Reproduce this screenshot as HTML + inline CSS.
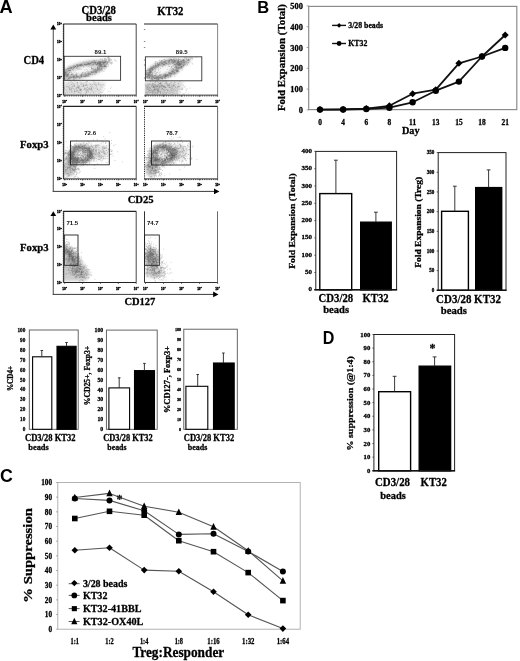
<!DOCTYPE html>
<html lang="en"><head><meta charset="utf-8"><title>Figure</title>
<style>html,body{margin:0;padding:0;background:#fff}svg{display:block}.se{font-family:"Liberation Serif", serif;font-weight:bold;stroke:#000;stroke-width:.28px;stroke-linejoin:round}.sa{font-family:"Liberation Sans", sans-serif;font-weight:bold}</style></head><body>
<svg width="520" height="661" viewBox="0 0 520 661">
<rect width="520" height="661" fill="#fff"/>
<defs><filter id="bl" x="-30%" y="-30%" width="160%" height="160%"><feGaussianBlur stdDeviation="1.6"/></filter><filter id="bs" x="-5%" y="-5%" width="110%" height="110%"><feGaussianBlur stdDeviation="0.35"/></filter></defs>
<text class="sa" x="-0.40" y="12.80" font-size="18.2">A</text>
<text class="se" x="98.70" y="13.50" font-size="12.4" stroke-width="0.40" text-anchor="middle" textLength="34.60" lengthAdjust="spacingAndGlyphs">CD3/28</text>
<text class="se" x="99.00" y="21.30" font-size="10.6" stroke-width="0.34" text-anchor="middle" textLength="25.80" lengthAdjust="spacingAndGlyphs">beads</text>
<text class="se" x="157.20" y="14.60" font-size="11.6" stroke-width="0.37" textLength="26.30" lengthAdjust="spacingAndGlyphs">KT32</text>
<text class="se" x="23.50" y="64.20" font-size="12" stroke-width="0.38" textLength="20.70" lengthAdjust="spacingAndGlyphs">CD4</text>
<text class="se" x="20.00" y="147.80" font-size="11.2" stroke-width="0.36" textLength="28.60" lengthAdjust="spacingAndGlyphs">Foxp3</text>
<text class="se" x="20.00" y="250.80" font-size="11.2" stroke-width="0.36" textLength="28.60" lengthAdjust="spacingAndGlyphs">Foxp3</text>
<text class="se" x="127.70" y="203.20" font-size="11.4" stroke-width="0.36" textLength="26.00" lengthAdjust="spacingAndGlyphs">CD25</text>
<text class="se" x="124.40" y="305.40" font-size="11.2" stroke-width="0.36" textLength="31.00" lengthAdjust="spacingAndGlyphs">CD127</text>
<line x1="53.30" y1="27.60" x2="53.30" y2="191.40" stroke="#666" stroke-width="1.2"/>
<line x1="52.70" y1="191.40" x2="216.40" y2="191.40" stroke="#3a3a3a" stroke-width="1"/>
<polygon points="53.3,24.6 50.4,29.5 56.199999999999996,29.5" fill="#000"/>
<polygon points="219.4,191.4 214.0,188.5 214.0,194.3" fill="#000"/>
<line x1="53.30" y1="214.20" x2="53.30" y2="294.40" stroke="#666" stroke-width="1.2"/>
<line x1="52.70" y1="294.40" x2="215.50" y2="294.40" stroke="#3a3a3a" stroke-width="1"/>
<polygon points="53.3,211.2 50.4,216.1 56.199999999999996,216.1" fill="#000"/>
<polygon points="218.5,294.4 213.1,291.5 213.1,297.29999999999995" fill="#000"/>
<clipPath id="c1"><rect x="64.0" y="24.5" width="71.69999999999999" height="70.8"/></clipPath><g clip-path="url(#c1)">
<ellipse cx="84" cy="69.5" rx="25" ry="8" transform="rotate(-14 84 69.5)" fill="#999" opacity="0.24" filter="url(#bl)"/>
<ellipse cx="81" cy="70.8" rx="11" ry="2.6" transform="rotate(-14 81 70.8)" fill="#fff" opacity="0.75" filter="url(#bl)"/>
<ellipse cx="83" cy="70" rx="20" ry="5.8" transform="rotate(-14 83 70)" fill="none" stroke="#444" stroke-width="2.4" opacity="0.42" filter="url(#bl)"/>
<polygon points="96,60 110,57.5 113,62 102,67" fill="#999" opacity="0.2" filter="url(#bl)"/>
<polygon points="62,82 106,82 100,95 62,96" fill="#999" opacity="0.28" filter="url(#bl)"/>
<path d="M104.4 68.0h.01M85.8 61.9h.01M68.5 75.5h.01M79.8 66.7h.01M101.5 64.6h.01M65.0 74.4h.01M98.8 68.3h.01M82.1 76.7h.01M74.3 72.2h.01M74.7 67.4h.01M86.7 65.0h.01M68.9 77.8h.01M98.6 68.2h.01M80.5 75.1h.01M97.5 63.4h.01M87.1 73.1h.01M64.9 76.3h.01M97.7 64.2h.01M100.9 66.4h.01M68.9 70.5h.01M104.3 62.5h.01M86.7 74.9h.01M100.1 62.2h.01M94.8 70.8h.01M81.6 64.0h.01M71.7 67.3h.01M65.8 75.4h.01M89.2 73.7h.01M67.1 74.7h.01M69.9 78.2h.01M91.3 63.2h.01M84.0 62.9h.01M76.1 77.7h.01M82.2 72.8h.01M67.0 75.5h.01M74.5 75.9h.01M71.4 68.0h.01M72.5 76.3h.01M66.9 75.3h.01M77.2 64.8h.01M89.7 66.9h.01M91.9 72.9h.01M80.4 64.3h.01M66.5 76.9h.01M67.4 76.4h.01M72.8 69.3h.01M67.3 73.2h.01M64.7 78.1h.01M106.6 64.2h.01M100.3 69.0h.01M77.8 66.5h.01M75.6 66.5h.01M103.3 63.1h.01M73.6 66.8h.01M99.5 67.6h.01M77.1 77.3h.01M70.0 70.7h.01M86.7 76.0h.01M106.0 62.6h.01M96.6 65.1h.01M94.0 62.0h.01M67.9 74.6h.01M94.4 61.1h.01M99.8 71.0h.01M77.6 76.7h.01M80.8 65.1h.01M66.3 74.6h.01M95.2 71.0h.01M73.7 77.2h.01M76.0 76.7h.01M78.1 77.1h.01M92.7 72.1h.01M64.6 78.1h.01M84.5 64.3h.01M86.0 65.2h.01M85.0 63.8h.01M93.3 64.6h.01M72.4 67.0h.01M89.2 61.1h.01M93.9 65.9h.01M104.0 66.4h.01M95.0 63.1h.01M81.5 75.3h.01M86.2 65.0h.01M77.3 65.2h.01M99.2 72.0h.01M70.9 67.8h.01M98.0 68.3h.01M75.9 74.8h.01M87.6 64.8h.01M72.4 74.3h.01M79.2 65.3h.01M88.6 64.3h.01M82.9 65.6h.01M98.3 66.4h.01M67.8 76.5h.01M69.2 74.5h.01M108.0 66.5h.01M66.7 72.7h.01M69.5 70.2h.01M91.4 62.3h.01M105.7 61.6h.01M101.3 70.9h.01M86.4 74.5h.01M70.7 67.8h.01M97.5 70.9h.01M88.0 75.3h.01M91.6 72.1h.01M84.9 65.1h.01M94.4 62.3h.01M97.7 67.3h.01M87.3 63.2h.01M98.1 65.5h.01M81.5 75.9h.01M92.6 72.3h.01M95.5 62.8h.01M101.5 61.5h.01M88.4 72.7h.01M72.0 74.1h.01M77.5 65.1h.01M92.4 62.9h.01M94.1 72.6h.01M70.9 67.4h.01M88.4 63.3h.01M92.1 71.9h.01M102.5 66.5h.01M81.0 75.4h.01M87.3 64.6h.01M104.4 66.5h.01M104.7 64.9h.01M76.0 74.5h.01M97.3 68.2h.01M96.3 71.8h.01M106.6 65.2h.01M66.2 73.4h.01M75.6 66.4h.01M71.0 74.9h.01M103.9 71.5h.01M73.9 78.0h.01M102.9 62.6h.01M105.9 64.0h.01M85.7 76.0h.01M101.2 65.8h.01M92.4 61.6h.01M100.0 63.1h.01M84.0 64.7h.01M93.6 63.4h.01M65.0 70.2h.01M98.7 60.7h.01M103.0 65.9h.01M81.9 75.3h.01M81.1 76.2h.01M96.6 70.3h.01M104.6 60.2h.01M105.8 65.7h.01M70.1 66.6h.01M102.2 68.0h.01M72.9 76.6h.01M95.5 74.1h.01M74.9 78.7h.01M80.2 65.2h.01M96.3 72.5h.01M90.0 73.0h.01M74.3 76.0h.01M68.5 78.2h.01M90.1 74.4h.01M105.4 60.4h.01M90.5 63.2h.01M99.1 69.7h.01M73.6 75.7h.01M85.2 73.2h.01M71.4 74.1h.01M81.0 76.9h.01M68.1 73.7h.01M103.2 61.5h.01M65.8 79.5h.01M71.2 68.4h.01M81.8 64.1h.01M105.7 67.1h.01M81.1 64.8h.01M104.3 62.3h.01M69.8 70.4h.01M79.4 77.4h.01M73.6 67.5h.01M77.2 65.8h.01M69.6 67.7h.01M96.3 71.6h.01M101.6 64.4h.01M103.9 62.9h.01M70.8 70.7h.01M104.3 66.3h.01M104.8 64.1h.01M88.8 63.9h.01M68.2 68.8h.01M83.0 65.6h.01M94.2 74.3h.01M77.7 76.6h.01M84.8 75.4h.01M99.5 69.0h.01M99.3 61.9h.01M68.3 74.8h.01M67.3 75.7h.01M94.7 69.7h.01M74.4 66.9h.01M91.0 61.4h.01M68.0 69.2h.01M85.8 76.3h.01M85.3 64.8h.01M93.7 71.2h.01M90.1 63.4h.01M79.4 77.1h.01M66.8 69.2h.01M83.3 75.7h.01M92.9 62.6h.01M95.6 63.6h.01M92.0 62.4h.01M104.9 69.2h.01M69.8 68.4h.01M76.3 78.0h.01M82.2 64.9h.01M72.9 73.4h.01M94.2 64.4h.01M97.7 68.0h.01M74.6 77.8h.01M101.2 66.7h.01M82.3 65.7h.01M97.7 62.6h.01M68.7 70.6h.01M76.8 75.1h.01M98.0 65.8h.01M99.1 70.1h.01M103.0 67.1h.01M79.4 64.9h.01M71.0 77.2h.01M75.6 74.8h.01M96.0 62.5h.01M76.8 75.7h.01M97.1 62.6h.01M68.7 68.4h.01M76.1 76.3h.01M97.8 68.1h.01M85.4 76.6h.01M103.1 63.7h.01M69.7 76.2h.01M87.6 70.9h.01M78.6 76.7h.01M99.7 61.9h.01M96.6 72.9h.01M84.7 64.5h.01M95.1 70.9h.01M99.9 64.5h.01M97.6 67.6h.01M99.6 63.4h.01M73.9 76.0h.01M79.1 64.7h.01M69.6 72.7h.01M101.3 69.0h.01M97.5 69.7h.01M95.0 71.6h.01M95.7 72.4h.01M106.1 66.6h.01M95.5 68.0h.01M104.6 62.3h.01M102.0 68.9h.01M64.7 74.3h.01M102.5 70.3h.01M88.8 74.6h.01M83.2 62.4h.01M98.4 64.2h.01M67.5 74.8h.01M107.2 64.2h.01M110.8 63.0h.01M104.4 66.7h.01M66.5 78.6h.01M65.7 73.0h.01M93.4 64.6h.01M90.0 63.1h.01M73.7 74.5h.01M90.8 63.4h.01M90.5 65.4h.01M95.7 62.4h.01M76.8 64.7h.01M95.5 69.5h.01M78.9 76.3h.01M89.3 64.5h.01M85.1 73.9h.01M76.4 68.6h.01M68.4 78.5h.01M84.5 64.6h.01M92.4 74.5h.01M97.1 69.6h.01M88.3 73.9h.01M103.0 62.3h.01M76.3 77.3h.01M98.1 62.3h.01M70.0 72.6h.01M105.6 66.1h.01M86.2 64.5h.01M93.3 68.5h.01M89.8 63.7h.01M104.1 65.1h.01M68.6 66.1h.01M93.2 72.2h.01M76.0 75.4h.01M108.9 61.1h.01M71.8 68.1h.01M81.0 65.8h.01M95.7 69.9h.01M94.8 60.5h.01M98.1 63.3h.01M93.7 71.7h.01M65.9 72.7h.01M79.5 78.6h.01M80.8 65.3h.01M104.8 65.8h.01M87.0 63.0h.01M80.3 65.8h.01M101.1 69.7h.01M94.2 60.4h.01M85.9 75.2h.01M87.6 64.3h.01M68.6 73.7h.01M94.9 72.3h.01M79.8 65.2h.01M88.5 63.2h.01M75.5 66.2h.01M96.1 65.8h.01M83.8 76.7h.01M86.3 75.4h.01M95.6 71.6h.01M65.4 78.6h.01M71.9 77.5h.01M67.7 75.0h.01M81.0 77.8h.01M100.8 65.7h.01M66.9 74.9h.01M81.8 74.4h.01M65.0 76.4h.01M96.4 64.6h.01M91.6 72.7h.01M68.1 68.8h.01M69.9 68.5h.01M80.1 77.8h.01M100.3 64.7h.01M74.1 76.9h.01M77.7 66.1h.01M93.4 61.7h.01M71.6 77.5h.01M100.7 65.2h.01M65.9 69.3h.01M77.9 66.0h.01M71.4 74.8h.01M76.6 65.3h.01M81.3 76.6h.01M100.0 63.1h.01M65.6 72.9h.01M85.0 74.5h.01M66.4 76.3h.01M98.2 62.4h.01M88.4 63.2h.01M64.4 75.2h.01M73.5 76.7h.01M69.3 77.9h.01M103.0 64.3h.01M96.3 70.0h.01M99.1 61.6h.01M95.8 61.4h.01M88.2 75.6h.01M73.1 77.2h.01M65.5 71.9h.01M86.8 64.7h.01M103.8 62.7h.01M94.1 67.1h.01M80.8 76.0h.01M90.6 73.3h.01M64.4 72.5h.01M73.4 68.4h.01M94.4 69.8h.01M72.0 68.7h.01M99.8 62.9h.01M99.2 62.9h.01M100.0 63.8h.01M97.2 64.0h.01M100.7 64.2h.01M105.7 66.5h.01M95.5 64.5h.01M81.8 76.3h.01M73.6 79.5h.01M99.6 64.4h.01M64.7 70.4h.01M74.0 76.3h.01M70.3 77.4h.01M103.0 60.6h.01M93.0 60.1h.01M92.0 70.7h.01M84.8 76.4h.01M87.8 74.0h.01M89.0 76.2h.01M66.8 71.6h.01M101.9 62.7h.01M93.0 62.7h.01M93.2 69.6h.01M90.0 74.4h.01M67.8 76.8h.01M67.7 68.2h.01M84.4 76.5h.01M74.0 76.8h.01M90.5 74.4h.01M94.9 62.3h.01M73.8 65.5h.01M71.8 75.0h.01M77.4 67.0h.01M71.5 72.4h.01M71.0 77.4h.01M66.2 74.6h.01M99.4 65.4h.01M85.5 64.2h.01M89.4 64.1h.01M96.8 70.5h.01M65.5 74.2h.01M67.7 79.5h.01M101.3 68.8h.01M70.9 76.1h.01M98.9 68.4h.01M87.1 76.3h.01M87.9 62.6h.01M73.6 66.5h.01M74.4 65.7h.01M106.3 67.9h.01M91.5 71.8h.01M99.5 66.6h.01M93.9 69.5h.01M101.1 69.4h.01M100.1 64.4h.01M95.5 63.7h.01M88.8 73.4h.01M84.1 76.5h.01M101.0 64.1h.01M66.8 71.8h.01M67.8 79.3h.01M68.2 74.7h.01M82.0 74.7h.01M78.9 65.5h.01M65.7 73.8h.01M89.0 63.9h.01M98.2 70.0h.01M105.2 64.0h.01M97.0 71.8h.01M64.7 74.7h.01M73.0 69.4h.01M73.5 77.7h.01M107.3 62.2h.01M64.6 75.4h.01M100.5 61.7h.01M100.9 66.1h.01M95.0 62.7h.01M93.8 70.6h.01M70.7 76.9h.01M64.7 75.4h.01M105.1 66.2h.01M73.8 79.8h.01M69.1 79.4h.01M100.2 64.2h.01M96.8 64.0h.01M67.8 71.2h.01M96.8 64.6h.01M94.7 62.5h.01M69.1 78.0h.01M98.9 70.2h.01M66.3 70.3h.01M75.4 77.4h.01M101.9 65.6h.01M99.3 65.3h.01M108.3 62.2h.01M70.5 69.8h.01M74.2 67.9h.01M97.8 64.0h.01M88.1 75.8h.01M85.8 76.5h.01M87.8 76.0h.01M105.2 65.8h.01M69.8 78.1h.01M81.6 64.5h.01M81.8 74.1h.01M94.3 62.8h.01M100.9 65.9h.01M92.4 68.6h.01M86.6 71.8h.01M89.8 65.0h.01M89.2 73.8h.01M84.8 70.0h.01M83.8 74.2h.01M81.2 69.3h.01M68.1 73.1h.01M93.0 65.0h.01M92.1 68.9h.01M100.0 67.1h.01M92.0 64.9h.01M97.4 68.3h.01M78.2 66.6h.01M70.0 71.4h.01M88.2 74.4h.01M82.5 73.1h.01M81.0 64.6h.01M98.8 66.4h.01M99.2 64.4h.01M99.5 66.3h.01M86.8 69.5h.01M75.7 70.4h.01M97.9 69.6h.01M100.1 65.7h.01M76.3 72.9h.01M95.7 68.9h.01M92.1 68.6h.01M65.4 73.2h.01M92.0 65.0h.01M83.3 72.3h.01M76.5 75.0h.01M79.9 69.3h.01M77.8 68.7h.01M81.0 65.6h.01M76.8 76.5h.01M72.3 74.7h.01M91.7 66.3h.01M97.4 63.2h.01M77.0 73.4h.01M91.5 67.8h.01M90.7 71.7h.01M88.1 63.9h.01M88.2 66.6h.01M65.5 72.3h.01M76.6 67.6h.01M97.2 67.1h.01M88.7 65.0h.01M75.7 66.8h.01M77.9 69.2h.01M73.3 70.6h.01M91.5 68.7h.01M90.7 64.0h.01M69.0 72.8h.01M79.0 68.9h.01M89.0 71.7h.01M69.0 70.7h.01M85.2 72.9h.01M83.6 66.6h.01M100.6 62.7h.01M102.2 59.1h.01M103.0 64.4h.01M109.2 61.1h.01M107.4 63.2h.01M111.5 64.0h.01M102.2 61.8h.01M112.1 63.6h.01M108.0 61.2h.01M104.3 61.6h.01M111.2 59.6h.01M109.7 61.9h.01M106.0 62.6h.01M104.6 59.4h.01M107.9 62.7h.01M103.2 63.8h.01M108.9 57.9h.01M103.2 61.2h.01M99.0 63.9h.01M99.4 62.1h.01M105.3 62.5h.01M105.8 66.6h.01M101.2 63.2h.01M97.4 64.7h.01M110.3 63.2h.01M100.5 62.2h.01M110.9 60.1h.01M109.3 58.6h.01M111.6 62.5h.01M106.6 59.6h.01M103.1 62.5h.01M105.4 61.4h.01M102.8 62.7h.01M96.5 60.3h.01M100.2 59.0h.01M107.0 61.5h.01M102.6 60.8h.01M104.9 62.2h.01M105.8 59.9h.01M107.6 57.8h.01M100.7 60.1h.01M108.3 57.6h.01M115.2 60.4h.01M104.2 62.9h.01M116.1 61.2h.01M91.7 67.6h.01M105.3 58.1h.01M108.2 58.3h.01M105.0 62.3h.01M100.4 64.3h.01M98.4 63.8h.01M101.0 62.3h.01M114.6 59.8h.01M98.0 63.1h.01M99.8 63.1h.01M104.9 62.0h.01M104.5 60.7h.01M106.5 63.8h.01M100.6 62.7h.01M104.3 64.7h.01M109.9 59.0h.01M104.4 58.5h.01M98.7 63.3h.01M107.5 63.3h.01M102.3 59.4h.01M106.2 61.1h.01M106.3 61.8h.01M107.9 62.5h.01M108.6 59.9h.01M109.5 59.6h.01M104.5 66.1h.01M106.0 58.9h.01M112.2 62.3h.01M110.3 61.0h.01M105.9 61.0h.01M100.2 66.4h.01M102.0 61.4h.01M101.6 66.8h.01M108.8 60.0h.01M103.7 63.2h.01M108.8 57.2h.01M109.0 60.3h.01M100.2 62.0h.01M108.4 64.9h.01M104.8 63.1h.01" stroke="#555" stroke-width="0.8" stroke-linecap="square" fill="none" opacity="0.34"/>
<path d="M70.6 90.2h.01M93.5 81.3h.01M74.8 91.6h.01M76.4 88.2h.01M94.5 82.2h.01M97.5 89.4h.01M98.8 93.2h.01M86.8 90.2h.01M67.9 86.4h.01M77.5 82.1h.01M98.6 83.9h.01M76.3 82.8h.01M91.7 88.6h.01M72.6 86.4h.01M84.3 88.3h.01M92.6 86.4h.01M77.2 90.7h.01M86.4 92.9h.01M78.5 87.6h.01M65.8 94.7h.01M69.5 89.5h.01M92.4 80.6h.01M101.7 86.0h.01M100.4 94.7h.01M99.8 84.5h.01M71.8 86.5h.01M68.6 82.8h.01M98.9 90.8h.01M88.3 90.6h.01M96.3 94.8h.01M81.9 86.5h.01M67.7 92.9h.01M74.8 81.3h.01M78.2 88.1h.01M93.7 92.5h.01M71.8 84.4h.01M77.4 82.5h.01M80.5 90.1h.01M82.6 80.7h.01M65.3 93.8h.01M67.8 91.3h.01M90.8 86.6h.01M68.0 88.9h.01M69.6 87.2h.01M83.5 84.8h.01M78.8 86.6h.01M64.7 87.1h.01M77.3 86.7h.01M92.9 91.1h.01M91.1 89.5h.01M64.4 88.6h.01M74.7 91.0h.01M74.5 91.2h.01M89.7 89.3h.01M108.1 91.7h.01M95.8 82.3h.01M96.0 84.1h.01M81.1 82.7h.01M78.6 88.1h.01M85.6 94.3h.01M88.7 89.1h.01M73.9 93.3h.01M87.7 87.3h.01M97.9 89.5h.01M88.0 91.6h.01M104.8 88.8h.01M77.8 90.8h.01M89.5 88.4h.01M74.6 86.1h.01M83.3 85.6h.01M100.7 92.0h.01M104.2 94.4h.01M87.3 87.2h.01M73.4 84.1h.01M85.1 89.9h.01M96.5 87.0h.01M95.7 88.2h.01M80.2 90.5h.01M102.1 87.7h.01M92.8 84.6h.01M89.2 88.9h.01M74.2 85.0h.01M86.1 91.8h.01M82.0 83.6h.01M91.7 90.7h.01M111.1 87.0h.01M85.0 85.5h.01M93.9 83.4h.01M72.6 82.7h.01M100.8 85.2h.01M90.1 84.1h.01M83.1 85.2h.01M79.6 86.1h.01M66.9 86.9h.01M98.6 82.3h.01M81.1 94.4h.01M83.7 85.7h.01M69.3 88.8h.01M80.1 90.8h.01M76.3 90.9h.01M71.9 82.2h.01M74.1 83.7h.01M76.8 90.9h.01M97.1 88.9h.01M74.4 86.0h.01M90.3 93.1h.01M77.5 87.4h.01M71.5 88.9h.01M85.6 85.5h.01M80.7 89.7h.01M83.5 86.5h.01M103.3 90.9h.01M93.7 93.2h.01M77.1 89.3h.01M94.9 84.8h.01M86.5 91.4h.01M81.4 90.2h.01M65.9 89.7h.01M79.9 87.7h.01M95.8 91.2h.01M65.9 92.6h.01M81.7 91.7h.01M87.5 89.5h.01M84.0 89.6h.01M85.7 90.0h.01M76.3 87.9h.01M90.6 89.8h.01M71.8 89.0h.01M78.5 92.3h.01M74.2 91.1h.01M68.3 87.0h.01M68.7 87.2h.01M69.4 80.6h.01M88.2 88.9h.01M79.6 89.6h.01M110.5 88.5h.01M76.7 91.9h.01M71.2 84.3h.01M71.6 92.3h.01M87.3 81.7h.01M94.8 84.3h.01M71.8 90.7h.01M71.8 94.7h.01M85.1 84.8h.01M70.3 89.0h.01M69.6 90.8h.01M84.5 88.1h.01M93.7 88.0h.01M80.7 89.8h.01M86.5 89.0h.01M86.9 85.3h.01M102.2 92.6h.01M79.0 90.8h.01M75.8 89.7h.01M73.5 88.6h.01M110.0 91.5h.01M103.0 84.5h.01M72.4 87.8h.01M89.8 87.1h.01M96.2 85.5h.01M101.0 92.4h.01M66.4 90.6h.01M78.9 92.6h.01M74.5 89.4h.01M80.2 92.6h.01M85.2 82.3h.01M86.6 84.6h.01M78.8 85.7h.01M86.9 81.6h.01M69.9 82.8h.01M73.0 86.0h.01M90.6 88.8h.01M86.6 85.3h.01M81.0 93.5h.01M81.7 89.4h.01M85.6 93.8h.01M80.2 88.3h.01M73.1 88.9h.01M91.6 88.1h.01M77.7 87.0h.01M76.3 88.1h.01M80.0 82.0h.01M77.6 83.5h.01M81.0 84.1h.01M100.3 89.4h.01M83.1 83.1h.01M80.4 89.9h.01M72.4 91.9h.01M80.9 89.4h.01M74.5 85.6h.01M84.5 89.5h.01M86.3 83.2h.01M71.1 87.7h.01M85.8 88.0h.01M71.3 91.5h.01M86.8 81.1h.01M91.5 85.4h.01M74.0 86.7h.01M79.4 88.9h.01M91.9 89.8h.01M71.1 81.7h.01M69.9 89.4h.01M78.0 85.9h.01M83.1 86.6h.01M77.5 84.8h.01M86.7 92.5h.01M104.0 85.4h.01M66.4 86.6h.01M69.5 92.4h.01M69.7 88.1h.01M83.8 94.6h.01M71.5 89.4h.01M69.8 85.5h.01M87.2 90.6h.01M85.5 88.4h.01M78.6 87.6h.01M81.1 84.6h.01M91.6 88.9h.01M91.6 87.4h.01M90.6 84.3h.01M74.9 92.0h.01M98.4 84.1h.01M67.2 84.2h.01M78.8 92.3h.01M96.2 85.0h.01M88.6 91.7h.01" stroke="#555" stroke-width="0.8" stroke-linecap="square" fill="none" opacity="0.3"/>
</g>
<line x1="63.70" y1="24.00" x2="63.70" y2="95.30" stroke="#222" stroke-width="1"/>
<line x1="63.20" y1="24.00" x2="136.20" y2="24.00" stroke="#222" stroke-width="1.2"/>
<line x1="136.20" y1="24.00" x2="136.20" y2="95.30" stroke="#333" stroke-width="0.9"/>
<line x1="63.70" y1="95.10" x2="136.20" y2="95.10" stroke="#333" stroke-width="0.9"/>
<line x1="63.70" y1="95.90" x2="136.20" y2="95.90" stroke="#222" stroke-width="1.0" stroke-dasharray="0.9 0.9"/>
<line x1="63.30" y1="24.00" x2="63.30" y2="95.30" stroke="#222" stroke-width="1.0" stroke-dasharray="0.9 0.9"/>
<rect x="64.20" y="56.30" width="56.40" height="24.00" fill="none" stroke="#333" stroke-width="0.9"/>
<text class="sa" x="100.50" y="54.30" font-size="6.2" text-anchor="middle" fill="#111" textLength="11.80" lengthAdjust="spacingAndGlyphs">89.1</text>
<text class="sa" x="57.10" y="96.60" font-size="3" stroke="#000" stroke-width="0.32">10<tspan dy="-1.3" font-size="2.3">0</tspan></text>
<text class="sa" x="57.10" y="78.77" font-size="3" stroke="#000" stroke-width="0.32">10<tspan dy="-1.3" font-size="2.3">1</tspan></text>
<text class="sa" x="57.10" y="60.95" font-size="3" stroke="#000" stroke-width="0.32">10<tspan dy="-1.3" font-size="2.3">2</tspan></text>
<text class="sa" x="57.10" y="43.12" font-size="3" stroke="#000" stroke-width="0.32">10<tspan dy="-1.3" font-size="2.3">3</tspan></text>
<text class="sa" x="57.10" y="25.30" font-size="3" stroke="#000" stroke-width="0.32">10<tspan dy="-1.3" font-size="2.3">4</tspan></text>
<text class="sa" x="62.30" y="102.50" font-size="3" stroke="#000" stroke-width="0.32">10<tspan dy="-1.3" font-size="2.3">0</tspan></text>
<line x1="64.70" y1="95.30" x2="64.70" y2="96.70" stroke="#222" stroke-width="0.7"/>
<text class="sa" x="80.17" y="102.50" font-size="3" stroke="#000" stroke-width="0.32">10<tspan dy="-1.3" font-size="2.3">1</tspan></text>
<line x1="82.58" y1="95.30" x2="82.58" y2="96.70" stroke="#222" stroke-width="0.7"/>
<text class="sa" x="98.05" y="102.50" font-size="3" stroke="#000" stroke-width="0.32">10<tspan dy="-1.3" font-size="2.3">2</tspan></text>
<line x1="100.45" y1="95.30" x2="100.45" y2="96.70" stroke="#222" stroke-width="0.7"/>
<text class="sa" x="115.92" y="102.50" font-size="3" stroke="#000" stroke-width="0.32">10<tspan dy="-1.3" font-size="2.3">3</tspan></text>
<line x1="118.32" y1="95.30" x2="118.32" y2="96.70" stroke="#222" stroke-width="0.7"/>
<text class="sa" x="133.80" y="102.50" font-size="3" stroke="#000" stroke-width="0.32">10<tspan dy="-1.3" font-size="2.3">4</tspan></text>
<line x1="136.20" y1="95.30" x2="136.20" y2="96.70" stroke="#222" stroke-width="0.7"/>
<clipPath id="c2"><rect x="144.8" y="24.5" width="72.29999999999998" height="70.8"/></clipPath><g clip-path="url(#c2)">
<ellipse cx="164.5" cy="69.5" rx="20" ry="9.5" transform="rotate(-20 164.5 69.5)" fill="#999" opacity="0.24" filter="url(#bl)"/>
<ellipse cx="163.5" cy="70" rx="9" ry="3" transform="rotate(-20 163.5 70)" fill="#fff" opacity="0.75" filter="url(#bl)"/>
<ellipse cx="164" cy="69.5" rx="16.5" ry="6.8" transform="rotate(-20 164 69.5)" fill="none" stroke="#444" stroke-width="2.6" opacity="0.45" filter="url(#bl)"/>
<polygon points="178,60 190,57.5 192,62 182,68" fill="#888" opacity="0.3" filter="url(#bl)"/>
<polygon points="143,82 184,82 178,95 143,96" fill="#999" opacity="0.36" filter="url(#bl)"/>
<polygon points="143,84 162,84 160,95 143,96" fill="#888" opacity="0.18" filter="url(#bl)"/>
<path d="M176.7 63.5h.01M182.2 70.1h.01M147.3 78.4h.01M167.1 62.8h.01M174.1 65.0h.01M170.9 73.6h.01M160.3 61.8h.01M169.4 73.9h.01M153.4 77.6h.01M162.0 63.6h.01M163.6 61.4h.01M183.9 65.6h.01M165.4 74.5h.01M178.0 62.8h.01M149.3 71.9h.01M150.8 71.2h.01M165.4 74.6h.01M147.4 78.1h.01M164.3 76.9h.01M177.7 70.9h.01M162.5 79.4h.01M149.5 72.3h.01M146.4 74.7h.01M149.3 73.8h.01M157.3 77.9h.01M149.5 77.8h.01M173.1 61.1h.01M172.9 63.8h.01M178.5 58.5h.01M167.9 75.6h.01M154.5 68.7h.01M163.7 65.5h.01M158.7 77.9h.01M146.8 77.0h.01M173.5 59.1h.01M155.7 63.9h.01M159.7 64.3h.01M180.9 67.3h.01M174.9 67.2h.01M155.7 65.5h.01M146.1 72.2h.01M172.4 72.1h.01M179.3 64.1h.01M167.9 75.6h.01M150.7 69.1h.01M155.2 68.0h.01M177.9 72.1h.01M155.5 68.1h.01M175.8 69.3h.01M173.4 62.3h.01M165.7 76.1h.01M178.3 64.5h.01M167.0 60.8h.01M159.3 77.9h.01M176.5 71.2h.01M170.5 73.8h.01M151.9 78.6h.01M162.0 78.2h.01M148.7 74.8h.01M164.5 75.0h.01M152.5 76.1h.01M180.5 64.9h.01M145.6 76.0h.01M148.5 70.3h.01M175.1 61.2h.01M157.7 63.8h.01M177.6 67.7h.01M154.9 78.6h.01M162.1 60.8h.01M157.4 63.1h.01M183.9 65.3h.01M178.8 65.3h.01M147.7 75.6h.01M152.6 75.5h.01M178.2 70.9h.01M164.8 75.9h.01M158.6 75.9h.01M165.2 62.6h.01M165.5 76.7h.01M165.8 64.9h.01M168.7 63.3h.01M167.2 77.1h.01M171.7 60.7h.01M178.8 67.7h.01M157.1 75.4h.01M182.6 68.4h.01M158.1 79.6h.01M162.9 78.1h.01M163.0 64.1h.01M170.4 60.0h.01M156.8 79.9h.01M158.0 77.5h.01M178.1 62.8h.01M173.3 71.8h.01M147.1 77.0h.01M150.2 70.7h.01M154.1 67.3h.01M171.8 71.0h.01M161.1 75.1h.01M177.4 71.6h.01M161.8 60.7h.01M158.7 62.9h.01M170.1 58.8h.01M152.2 76.6h.01M179.8 64.6h.01M176.2 60.4h.01M177.4 69.0h.01M170.5 76.8h.01M175.8 66.3h.01M154.2 77.0h.01M156.9 65.7h.01M175.3 62.6h.01M145.6 73.6h.01M172.9 68.6h.01M176.5 59.0h.01M180.7 68.4h.01M171.2 74.4h.01M170.7 76.3h.01M151.6 78.1h.01M171.7 59.7h.01M147.2 72.9h.01M147.1 76.8h.01M165.2 62.6h.01M169.3 73.7h.01M164.2 77.6h.01M174.9 62.0h.01M147.5 70.2h.01M152.5 79.5h.01M152.5 68.8h.01M161.4 62.6h.01M157.9 64.5h.01M148.6 74.9h.01M148.2 68.9h.01M167.7 75.6h.01M147.9 76.2h.01M170.3 64.1h.01M177.8 60.2h.01M175.5 66.0h.01M165.8 75.7h.01M165.6 78.6h.01M161.2 76.9h.01M163.4 75.2h.01M147.6 76.8h.01M167.0 75.2h.01M159.4 63.4h.01M175.8 66.2h.01M182.1 60.8h.01M174.6 74.5h.01M171.9 63.4h.01M156.4 66.6h.01M172.8 62.0h.01M148.5 78.5h.01M160.9 74.7h.01M149.8 69.8h.01M171.2 73.5h.01M153.2 76.4h.01M145.9 73.9h.01M172.0 69.8h.01M166.0 63.6h.01M151.6 75.6h.01M145.8 74.4h.01M155.6 66.3h.01M173.5 62.4h.01M177.2 70.8h.01M171.1 73.2h.01M175.3 69.9h.01M178.0 62.8h.01M149.7 78.0h.01M155.6 61.5h.01M171.9 71.7h.01M177.9 61.0h.01M176.5 70.1h.01M155.2 66.4h.01M184.8 63.5h.01M174.0 59.5h.01M152.0 79.3h.01M152.4 68.9h.01M152.1 70.2h.01M171.3 74.3h.01M150.2 76.5h.01M178.1 64.5h.01M165.1 60.9h.01M152.8 75.1h.01M163.7 75.9h.01M151.3 79.4h.01M152.2 77.8h.01M176.0 72.2h.01M156.6 76.8h.01M153.5 65.8h.01M150.5 72.1h.01M183.9 61.8h.01M161.1 62.0h.01M169.9 60.2h.01M178.9 71.8h.01M146.8 74.7h.01M166.6 75.1h.01M168.6 77.5h.01M158.1 78.6h.01M151.1 78.1h.01M150.1 80.0h.01M156.7 76.8h.01M175.8 64.7h.01M154.6 75.5h.01M178.6 60.0h.01M173.8 65.7h.01M155.4 69.3h.01M175.2 64.6h.01M180.7 63.4h.01M168.5 60.4h.01M159.1 65.2h.01M170.0 75.8h.01M173.2 73.4h.01M183.6 65.4h.01M170.7 75.7h.01M150.0 73.5h.01M149.6 77.7h.01M162.1 63.0h.01M161.0 78.3h.01M150.2 69.2h.01M155.5 78.3h.01M170.0 75.7h.01M164.2 62.0h.01M161.8 78.5h.01M147.7 74.5h.01M166.2 75.9h.01M150.5 67.3h.01M175.2 73.3h.01M183.5 66.0h.01M149.5 68.8h.01M148.7 75.3h.01M152.3 67.5h.01M179.7 67.4h.01M164.3 64.5h.01M176.5 66.7h.01M183.1 59.9h.01M177.8 61.7h.01M165.2 65.9h.01M160.1 77.6h.01M152.0 67.8h.01M176.1 64.8h.01M155.9 61.9h.01M151.1 66.5h.01M182.7 64.3h.01M179.5 65.5h.01M150.0 68.7h.01M146.4 77.8h.01M146.7 76.3h.01M170.9 73.0h.01M160.7 78.0h.01M175.1 60.6h.01M154.7 78.8h.01M176.2 64.0h.01M174.6 72.4h.01M147.8 73.9h.01M151.3 68.2h.01M155.2 65.6h.01M166.3 63.6h.01M161.9 61.6h.01M169.1 59.9h.01M175.7 67.3h.01M178.8 67.7h.01M174.4 70.3h.01M170.7 73.5h.01M157.4 63.2h.01M146.3 74.0h.01M154.9 62.9h.01M149.4 70.4h.01M151.7 71.8h.01M172.6 73.3h.01M168.4 64.9h.01M163.9 59.7h.01M162.1 62.4h.01M178.6 60.8h.01M152.6 78.3h.01M153.3 76.3h.01M149.2 76.2h.01M157.8 76.8h.01M149.6 74.3h.01M150.4 68.9h.01M152.7 70.7h.01M176.1 73.8h.01M160.2 65.1h.01M181.8 66.7h.01M169.7 73.6h.01M155.6 75.9h.01M169.6 60.5h.01M166.2 76.3h.01M169.0 61.5h.01M149.3 71.3h.01M157.7 65.7h.01M161.6 78.0h.01M177.6 63.4h.01M152.9 67.6h.01M182.1 67.2h.01M166.4 63.6h.01M150.9 75.6h.01M169.1 62.2h.01M158.1 65.8h.01M174.8 64.4h.01M175.2 61.7h.01M153.9 66.7h.01M163.2 62.7h.01M174.5 67.5h.01M166.4 60.7h.01M159.7 62.8h.01M178.0 61.9h.01M162.5 64.2h.01M153.1 69.4h.01M164.6 59.4h.01M145.4 70.4h.01M147.4 76.4h.01M176.4 64.2h.01M178.4 68.7h.01M184.7 64.7h.01M156.2 77.1h.01M148.4 77.3h.01M149.3 72.5h.01M181.3 66.7h.01M150.5 72.5h.01M181.0 61.1h.01M162.0 63.5h.01M158.5 65.8h.01M146.6 75.1h.01M174.5 60.6h.01M172.3 68.7h.01M164.4 62.3h.01M158.1 64.5h.01M154.1 78.3h.01M173.5 71.2h.01M179.5 64.1h.01M160.1 75.1h.01M159.6 75.5h.01M150.1 73.7h.01M157.3 77.7h.01M174.0 61.4h.01M176.8 71.3h.01M169.6 60.1h.01M145.3 73.9h.01M168.9 74.6h.01M174.3 60.2h.01M150.8 72.3h.01M179.1 68.4h.01M173.5 60.2h.01M164.1 75.9h.01M158.6 70.3h.01M156.3 66.6h.01M159.6 60.2h.01M158.6 64.5h.01M168.9 62.2h.01M163.7 62.3h.01M173.8 74.1h.01M147.7 72.7h.01M149.2 75.1h.01M173.0 70.2h.01M151.6 76.8h.01M164.2 64.0h.01M149.3 77.5h.01M150.2 80.4h.01M145.9 77.4h.01M150.6 71.8h.01M163.3 64.0h.01M169.4 63.4h.01M162.4 77.7h.01M165.1 77.1h.01M159.2 78.9h.01M173.1 60.4h.01M172.5 63.2h.01M160.0 74.7h.01M171.0 59.3h.01M151.1 72.5h.01M183.8 59.7h.01M155.3 70.9h.01M172.9 63.1h.01M151.5 72.1h.01M156.5 78.4h.01M172.1 59.9h.01M158.6 76.9h.01M165.6 61.1h.01M152.5 72.7h.01M159.7 76.9h.01M152.7 74.4h.01M174.3 62.2h.01M162.0 76.2h.01M179.3 67.9h.01M173.4 69.6h.01M168.0 74.9h.01M146.9 76.8h.01M164.6 62.1h.01M183.2 61.2h.01M170.4 72.4h.01M168.6 76.1h.01M177.0 64.6h.01M146.4 72.7h.01M172.5 60.7h.01M155.1 78.4h.01M162.6 76.2h.01M169.8 64.2h.01M169.0 73.1h.01M164.9 77.4h.01M155.7 77.5h.01M157.3 79.1h.01M171.2 71.5h.01M162.2 78.0h.01M175.1 73.1h.01M155.3 71.8h.01M156.1 65.2h.01M176.7 67.5h.01M146.9 71.1h.01M158.1 64.6h.01M174.5 73.3h.01M150.0 75.2h.01M176.5 63.8h.01M168.7 62.0h.01M150.8 76.1h.01M165.3 75.4h.01M172.4 71.5h.01M182.9 65.1h.01M167.4 74.6h.01M152.4 74.1h.01M151.5 74.1h.01M174.2 72.8h.01M156.2 73.5h.01M149.1 77.8h.01M168.0 60.4h.01M179.7 59.5h.01M177.0 63.0h.01M151.3 74.6h.01M171.6 60.7h.01M150.8 69.2h.01M181.4 68.6h.01M179.1 67.2h.01M151.5 70.0h.01M157.7 67.0h.01M153.6 67.6h.01M148.6 75.8h.01M146.4 71.0h.01M153.8 66.9h.01M155.5 63.8h.01M178.2 71.4h.01M151.3 75.0h.01M159.7 75.9h.01M150.8 75.0h.01M153.8 77.5h.01M176.5 67.6h.01M165.8 60.9h.01M146.2 74.8h.01M175.5 58.9h.01M180.4 65.6h.01M176.8 68.6h.01M177.6 70.1h.01M171.3 62.5h.01M148.0 75.0h.01M162.1 64.1h.01M182.2 67.0h.01M162.7 66.6h.01M181.3 67.2h.01M178.0 59.9h.01M148.5 74.6h.01M179.4 62.0h.01M151.5 68.4h.01M146.6 70.4h.01M177.0 73.1h.01M151.8 68.6h.01M161.4 60.8h.01M152.3 69.7h.01M155.4 65.4h.01M174.9 60.3h.01M158.5 66.4h.01M151.7 67.9h.01M150.4 73.4h.01M147.5 77.8h.01M159.2 65.5h.01M167.4 64.1h.01M160.7 65.4h.01M178.0 68.7h.01M165.8 76.5h.01M149.9 69.6h.01M151.2 71.6h.01M178.3 60.2h.01M177.5 63.9h.01M174.4 61.5h.01M147.7 70.1h.01M158.9 64.5h.01M168.4 64.2h.01M176.9 71.4h.01M160.2 77.6h.01M178.5 65.3h.01M148.1 68.9h.01M174.9 62.5h.01M181.6 63.3h.01M176.9 70.1h.01M174.6 76.1h.01M164.4 64.8h.01M154.7 78.4h.01M171.7 74.0h.01M152.9 79.9h.01M165.6 75.5h.01M166.0 75.1h.01M155.3 66.8h.01M166.5 76.2h.01M148.7 72.9h.01M180.9 64.8h.01M174.9 64.6h.01M176.3 68.9h.01M148.9 72.4h.01M179.8 63.6h.01M158.3 79.5h.01M162.5 77.8h.01M160.2 62.9h.01M149.5 76.3h.01M164.9 78.2h.01M150.9 71.5h.01M169.1 61.4h.01M157.3 67.5h.01M166.6 74.3h.01M152.7 66.3h.01M176.9 61.8h.01M168.6 72.1h.01M153.2 67.6h.01M149.2 74.9h.01M156.3 67.5h.01M176.6 70.8h.01M167.8 74.9h.01M157.0 78.0h.01M171.5 59.5h.01M155.2 76.9h.01M156.6 79.7h.01M161.0 63.8h.01M175.1 70.7h.01M158.4 79.8h.01M147.4 73.1h.01M157.7 77.3h.01M150.3 70.4h.01M149.6 70.3h.01M172.2 70.5h.01M177.7 70.6h.01M165.0 62.1h.01M154.9 75.5h.01M173.0 71.0h.01M181.4 67.1h.01M154.8 75.5h.01M169.1 73.1h.01M180.0 63.4h.01M171.6 67.2h.01M150.0 70.6h.01M157.7 65.7h.01M146.9 74.1h.01M165.5 76.4h.01M160.1 77.1h.01M176.5 59.9h.01M153.4 76.3h.01M156.8 78.5h.01M159.3 73.0h.01M177.6 64.5h.01M164.9 78.1h.01M172.3 72.1h.01M174.9 60.9h.01M173.6 69.9h.01M171.2 59.8h.01M151.2 68.9h.01M178.3 62.4h.01M158.9 79.1h.01M174.2 58.3h.01M180.6 67.8h.01M164.5 64.7h.01M158.5 78.4h.01M148.9 76.8h.01M165.7 63.6h.01M170.4 70.1h.01M164.7 73.6h.01M155.3 73.5h.01M164.6 74.9h.01M155.6 75.1h.01M160.1 71.9h.01M163.4 64.4h.01M150.3 72.7h.01M165.0 63.8h.01M152.6 69.5h.01M174.9 65.7h.01M171.6 66.6h.01M171.2 67.2h.01M155.9 75.0h.01M178.9 64.7h.01M148.8 74.5h.01M158.5 68.9h.01M163.3 74.4h.01M174.1 64.1h.01M167.4 69.3h.01M174.0 63.8h.01M163.5 64.6h.01M169.5 70.0h.01M175.6 67.8h.01M177.2 66.9h.01M154.2 72.0h.01M165.6 74.1h.01M169.6 66.3h.01M171.1 68.9h.01M166.7 63.7h.01M158.2 76.4h.01M176.6 65.5h.01M162.0 65.4h.01M152.6 73.1h.01M167.0 75.3h.01M160.9 76.3h.01M169.5 72.7h.01M173.6 68.6h.01M160.4 68.5h.01M148.6 73.5h.01M168.4 73.0h.01M164.0 76.3h.01M172.8 66.1h.01M157.6 72.3h.01M156.7 72.5h.01M173.3 72.2h.01M177.7 65.6h.01M153.2 68.9h.01M165.9 72.1h.01M162.3 66.5h.01M181.9 62.8h.01M183.9 64.3h.01M187.6 64.4h.01M187.8 60.4h.01M184.4 58.2h.01M192.2 58.5h.01M181.9 66.6h.01M178.6 62.0h.01M183.6 60.8h.01M184.4 62.4h.01M187.1 60.9h.01M187.4 60.3h.01M187.0 63.8h.01M175.3 63.7h.01M184.8 57.5h.01M168.7 66.6h.01M180.7 64.6h.01M183.9 62.0h.01M182.2 62.7h.01M179.4 62.0h.01M187.9 60.4h.01M186.5 61.3h.01M182.3 60.3h.01M188.1 59.0h.01M185.8 58.0h.01M185.3 62.5h.01M180.8 59.2h.01M183.2 62.4h.01M181.3 61.2h.01M188.5 60.6h.01M181.9 64.4h.01M183.8 60.5h.01M188.3 60.1h.01M188.5 59.3h.01M185.5 64.3h.01M186.2 62.5h.01M186.2 63.3h.01M184.4 62.9h.01M182.8 66.6h.01M179.6 65.0h.01M179.1 64.5h.01M190.5 57.9h.01M192.7 57.6h.01M179.9 63.8h.01M178.5 65.6h.01M176.9 62.2h.01M186.0 59.1h.01M180.4 64.3h.01M179.0 63.9h.01M177.2 66.0h.01M190.9 57.6h.01M172.2 61.3h.01M188.7 59.5h.01M189.1 57.7h.01M179.2 62.9h.01M189.1 60.1h.01M178.8 64.0h.01M184.3 63.0h.01M183.0 60.8h.01M185.2 64.4h.01M186.6 59.2h.01M176.3 66.9h.01M181.3 62.2h.01M185.0 60.4h.01M184.1 65.3h.01M181.4 66.9h.01M185.8 62.2h.01M188.5 62.8h.01M189.1 61.9h.01M181.0 66.3h.01M183.1 60.3h.01M188.3 62.3h.01M183.7 62.2h.01M186.8 65.5h.01M183.5 59.3h.01M181.1 63.8h.01M182.9 60.8h.01M187.5 62.7h.01M182.9 62.9h.01M180.7 61.4h.01M182.2 59.4h.01M185.5 61.4h.01M181.3 62.9h.01M184.5 60.1h.01M180.9 61.0h.01M183.4 63.9h.01M178.4 61.2h.01M178.9 59.2h.01M189.4 59.8h.01M178.0 61.9h.01M184.3 60.9h.01M178.9 64.1h.01M178.9 62.1h.01M184.1 60.0h.01M183.6 60.3h.01M196.4 57.5h.01M186.6 59.1h.01M177.7 63.0h.01M181.5 61.5h.01M183.0 63.8h.01M192.6 63.9h.01M183.4 65.8h.01M191.5 58.2h.01M180.7 62.2h.01M192.7 59.0h.01M181.8 65.2h.01M182.1 61.7h.01M185.9 61.4h.01M171.0 62.1h.01M186.4 57.7h.01M188.9 60.0h.01M184.1 62.1h.01M174.0 62.5h.01M177.7 63.7h.01M190.4 59.3h.01M181.0 61.7h.01" stroke="#555" stroke-width="0.8" stroke-linecap="square" fill="none" opacity="0.34"/>
<path d="M154.7 89.7h.01M175.1 86.9h.01M164.9 87.2h.01M148.7 91.5h.01M163.1 87.4h.01M179.3 86.3h.01M153.2 87.2h.01M158.8 83.3h.01M164.6 89.0h.01M173.0 93.0h.01M169.2 91.6h.01M181.0 88.8h.01M179.2 86.7h.01M147.2 87.5h.01M154.5 89.7h.01M182.1 89.4h.01M182.1 88.0h.01M157.4 93.5h.01M163.0 94.0h.01M156.0 88.9h.01M155.5 92.6h.01M171.4 86.0h.01M166.3 81.1h.01M160.1 83.8h.01M153.9 92.3h.01M187.2 88.7h.01M157.6 86.3h.01M169.1 87.0h.01M172.1 94.7h.01M167.6 86.1h.01M169.3 84.7h.01M184.4 93.8h.01M150.0 90.6h.01M154.3 94.0h.01M148.8 90.0h.01M162.3 88.9h.01M162.7 86.0h.01M146.8 89.3h.01M171.8 89.2h.01M164.0 86.9h.01M160.1 91.7h.01M152.3 90.8h.01M156.6 89.8h.01M150.3 88.1h.01M150.6 84.6h.01M147.7 94.5h.01M172.9 86.4h.01M169.7 92.3h.01M178.2 83.3h.01M170.4 90.7h.01M166.4 93.5h.01M158.6 89.7h.01M164.0 86.6h.01M180.5 92.1h.01M179.2 89.3h.01M174.3 83.4h.01M151.0 92.2h.01M156.1 85.9h.01M161.2 89.9h.01M154.9 82.6h.01M181.9 89.6h.01M145.7 85.0h.01M164.6 91.0h.01M157.5 92.3h.01M166.5 82.5h.01M148.0 89.0h.01M167.9 92.6h.01M185.4 86.4h.01M172.2 87.9h.01M165.3 94.4h.01M167.2 83.3h.01M158.8 92.3h.01M150.3 88.6h.01M174.5 82.2h.01M154.5 88.6h.01M171.9 87.4h.01M150.1 90.3h.01M151.5 89.7h.01M164.2 86.9h.01M170.7 93.2h.01M157.4 86.5h.01M160.7 93.2h.01M157.7 86.4h.01M159.7 83.6h.01M155.7 90.1h.01M177.9 86.6h.01M185.8 92.4h.01M171.2 90.7h.01M161.3 85.2h.01M159.2 88.3h.01M186.3 90.5h.01M173.3 85.0h.01M163.6 94.5h.01M177.5 93.2h.01M163.4 91.9h.01M162.4 92.4h.01M174.4 85.7h.01M167.8 85.3h.01M169.6 84.9h.01M146.8 92.5h.01M171.1 88.7h.01M160.5 92.4h.01M159.0 90.6h.01M152.9 83.7h.01M164.7 93.0h.01M167.0 86.9h.01M170.4 83.3h.01M165.0 90.6h.01M159.7 87.2h.01M162.4 85.7h.01M158.0 91.6h.01M166.8 89.3h.01M147.7 86.4h.01M153.1 91.3h.01M169.0 93.4h.01M148.2 86.6h.01M164.9 81.5h.01M158.0 88.5h.01M152.8 87.3h.01M190.0 88.1h.01M186.1 89.2h.01M151.2 90.6h.01M155.1 87.8h.01M152.7 93.2h.01M161.7 86.4h.01M146.7 88.2h.01M155.3 84.6h.01M184.3 87.4h.01M171.7 94.6h.01M165.3 90.8h.01M166.6 92.3h.01M167.5 90.3h.01M161.9 85.9h.01M154.5 85.2h.01M162.5 93.9h.01M147.9 85.3h.01M147.4 87.8h.01M173.2 86.5h.01M158.1 90.2h.01M165.9 87.5h.01M183.3 85.4h.01M158.0 86.3h.01M177.4 90.8h.01M157.0 86.4h.01M166.7 89.6h.01M154.6 87.3h.01M164.4 86.1h.01M155.8 86.1h.01M155.4 82.2h.01M147.9 89.6h.01M170.1 87.8h.01M175.5 87.1h.01M155.5 86.1h.01M182.3 89.1h.01M148.2 92.2h.01M152.0 92.5h.01M171.8 82.5h.01M160.1 91.9h.01M164.5 83.4h.01M157.8 91.0h.01M166.5 83.8h.01M162.8 89.7h.01M170.0 89.0h.01M152.7 94.1h.01M173.6 84.0h.01M154.6 86.4h.01M155.5 90.1h.01M158.2 84.7h.01M179.2 94.2h.01M161.0 83.5h.01M152.6 84.9h.01M149.2 83.9h.01M163.6 89.5h.01M166.0 84.1h.01M163.6 86.5h.01M152.6 92.1h.01M151.5 86.6h.01M173.5 85.5h.01M171.3 82.1h.01M156.2 93.0h.01M163.9 91.9h.01M159.2 85.5h.01M153.6 86.9h.01M169.4 85.4h.01M161.0 83.6h.01M160.0 86.1h.01M160.1 87.2h.01M159.3 86.7h.01M167.5 90.0h.01M183.4 94.4h.01M160.2 82.9h.01M168.7 85.6h.01M179.9 81.7h.01M160.6 91.4h.01M168.9 86.0h.01M171.2 84.4h.01M158.2 89.8h.01M146.9 94.0h.01M148.8 84.9h.01M152.8 84.0h.01M154.2 87.7h.01M147.9 84.2h.01M156.3 88.1h.01M148.5 87.9h.01M157.3 92.7h.01M168.2 90.3h.01M172.9 85.3h.01M177.3 88.9h.01M154.0 89.8h.01M163.4 81.5h.01M146.0 85.8h.01M153.1 90.0h.01M171.3 92.5h.01M167.0 84.0h.01M174.3 93.4h.01M155.7 84.6h.01M173.2 90.0h.01M160.9 82.7h.01M149.6 84.1h.01M154.5 89.4h.01M153.3 87.0h.01M159.0 87.7h.01M175.0 84.5h.01M162.4 82.2h.01M174.7 91.1h.01M172.4 88.4h.01M158.3 82.4h.01M163.9 93.9h.01M149.5 90.1h.01M149.6 87.3h.01M170.3 87.2h.01M182.8 88.2h.01M168.2 85.3h.01M153.6 86.2h.01M160.4 82.4h.01M152.2 82.0h.01M166.1 88.1h.01M146.4 86.4h.01M171.9 90.0h.01M152.8 91.3h.01M165.0 85.6h.01M146.0 92.5h.01M158.2 90.8h.01M165.1 89.2h.01M158.0 88.0h.01M168.6 90.0h.01M176.6 91.9h.01M167.5 90.9h.01M178.6 83.8h.01M157.0 85.7h.01M154.0 86.1h.01M151.9 86.0h.01M174.1 85.5h.01M175.1 89.9h.01M151.9 84.8h.01M161.6 87.1h.01M161.1 85.4h.01M167.3 85.0h.01M153.9 87.1h.01M157.2 81.6h.01M156.4 87.3h.01M166.0 83.6h.01M165.3 87.3h.01M175.9 90.0h.01M155.0 94.2h.01M173.7 89.6h.01M165.6 82.5h.01M147.5 94.2h.01M161.9 85.6h.01M182.9 93.4h.01M169.4 83.7h.01M159.9 94.5h.01M149.8 92.3h.01M163.0 90.1h.01M162.5 88.5h.01M166.1 93.8h.01M161.3 88.8h.01M154.2 84.7h.01M153.2 83.7h.01M165.9 92.5h.01M166.7 81.7h.01M160.6 84.1h.01M149.8 87.6h.01M162.3 88.5h.01M161.8 86.8h.01M160.6 93.6h.01M188.4 93.1h.01M157.3 89.8h.01M172.6 92.6h.01M176.0 93.6h.01M165.4 86.8h.01M168.1 84.2h.01M160.3 86.3h.01M158.3 84.8h.01M158.1 90.3h.01M177.7 86.9h.01M169.3 87.0h.01M155.6 89.2h.01M174.1 88.4h.01M159.7 83.7h.01M157.6 89.2h.01M173.4 91.7h.01M148.6 89.1h.01M163.6 86.9h.01M158.7 91.4h.01M155.8 81.7h.01M177.5 87.8h.01M153.9 90.3h.01M168.8 87.6h.01M152.2 85.4h.01M170.1 87.3h.01M153.3 86.2h.01M163.6 85.5h.01M150.3 81.8h.01M162.6 84.3h.01M154.5 91.9h.01M171.8 90.6h.01M174.9 82.5h.01M175.8 87.7h.01M171.8 86.0h.01M178.4 86.4h.01M163.9 89.1h.01M165.0 87.4h.01" stroke="#555" stroke-width="0.8" stroke-linecap="square" fill="none" opacity="0.3"/>
</g>
<line x1="144.00" y1="24.00" x2="217.60" y2="24.00" stroke="#222" stroke-width="1.2"/>
<line x1="217.60" y1="24.00" x2="217.60" y2="95.30" stroke="#666" stroke-width="0.8"/>
<line x1="144.50" y1="95.10" x2="217.60" y2="95.10" stroke="#333" stroke-width="0.9"/>
<line x1="144.50" y1="95.90" x2="217.60" y2="95.90" stroke="#222" stroke-width="1.0" stroke-dasharray="0.9 0.9"/>
<rect x="145.40" y="56.80" width="56.40" height="24.00" fill="none" stroke="#333" stroke-width="0.9"/>
<text class="sa" x="181.70" y="54.00" font-size="6.2" text-anchor="middle" fill="#111" textLength="11.80" lengthAdjust="spacingAndGlyphs">89.5</text>
<text class="sa" x="143.10" y="102.50" font-size="3" stroke="#000" stroke-width="0.32">10<tspan dy="-1.3" font-size="2.3">0</tspan></text>
<line x1="145.50" y1="95.30" x2="145.50" y2="96.70" stroke="#222" stroke-width="0.7"/>
<text class="sa" x="161.12" y="102.50" font-size="3" stroke="#000" stroke-width="0.32">10<tspan dy="-1.3" font-size="2.3">1</tspan></text>
<line x1="163.53" y1="95.30" x2="163.53" y2="96.70" stroke="#222" stroke-width="0.7"/>
<text class="sa" x="179.15" y="102.50" font-size="3" stroke="#000" stroke-width="0.32">10<tspan dy="-1.3" font-size="2.3">2</tspan></text>
<line x1="181.55" y1="95.30" x2="181.55" y2="96.70" stroke="#222" stroke-width="0.7"/>
<text class="sa" x="197.17" y="102.50" font-size="3" stroke="#000" stroke-width="0.32">10<tspan dy="-1.3" font-size="2.3">3</tspan></text>
<line x1="199.57" y1="95.30" x2="199.57" y2="96.70" stroke="#222" stroke-width="0.7"/>
<text class="sa" x="215.20" y="102.50" font-size="3" stroke="#000" stroke-width="0.32">10<tspan dy="-1.3" font-size="2.3">4</tspan></text>
<line x1="217.60" y1="95.30" x2="217.60" y2="96.70" stroke="#222" stroke-width="0.7"/>
<line x1="143.90" y1="29.50" x2="145.30" y2="29.50" stroke="#555" stroke-width="0.7"/>
<line x1="143.90" y1="41.50" x2="145.30" y2="41.50" stroke="#555" stroke-width="0.7"/>
<line x1="143.90" y1="47.50" x2="145.30" y2="47.50" stroke="#555" stroke-width="0.7"/>
<line x1="143.90" y1="60.00" x2="145.30" y2="60.00" stroke="#555" stroke-width="0.7"/>
<line x1="143.90" y1="65.00" x2="145.30" y2="65.00" stroke="#555" stroke-width="0.7"/>
<line x1="143.90" y1="78.00" x2="145.30" y2="78.00" stroke="#555" stroke-width="0.7"/>
<clipPath id="c3"><rect x="64.0" y="106.8" width="71.69999999999999" height="72.2"/></clipPath><g clip-path="url(#c3)">
<ellipse cx="81.5" cy="154" rx="14" ry="10.5" transform="rotate(0 81.5 154)" fill="#999" opacity="0.3" filter="url(#bl)"/>
<ellipse cx="98" cy="152" rx="10" ry="8" transform="rotate(0 98 152)" fill="#999" opacity="0.25" filter="url(#bl)"/>
<ellipse cx="70.5" cy="165" rx="6.5" ry="12" transform="rotate(15 70.5 165)" fill="#888" opacity="0.5" filter="url(#bl)"/>
<ellipse cx="81" cy="154.5" rx="4.5" ry="3.2" transform="rotate(0 81 154.5)" fill="#fff" opacity="0.4" filter="url(#bl)"/>
<ellipse cx="81" cy="154.2" rx="9.8" ry="7.3" transform="rotate(0 81 154.2)" fill="none" stroke="#444" stroke-width="2.8" opacity="0.4" filter="url(#bl)"/>
<path d="M68.1 153.7h.01M72.8 158.8h.01M86.7 155.2h.01M75.0 161.9h.01M87.1 148.4h.01M79.2 147.5h.01M82.1 153.8h.01M88.3 155.3h.01M83.6 146.8h.01M73.1 152.9h.01M90.8 151.5h.01M81.4 145.7h.01M71.3 153.4h.01M76.9 149.8h.01M91.7 152.3h.01M90.2 158.4h.01M83.5 160.7h.01M77.1 156.0h.01M78.8 158.7h.01M69.8 151.1h.01M73.7 150.2h.01M78.9 151.0h.01M90.3 154.6h.01M87.6 148.7h.01M85.2 162.2h.01M90.3 158.5h.01M85.0 146.7h.01M82.3 159.8h.01M80.3 158.0h.01M77.7 159.7h.01M83.1 164.2h.01M78.8 150.4h.01M86.3 162.4h.01M84.9 151.2h.01M75.1 152.8h.01M82.4 146.8h.01M87.3 151.2h.01M88.7 150.6h.01M76.0 151.1h.01M78.3 147.0h.01M80.5 163.2h.01M78.1 157.8h.01M69.8 154.3h.01M75.0 160.9h.01M69.2 155.1h.01M77.7 155.0h.01M69.0 155.7h.01M75.6 156.9h.01M83.5 160.6h.01M78.8 148.1h.01M82.1 159.3h.01M84.4 159.0h.01M82.0 159.9h.01M71.1 152.4h.01M92.5 155.8h.01M76.2 148.6h.01M77.0 162.5h.01M78.2 161.4h.01M74.2 146.1h.01M82.1 149.8h.01M87.7 159.8h.01M75.4 148.4h.01M91.0 154.9h.01M91.6 153.8h.01M83.9 162.8h.01M72.4 158.1h.01M70.6 157.1h.01M78.0 160.4h.01M86.3 148.5h.01M88.9 154.0h.01M87.0 162.4h.01M89.8 160.1h.01M81.8 164.0h.01M75.3 158.8h.01M90.2 154.2h.01M69.9 163.3h.01M69.7 150.0h.01M83.3 158.1h.01M79.2 162.8h.01M71.5 157.7h.01M72.8 156.5h.01M72.7 151.7h.01M86.0 158.2h.01M73.2 152.3h.01M78.3 148.9h.01M87.5 154.2h.01M72.4 154.2h.01M88.0 152.7h.01M70.2 157.3h.01M90.8 148.4h.01M79.6 147.4h.01M75.3 159.1h.01M91.7 157.2h.01M78.3 160.9h.01M93.6 160.6h.01M79.2 155.4h.01M81.1 151.8h.01M74.6 152.8h.01M70.5 151.8h.01M84.2 145.7h.01M84.3 148.4h.01M82.0 147.0h.01M80.4 147.6h.01M72.9 159.8h.01M76.5 165.0h.01M77.6 153.9h.01M87.4 164.9h.01M92.4 158.1h.01M84.7 160.2h.01M76.0 146.9h.01M89.5 150.8h.01M75.0 147.3h.01M78.9 146.1h.01M91.5 158.3h.01M76.8 158.3h.01M73.2 148.0h.01M73.1 154.9h.01M77.6 160.3h.01M91.9 150.6h.01M81.7 160.5h.01M76.3 147.1h.01M70.6 155.6h.01M90.8 152.7h.01M87.4 154.3h.01M75.6 147.0h.01M86.8 147.9h.01M83.6 142.6h.01M87.7 155.2h.01M75.5 162.7h.01M72.5 154.8h.01M73.2 157.5h.01M83.8 164.8h.01M90.1 156.0h.01M70.9 149.4h.01M90.7 152.1h.01M73.8 153.6h.01M79.1 160.9h.01M85.4 159.7h.01M89.6 151.9h.01M92.5 147.2h.01M90.6 158.4h.01M83.2 150.9h.01M76.4 143.6h.01M77.0 161.7h.01M69.1 152.2h.01M72.7 162.6h.01M76.1 158.5h.01M70.7 152.0h.01M84.5 147.7h.01M77.4 160.2h.01M87.5 158.8h.01M89.1 149.7h.01M76.5 163.3h.01M83.8 162.8h.01M86.8 147.6h.01M68.3 156.6h.01M82.8 152.0h.01M90.9 153.7h.01M86.5 161.1h.01M79.0 146.4h.01M70.5 160.8h.01M72.8 158.8h.01M72.0 161.8h.01M71.7 153.6h.01M80.3 145.5h.01M86.6 160.5h.01M73.5 158.1h.01M84.1 162.3h.01M88.1 160.8h.01M87.7 156.5h.01M91.9 149.8h.01M75.5 159.6h.01M70.9 154.6h.01M81.7 156.0h.01M71.5 155.7h.01M85.6 154.3h.01M69.5 151.2h.01M80.0 159.9h.01M73.8 157.7h.01M87.9 158.9h.01M79.9 149.7h.01M90.6 156.1h.01M87.1 155.8h.01M87.4 149.3h.01M74.0 146.8h.01M69.3 159.0h.01M75.1 145.0h.01M71.8 154.4h.01M78.6 159.3h.01M88.7 160.2h.01M69.5 160.3h.01M82.4 148.8h.01M91.0 161.0h.01M89.7 156.9h.01M82.6 152.7h.01M73.4 149.4h.01M89.5 163.4h.01M78.1 162.7h.01M89.6 147.2h.01M74.3 160.6h.01M83.5 150.8h.01M78.2 152.9h.01M85.9 157.8h.01M80.3 160.7h.01M75.4 157.3h.01M83.9 159.4h.01M90.8 149.0h.01M88.8 145.7h.01M82.4 150.5h.01M87.4 152.4h.01M74.7 159.5h.01M89.0 157.7h.01M83.5 152.5h.01M89.1 142.3h.01M77.3 162.5h.01M81.2 162.2h.01M83.8 151.6h.01M76.1 161.2h.01M85.1 158.0h.01M79.6 162.5h.01M79.1 146.4h.01M75.9 147.8h.01M85.1 161.8h.01M85.7 159.2h.01M71.6 157.3h.01M78.2 155.3h.01M92.4 156.6h.01M88.7 158.0h.01M88.9 143.1h.01M71.2 156.0h.01M84.3 154.2h.01M83.3 143.9h.01M74.1 151.4h.01M78.6 149.5h.01M81.1 147.0h.01M89.5 161.8h.01M66.1 156.4h.01M81.9 160.7h.01M70.7 155.4h.01M86.0 161.0h.01M87.3 150.5h.01M85.1 148.7h.01M73.1 150.4h.01M72.0 151.6h.01M93.2 151.5h.01M79.0 151.2h.01M71.2 158.2h.01M76.7 161.6h.01M72.1 146.5h.01M77.4 148.3h.01M84.9 148.3h.01M90.8 152.5h.01M77.6 148.6h.01M87.0 150.1h.01M73.6 156.4h.01M81.5 148.3h.01M86.8 157.0h.01M84.2 148.7h.01M86.8 157.9h.01M85.5 158.9h.01M75.6 152.1h.01M68.6 154.7h.01M73.9 148.3h.01M87.2 159.7h.01M82.0 149.2h.01M71.4 158.9h.01M82.5 147.5h.01M90.1 152.2h.01M87.2 160.0h.01M83.5 161.0h.01M89.4 147.3h.01M79.1 159.7h.01M76.8 159.2h.01M73.3 159.2h.01M89.2 157.4h.01M77.7 162.2h.01M86.3 162.5h.01M86.8 145.1h.01M71.7 148.1h.01M89.0 157.3h.01M87.4 149.1h.01M75.1 149.4h.01M77.1 163.4h.01M71.9 154.3h.01M87.6 151.7h.01M87.7 155.4h.01M81.7 163.0h.01M87.5 156.8h.01M83.3 153.4h.01M76.8 162.4h.01M87.2 147.7h.01M72.8 160.6h.01M85.0 145.4h.01M71.5 158.6h.01M71.1 157.6h.01M71.3 155.8h.01M73.8 152.3h.01M77.0 154.6h.01M80.7 157.5h.01M90.3 158.3h.01M92.1 157.6h.01M75.3 148.2h.01M87.0 150.6h.01M89.7 148.5h.01M73.0 150.1h.01M90.8 153.6h.01M73.0 151.5h.01M76.2 150.8h.01M87.4 152.0h.01M73.7 148.2h.01M85.7 164.2h.01M71.5 145.9h.01M77.5 160.6h.01M82.9 146.1h.01M71.7 152.3h.01M90.5 151.3h.01M79.3 146.1h.01M73.1 147.2h.01M85.1 158.1h.01M95.6 153.3h.01M84.8 160.7h.01M83.1 149.1h.01M91.2 144.9h.01M82.2 159.6h.01M89.6 157.6h.01M88.0 156.8h.01M85.5 163.4h.01M82.2 155.8h.01M87.4 160.7h.01M85.9 152.4h.01M93.9 158.4h.01M75.3 165.0h.01M87.0 162.1h.01M83.1 148.7h.01M92.7 158.6h.01M65.2 153.1h.01M71.6 150.7h.01M77.2 160.1h.01M76.5 164.0h.01M83.6 150.0h.01M75.1 149.1h.01M89.1 150.2h.01M91.2 154.2h.01M93.3 157.0h.01M89.9 156.5h.01M85.7 150.5h.01M78.1 150.3h.01M77.3 160.7h.01M69.9 154.7h.01M75.2 162.4h.01M83.0 162.7h.01M77.7 150.4h.01M71.6 159.0h.01M79.9 148.3h.01M68.8 158.4h.01M85.7 148.5h.01M89.8 152.5h.01M86.4 149.5h.01M69.8 158.4h.01M90.0 151.8h.01M71.7 147.4h.01M87.2 155.9h.01M89.0 150.1h.01M77.0 145.2h.01M83.8 145.5h.01M90.9 158.6h.01M87.8 160.2h.01M86.1 156.0h.01M80.2 150.0h.01M88.5 147.2h.01M75.8 149.6h.01M77.7 147.2h.01M86.7 146.7h.01M85.2 152.7h.01M77.2 156.2h.01M69.7 154.9h.01M87.3 158.2h.01M72.5 156.2h.01M73.1 161.8h.01M87.4 159.0h.01M87.5 159.6h.01M84.1 161.8h.01M76.0 155.0h.01M74.9 144.3h.01M79.2 162.3h.01M84.4 148.5h.01M73.1 146.6h.01M76.9 149.7h.01M82.4 148.4h.01M77.9 158.4h.01M90.1 153.1h.01M88.1 156.5h.01M91.5 154.4h.01M76.2 149.4h.01M89.0 149.1h.01M74.0 160.5h.01M73.1 148.6h.01M88.6 148.4h.01M71.6 156.8h.01M73.7 152.8h.01M84.7 152.5h.01M88.9 148.8h.01M77.1 157.6h.01M88.0 160.2h.01M71.8 156.4h.01M73.1 158.4h.01M85.5 147.7h.01M81.6 162.7h.01M74.0 153.1h.01M82.2 146.3h.01M93.8 154.1h.01M69.1 153.2h.01M70.3 159.4h.01M72.5 156.5h.01M71.7 152.4h.01M88.1 144.4h.01M83.2 162.4h.01M91.4 153.0h.01M88.7 146.8h.01M83.8 159.3h.01M90.0 156.3h.01M91.9 155.6h.01M88.8 150.0h.01M94.9 154.4h.01M82.5 162.3h.01M75.7 146.0h.01M88.3 152.8h.01M88.9 158.5h.01M71.3 154.4h.01M76.8 146.4h.01M78.6 146.1h.01M74.3 159.5h.01M69.7 153.0h.01M91.8 145.9h.01M90.9 154.2h.01M73.0 154.4h.01M80.4 144.4h.01M74.6 145.0h.01M71.2 151.9h.01M68.6 155.2h.01M82.8 151.4h.01M75.4 147.0h.01M83.5 147.5h.01M69.6 146.0h.01M90.8 156.9h.01M68.2 159.8h.01M73.3 158.1h.01M89.9 155.7h.01M78.1 148.3h.01M82.7 149.4h.01M73.0 152.5h.01M78.2 144.9h.01M78.2 157.9h.01M78.8 146.9h.01M68.2 153.0h.01M91.2 156.3h.01M78.5 146.0h.01M70.8 151.6h.01M69.7 154.5h.01M79.2 157.4h.01M93.6 149.7h.01M78.6 162.1h.01M72.8 152.9h.01M88.5 158.0h.01M86.9 159.7h.01M83.8 162.7h.01M85.7 150.7h.01M79.9 158.9h.01M86.0 151.4h.01M68.7 154.8h.01M73.6 154.6h.01M82.4 161.7h.01M76.6 158.0h.01M80.1 161.4h.01M78.3 148.2h.01M76.3 158.9h.01M93.3 151.1h.01M90.8 156.1h.01M88.3 154.4h.01M64.7 152.8h.01M81.9 148.8h.01M85.7 157.7h.01M76.3 152.3h.01M91.0 146.6h.01M78.5 146.6h.01M90.9 150.9h.01M69.2 158.0h.01M71.9 157.7h.01M89.1 160.7h.01M83.6 164.8h.01M88.5 148.6h.01M73.4 147.1h.01M82.4 146.5h.01M84.6 161.4h.01M76.9 164.0h.01M91.7 157.4h.01M70.3 154.3h.01M83.3 157.3h.01M75.4 157.9h.01M74.3 150.8h.01M89.5 150.4h.01M89.2 148.8h.01M74.6 148.1h.01M90.3 155.5h.01M82.5 146.2h.01M70.1 154.1h.01M72.7 161.1h.01M85.4 152.2h.01M73.1 161.6h.01M86.9 143.7h.01M85.3 145.0h.01M74.3 158.4h.01M74.4 151.6h.01M77.7 147.3h.01M74.4 163.1h.01M73.3 159.7h.01M80.1 151.0h.01M80.6 153.6h.01M80.0 146.4h.01M68.7 162.3h.01M81.4 158.3h.01M74.0 157.4h.01M90.8 153.1h.01M71.1 151.1h.01M76.4 145.7h.01M79.7 158.2h.01M84.0 147.0h.01M87.8 151.0h.01M89.4 147.7h.01M74.0 160.4h.01M83.5 163.6h.01M75.8 151.3h.01M75.0 151.9h.01M84.7 159.4h.01M89.5 154.8h.01M87.5 150.9h.01M83.7 149.9h.01M73.6 156.8h.01M85.6 156.2h.01M68.8 152.3h.01M73.2 156.6h.01M77.6 150.2h.01M79.3 161.7h.01M77.9 157.4h.01M74.5 147.8h.01M80.0 147.7h.01M83.6 164.8h.01M72.1 159.3h.01M82.1 148.6h.01M72.0 148.1h.01M86.9 160.3h.01M74.9 161.5h.01M80.5 153.3h.01M89.2 156.0h.01M88.7 151.5h.01M81.2 144.3h.01M77.7 158.6h.01M90.1 158.3h.01M85.4 148.1h.01M85.9 156.7h.01M74.4 150.6h.01M84.3 146.2h.01M89.6 156.5h.01M86.2 148.5h.01M90.5 154.7h.01M90.8 152.9h.01M70.4 154.0h.01M73.5 149.9h.01M84.6 151.0h.01M90.1 153.6h.01M86.0 160.6h.01M93.8 158.7h.01M86.1 150.7h.01M80.6 164.6h.01M72.8 154.3h.01M85.3 144.2h.01M82.6 151.4h.01M72.4 152.4h.01M84.2 154.1h.01M86.3 152.7h.01M82.5 160.4h.01M89.6 149.1h.01M73.8 152.5h.01M85.4 161.2h.01M75.0 157.4h.01M73.0 162.8h.01M86.2 149.6h.01M92.5 147.0h.01M81.9 165.0h.01M76.3 158.2h.01M91.9 155.6h.01M89.2 155.4h.01M76.3 163.8h.01M88.7 159.6h.01M90.9 146.2h.01M90.1 153.8h.01M77.4 160.2h.01M88.0 156.2h.01M82.7 161.6h.01M76.4 146.9h.01M75.5 160.3h.01M74.5 148.1h.01M74.0 161.2h.01M75.2 159.7h.01M81.2 160.1h.01M85.2 150.1h.01M77.3 159.6h.01M89.0 156.8h.01M75.6 145.9h.01M74.7 146.4h.01M78.9 159.7h.01M89.3 148.5h.01M87.9 155.6h.01M92.8 153.0h.01M75.8 153.5h.01M92.3 158.0h.01M76.4 160.1h.01M76.4 147.3h.01M88.7 150.2h.01M81.4 150.4h.01M79.2 152.0h.01M82.8 160.3h.01M86.2 152.2h.01M74.4 151.5h.01M83.0 156.6h.01M80.7 147.7h.01M87.7 154.8h.01M75.9 160.0h.01M74.4 154.8h.01M85.3 154.5h.01M78.3 155.4h.01M85.1 150.6h.01M74.6 151.7h.01M81.5 159.0h.01M83.1 156.2h.01M80.0 150.1h.01M78.0 158.2h.01M84.5 158.9h.01M89.3 152.9h.01M81.4 155.3h.01M83.1 152.1h.01M75.9 150.5h.01M84.5 155.2h.01M78.3 159.2h.01M83.0 148.9h.01M75.1 152.2h.01M88.1 157.7h.01M82.5 160.5h.01M73.8 154.5h.01M89.9 155.8h.01M78.5 157.8h.01M76.9 149.6h.01M89.5 155.5h.01M81.1 147.9h.01M77.4 153.0h.01M83.0 148.1h.01M80.3 150.5h.01M74.2 155.3h.01M86.2 155.3h.01M82.6 155.2h.01M81.8 159.2h.01M74.5 149.9h.01M72.0 152.5h.01M83.4 160.9h.01M90.2 155.4h.01M79.9 148.4h.01M83.6 150.2h.01M84.2 149.8h.01M79.7 148.0h.01M83.0 158.1h.01M87.2 158.3h.01M80.2 149.2h.01M77.6 151.9h.01M80.9 157.7h.01M73.9 154.0h.01M89.5 151.5h.01M83.3 156.3h.01M73.9 150.3h.01M87.3 153.2h.01M76.0 160.4h.01M89.5 153.9h.01M81.1 158.9h.01M80.6 160.9h.01M88.0 154.9h.01M80.5 156.1h.01M74.7 154.6h.01M78.9 154.9h.01M89.1 151.9h.01M80.0 160.7h.01M84.9 158.0h.01M71.8 155.5h.01M71.4 153.6h.01M89.5 154.7h.01M77.7 149.6h.01M87.8 153.7h.01M76.9 159.9h.01M76.8 151.5h.01M85.2 150.7h.01M82.2 150.9h.01M73.4 151.6h.01M85.7 157.6h.01M82.0 159.0h.01M78.4 157.7h.01M77.1 153.6h.01M81.7 157.1h.01M85.9 155.0h.01M83.0 153.1h.01M84.6 147.7h.01M76.0 151.8h.01M80.0 147.7h.01M84.7 151.6h.01M84.9 152.5h.01M83.0 157.4h.01M81.3 160.7h.01M85.7 153.8h.01M72.5 155.5h.01M85.3 159.2h.01M78.6 152.3h.01M74.1 155.3h.01M99.9 157.3h.01M105.7 142.8h.01M92.2 154.6h.01M96.6 147.5h.01M102.8 152.5h.01M101.6 157.3h.01M95.1 158.1h.01M99.5 153.6h.01M106.1 142.6h.01M85.1 145.3h.01M104.8 152.8h.01M93.7 145.9h.01M84.7 153.8h.01M97.9 154.3h.01M105.2 153.7h.01M108.7 149.6h.01M109.8 154.5h.01M93.8 153.1h.01M115.0 144.7h.01M93.3 149.5h.01M99.4 152.4h.01M112.6 150.8h.01M103.2 149.0h.01M89.3 151.1h.01M96.1 156.0h.01M108.3 149.3h.01M106.5 146.0h.01M111.6 143.4h.01M94.0 153.4h.01M95.0 145.3h.01M103.4 146.1h.01M105.4 143.4h.01M106.0 156.8h.01M102.0 158.0h.01M96.3 151.6h.01M106.9 145.8h.01M95.8 150.6h.01M96.1 150.2h.01M78.8 151.7h.01M99.9 159.1h.01M103.9 148.3h.01M95.6 146.3h.01M94.9 148.2h.01M106.2 154.0h.01M102.3 149.6h.01M96.5 154.8h.01M91.5 154.8h.01M104.5 148.4h.01M97.7 146.8h.01M110.6 154.4h.01M106.3 150.6h.01M91.0 151.3h.01M108.6 161.4h.01M104.0 151.8h.01M101.1 158.3h.01M90.0 157.2h.01M91.6 153.5h.01M103.7 153.7h.01M98.8 159.6h.01M95.0 150.0h.01M90.9 153.2h.01M104.0 151.4h.01M83.3 154.6h.01M103.0 147.1h.01M96.3 152.3h.01M92.1 153.6h.01M98.8 145.3h.01M76.8 146.7h.01M109.0 159.0h.01M95.6 145.8h.01M109.3 156.1h.01M107.7 162.8h.01M101.5 152.5h.01M92.1 152.9h.01M90.3 158.3h.01M96.3 161.2h.01M95.4 154.6h.01M92.0 157.1h.01M91.6 159.6h.01M102.3 141.3h.01M87.3 153.4h.01M97.6 163.7h.01M91.2 150.8h.01M98.0 153.4h.01M111.5 151.5h.01M85.6 161.2h.01M101.4 143.3h.01M92.8 150.2h.01M99.1 156.8h.01M96.2 149.0h.01M90.5 151.1h.01M98.6 154.8h.01M81.2 146.8h.01M101.8 161.9h.01M105.1 138.7h.01M82.9 155.3h.01M98.4 152.4h.01M113.5 145.8h.01M107.5 152.7h.01M93.4 139.8h.01M88.8 161.0h.01M98.7 156.8h.01M102.6 151.1h.01M104.6 153.9h.01M96.6 150.1h.01M92.3 153.7h.01M96.6 158.5h.01M95.6 146.7h.01M83.4 156.5h.01M117.6 151.8h.01M80.7 157.5h.01M92.8 156.1h.01M100.9 156.2h.01M99.0 150.4h.01M106.4 150.3h.01M107.2 148.5h.01M99.2 147.6h.01M105.3 148.1h.01M91.6 157.6h.01M100.7 151.5h.01M90.2 151.7h.01M101.1 155.9h.01M92.4 154.9h.01M83.1 152.3h.01M90.8 156.2h.01M94.6 165.4h.01M99.2 153.9h.01M80.2 143.8h.01M105.9 148.0h.01M106.6 147.7h.01M102.7 147.2h.01M101.3 155.8h.01M104.9 147.6h.01M87.7 155.2h.01M99.6 155.8h.01M88.4 156.3h.01M96.5 145.6h.01M94.3 157.3h.01M99.2 152.8h.01M98.6 149.6h.01M107.5 152.1h.01M86.6 143.5h.01M93.6 149.7h.01M103.7 136.6h.01M103.9 158.9h.01M94.2 159.3h.01M92.6 151.0h.01M94.1 161.4h.01M107.1 158.5h.01M89.0 152.6h.01M89.0 152.9h.01M102.4 160.1h.01M96.9 153.4h.01M96.9 145.7h.01M111.2 154.3h.01M109.5 157.0h.01M88.0 148.3h.01M103.5 157.1h.01M103.5 152.1h.01M104.9 146.2h.01M96.1 145.1h.01M105.9 154.3h.01M103.6 150.5h.01M77.8 147.3h.01M99.2 152.3h.01M105.3 158.7h.01M93.5 156.7h.01M84.2 156.0h.01M81.2 155.0h.01M79.8 155.0h.01M110.7 151.0h.01M103.6 158.7h.01M76.5 140.4h.01M98.1 145.4h.01M94.7 168.4h.01M113.0 155.9h.01M92.7 155.4h.01M101.0 151.1h.01M111.5 140.5h.01M110.9 149.6h.01M108.8 151.3h.01M93.6 148.1h.01M100.3 154.3h.01M122.7 161.8h.01M97.9 144.8h.01M99.0 155.7h.01M84.5 152.2h.01M108.7 149.4h.01M85.2 156.8h.01M111.4 151.0h.01M99.7 159.4h.01M102.7 148.0h.01M95.6 151.8h.01M98.4 159.4h.01M90.0 154.7h.01M97.1 139.6h.01M104.4 153.2h.01M87.9 141.4h.01M106.1 162.6h.01M99.1 150.9h.01M104.3 148.3h.01M94.1 158.1h.01M89.0 159.3h.01M100.8 160.3h.01M83.2 160.2h.01M97.6 156.2h.01M91.7 146.0h.01M107.8 155.2h.01M102.9 156.5h.01M103.4 142.6h.01M95.9 150.2h.01M114.9 160.5h.01M91.2 143.2h.01M104.3 155.9h.01M109.8 145.2h.01M112.2 153.6h.01M109.1 154.1h.01M95.1 147.5h.01M109.7 132.6h.01M107.4 156.6h.01M67.8 168.3h.01M70.7 155.3h.01M69.8 167.9h.01M71.5 159.3h.01M74.8 171.0h.01M77.5 168.5h.01M78.9 162.7h.01M68.9 153.6h.01M70.8 164.5h.01M71.0 155.3h.01M76.3 154.7h.01M66.2 141.7h.01M76.4 171.8h.01M70.0 165.9h.01M64.6 153.9h.01M66.0 164.1h.01M69.0 164.4h.01M65.5 152.4h.01M73.2 166.9h.01M73.3 160.6h.01M72.4 153.9h.01M65.4 163.9h.01M66.1 153.5h.01M66.2 173.4h.01M68.8 165.2h.01M70.5 171.2h.01M76.0 169.2h.01M71.2 153.8h.01M75.0 172.4h.01M68.8 162.5h.01M73.8 173.3h.01M66.0 152.4h.01M70.7 163.5h.01M73.7 177.3h.01M68.4 176.1h.01M74.2 165.9h.01M80.4 171.6h.01M73.9 162.6h.01M66.8 158.5h.01M73.8 174.4h.01M70.0 169.2h.01M69.3 161.3h.01M72.9 160.6h.01M72.3 161.3h.01M66.6 157.6h.01M78.9 169.0h.01M68.7 164.2h.01M67.1 159.1h.01M69.1 151.7h.01M70.1 166.5h.01M72.3 163.5h.01M76.4 160.6h.01M76.6 172.9h.01M72.0 174.7h.01M66.9 163.9h.01M70.2 158.4h.01M69.3 166.0h.01M73.0 169.1h.01M67.6 161.8h.01M70.4 159.2h.01M70.9 149.5h.01M65.0 158.0h.01M69.0 167.4h.01M68.1 174.0h.01M66.1 154.1h.01M67.1 158.1h.01M69.4 160.1h.01M73.2 170.0h.01M65.6 169.9h.01M72.1 164.3h.01M75.2 165.0h.01M78.1 158.7h.01M77.0 163.2h.01M74.6 162.4h.01M79.3 169.9h.01M74.7 158.3h.01M78.5 168.2h.01M68.4 167.9h.01M66.8 157.4h.01M72.4 146.8h.01M65.9 158.9h.01M68.8 152.0h.01M76.4 164.5h.01M69.9 150.6h.01M70.3 167.6h.01M75.0 169.2h.01M70.3 161.7h.01M71.5 168.2h.01M69.5 161.4h.01M72.5 162.4h.01M71.9 164.7h.01M66.0 171.3h.01M73.9 158.6h.01M65.8 158.0h.01M67.6 155.4h.01M71.6 161.5h.01M65.8 171.3h.01M68.8 164.5h.01M65.4 167.1h.01M74.0 162.9h.01M68.9 164.5h.01M66.1 159.6h.01M75.1 159.0h.01M73.6 163.6h.01M71.3 162.3h.01M74.6 170.4h.01M73.1 153.3h.01M71.0 171.0h.01M65.4 150.7h.01M69.3 167.8h.01M69.0 162.1h.01M72.4 162.6h.01M67.6 162.8h.01M78.0 170.1h.01M73.8 158.3h.01M67.9 153.2h.01M75.0 171.5h.01M72.6 169.1h.01M68.4 159.8h.01M76.4 162.9h.01M75.5 176.2h.01M64.8 154.9h.01M78.9 173.2h.01M78.2 177.5h.01M69.1 175.9h.01M77.4 173.0h.01M72.2 161.7h.01M66.9 152.3h.01M66.5 156.5h.01M71.6 159.1h.01M74.0 154.6h.01M64.6 160.4h.01M77.2 165.2h.01M68.4 164.1h.01M74.0 170.0h.01M73.5 165.4h.01M72.8 152.6h.01M65.2 158.4h.01M75.4 166.6h.01M70.8 155.9h.01M71.2 166.1h.01M73.5 163.7h.01M80.8 160.0h.01M75.2 156.8h.01M64.4 165.6h.01M68.7 157.7h.01M67.8 160.2h.01M77.0 162.5h.01M82.8 160.2h.01M69.8 169.8h.01M69.7 160.0h.01M75.1 163.8h.01M65.9 170.5h.01M75.1 169.4h.01M69.7 157.5h.01M76.5 166.5h.01M68.9 161.7h.01M72.7 170.1h.01M70.7 161.1h.01M65.2 159.4h.01M69.7 165.3h.01M70.7 160.0h.01M70.2 167.5h.01M70.3 162.2h.01M69.5 160.9h.01M72.5 168.4h.01M69.3 161.7h.01M72.7 169.4h.01M77.6 157.7h.01M75.0 162.2h.01M73.9 171.0h.01M79.9 164.2h.01M75.8 149.8h.01M71.1 149.2h.01M67.3 154.7h.01M65.4 153.7h.01M66.8 158.5h.01M73.3 161.7h.01M66.2 150.4h.01M73.6 166.6h.01M73.8 160.4h.01M76.7 169.7h.01M82.0 165.8h.01M74.9 176.0h.01M69.6 162.9h.01M68.3 160.7h.01M74.7 166.6h.01M65.6 177.7h.01M67.3 169.8h.01M71.1 168.3h.01M73.7 170.2h.01M74.8 176.8h.01M67.5 153.7h.01M73.3 153.2h.01M69.4 163.7h.01M70.5 166.1h.01M68.1 167.1h.01M75.2 164.7h.01M65.8 167.2h.01M75.2 169.1h.01M67.2 147.3h.01M65.6 169.4h.01M76.7 159.3h.01M72.0 172.7h.01M77.4 160.3h.01M69.9 162.8h.01M65.3 172.9h.01M75.9 168.8h.01M74.5 150.3h.01M71.1 165.8h.01M72.3 155.6h.01M69.7 157.8h.01M77.8 162.4h.01M70.2 162.3h.01M69.9 174.7h.01M78.2 169.4h.01M69.3 160.2h.01M72.5 163.4h.01M66.3 169.8h.01M74.8 166.6h.01M78.8 168.9h.01M80.1 166.6h.01M71.8 160.3h.01M75.5 162.7h.01M73.0 165.7h.01M67.3 177.1h.01M76.5 164.8h.01M75.3 168.2h.01M68.9 175.4h.01M75.2 169.9h.01M73.7 169.7h.01M74.9 167.4h.01M72.1 165.5h.01M77.2 177.0h.01M72.2 159.4h.01M76.2 161.1h.01M66.0 152.8h.01M71.3 145.4h.01M67.0 151.1h.01M75.3 161.5h.01M67.3 166.7h.01M79.0 162.2h.01M70.7 157.3h.01M75.5 167.4h.01M71.5 158.7h.01M78.3 165.0h.01M76.7 174.4h.01M65.2 160.1h.01M72.2 157.2h.01M70.4 165.7h.01M72.5 161.4h.01M68.0 153.3h.01M71.0 165.2h.01M70.4 172.6h.01M70.9 161.0h.01M79.5 172.1h.01M76.4 174.7h.01M68.4 156.4h.01M79.2 154.7h.01M68.3 173.4h.01M67.7 167.5h.01M67.0 178.1h.01M70.6 169.2h.01M64.4 166.1h.01M74.4 162.4h.01M74.4 164.1h.01M73.0 161.5h.01M68.8 154.9h.01M73.2 163.6h.01M67.5 173.5h.01M71.1 163.2h.01M67.4 168.7h.01M71.8 158.9h.01" stroke="#555" stroke-width="0.8" stroke-linecap="square" fill="none" opacity="0.34"/>
</g>
<line x1="63.70" y1="106.30" x2="63.70" y2="179.00" stroke="#222" stroke-width="1"/>
<line x1="63.20" y1="106.30" x2="136.20" y2="106.30" stroke="#222" stroke-width="1.2"/>
<line x1="136.20" y1="106.30" x2="136.20" y2="179.00" stroke="#333" stroke-width="0.9"/>
<line x1="63.70" y1="178.80" x2="136.20" y2="178.80" stroke="#333" stroke-width="0.9"/>
<line x1="63.70" y1="179.60" x2="136.20" y2="179.60" stroke="#222" stroke-width="1.0" stroke-dasharray="0.9 0.9"/>
<line x1="63.30" y1="106.30" x2="63.30" y2="179.00" stroke="#222" stroke-width="1.0" stroke-dasharray="0.9 0.9"/>
<rect x="70.50" y="141.00" width="38.80" height="23.80" fill="none" stroke="#222" stroke-width="0.9"/>
<text class="sa" x="90.15" y="134.80" font-size="6.2" text-anchor="middle" fill="#111" textLength="11.80" lengthAdjust="spacingAndGlyphs">72.6</text>
<text class="sa" x="57.10" y="180.30" font-size="3" stroke="#000" stroke-width="0.32">10<tspan dy="-1.3" font-size="2.3">0</tspan></text>
<text class="sa" x="57.10" y="162.12" font-size="3" stroke="#000" stroke-width="0.32">10<tspan dy="-1.3" font-size="2.3">1</tspan></text>
<text class="sa" x="57.10" y="143.95" font-size="3" stroke="#000" stroke-width="0.32">10<tspan dy="-1.3" font-size="2.3">2</tspan></text>
<text class="sa" x="57.10" y="125.77" font-size="3" stroke="#000" stroke-width="0.32">10<tspan dy="-1.3" font-size="2.3">3</tspan></text>
<text class="sa" x="57.10" y="107.60" font-size="3" stroke="#000" stroke-width="0.32">10<tspan dy="-1.3" font-size="2.3">4</tspan></text>
<text class="sa" x="62.30" y="186.20" font-size="3" stroke="#000" stroke-width="0.32">10<tspan dy="-1.3" font-size="2.3">0</tspan></text>
<line x1="64.70" y1="179.00" x2="64.70" y2="180.40" stroke="#222" stroke-width="0.7"/>
<text class="sa" x="80.17" y="186.20" font-size="3" stroke="#000" stroke-width="0.32">10<tspan dy="-1.3" font-size="2.3">1</tspan></text>
<line x1="82.58" y1="179.00" x2="82.58" y2="180.40" stroke="#222" stroke-width="0.7"/>
<text class="sa" x="98.05" y="186.20" font-size="3" stroke="#000" stroke-width="0.32">10<tspan dy="-1.3" font-size="2.3">2</tspan></text>
<line x1="100.45" y1="179.00" x2="100.45" y2="180.40" stroke="#222" stroke-width="0.7"/>
<text class="sa" x="115.92" y="186.20" font-size="3" stroke="#000" stroke-width="0.32">10<tspan dy="-1.3" font-size="2.3">3</tspan></text>
<line x1="118.32" y1="179.00" x2="118.32" y2="180.40" stroke="#222" stroke-width="0.7"/>
<text class="sa" x="133.80" y="186.20" font-size="3" stroke="#000" stroke-width="0.32">10<tspan dy="-1.3" font-size="2.3">4</tspan></text>
<line x1="136.20" y1="179.00" x2="136.20" y2="180.40" stroke="#222" stroke-width="0.7"/>
<clipPath id="c4"><rect x="144.8" y="106.8" width="72.29999999999998" height="72.2"/></clipPath><g clip-path="url(#c4)">
<ellipse cx="163.5" cy="154" rx="15" ry="11" transform="rotate(0 163.5 154)" fill="#999" opacity="0.3" filter="url(#bl)"/>
<ellipse cx="179" cy="152" rx="9" ry="8" transform="rotate(0 179 152)" fill="#999" opacity="0.25" filter="url(#bl)"/>
<ellipse cx="152" cy="167" rx="6.5" ry="10" transform="rotate(15 152 167)" fill="#888" opacity="0.5" filter="url(#bl)"/>
<ellipse cx="163" cy="154.5" rx="5" ry="3.5" transform="rotate(0 163 154.5)" fill="#fff" opacity="0.4" filter="url(#bl)"/>
<ellipse cx="163" cy="154.2" rx="10.5" ry="7.8" transform="rotate(0 163 154.2)" fill="none" stroke="#444" stroke-width="2.8" opacity="0.4" filter="url(#bl)"/>
<path d="M171.7 150.6h.01M157.8 161.2h.01M175.5 147.0h.01M171.6 159.6h.01M170.7 146.5h.01M153.8 152.7h.01M156.2 150.3h.01M155.7 152.5h.01M148.7 155.8h.01M170.1 155.9h.01M168.1 159.9h.01M172.6 164.5h.01M174.4 155.7h.01M155.0 149.0h.01M172.5 152.1h.01M162.0 159.6h.01M174.6 154.4h.01M163.1 144.3h.01M161.8 160.1h.01M158.5 148.2h.01M177.3 150.6h.01M153.9 152.1h.01M150.4 154.1h.01M175.8 146.0h.01M156.7 150.4h.01M173.2 152.9h.01M157.7 158.7h.01M167.1 153.1h.01M162.3 143.7h.01M154.7 147.6h.01M153.4 155.3h.01M156.8 146.8h.01M171.9 153.8h.01M169.5 154.6h.01M157.1 149.4h.01M169.3 150.0h.01M165.8 159.6h.01M169.8 145.6h.01M170.6 152.1h.01M157.3 150.7h.01M172.1 149.6h.01M169.9 161.3h.01M178.0 155.8h.01M153.0 150.4h.01M156.6 152.9h.01M167.0 149.1h.01M154.1 147.0h.01M171.6 155.1h.01M173.5 158.2h.01M150.7 161.5h.01M159.5 158.2h.01M168.7 152.3h.01M165.2 147.0h.01M173.4 153.7h.01M157.0 145.7h.01M161.3 158.5h.01M166.1 162.9h.01M154.0 157.1h.01M168.4 155.7h.01M153.5 155.9h.01M172.6 149.1h.01M176.9 149.2h.01M164.3 147.8h.01M174.6 157.6h.01M166.9 158.3h.01M150.4 150.6h.01M162.5 162.2h.01M149.2 158.3h.01M156.3 153.6h.01M165.8 159.2h.01M162.9 150.0h.01M150.2 160.6h.01M169.3 149.3h.01M166.6 151.3h.01M155.9 150.9h.01M174.4 158.5h.01M155.7 146.9h.01M154.9 160.5h.01M164.3 159.1h.01M153.0 153.9h.01M167.8 155.1h.01M168.5 156.4h.01M165.1 163.1h.01M174.6 149.9h.01M171.7 157.5h.01M161.0 150.5h.01M155.7 152.2h.01M155.8 149.8h.01M163.3 143.1h.01M164.8 160.5h.01M164.0 158.8h.01M167.8 150.3h.01M165.2 159.9h.01M169.4 158.8h.01M155.5 149.6h.01M174.2 162.8h.01M155.5 157.6h.01M167.3 155.0h.01M172.8 160.9h.01M160.0 159.9h.01M154.9 153.1h.01M160.0 148.0h.01M152.9 150.4h.01M152.3 153.3h.01M164.3 145.5h.01M172.4 155.2h.01M172.9 157.0h.01M155.7 155.0h.01M156.9 157.3h.01M156.5 158.5h.01M163.5 161.0h.01M158.9 151.4h.01M156.0 154.1h.01M157.1 163.6h.01M162.9 144.0h.01M148.0 155.0h.01M153.9 146.6h.01M158.2 163.1h.01M148.2 151.1h.01M152.2 158.5h.01M172.4 155.4h.01M172.0 156.8h.01M171.2 160.1h.01M154.2 148.6h.01M153.4 152.0h.01M168.1 148.2h.01M173.3 154.6h.01M168.1 159.0h.01M170.8 165.3h.01M174.7 155.9h.01M158.3 153.5h.01M175.5 151.6h.01M158.8 149.0h.01M165.0 147.0h.01M161.4 161.9h.01M162.6 163.9h.01M162.9 146.5h.01M163.9 162.6h.01M159.2 147.2h.01M177.1 147.0h.01M172.3 157.7h.01M158.9 159.3h.01M168.5 151.2h.01M172.2 150.4h.01M172.2 154.4h.01M173.7 156.0h.01M174.3 151.7h.01M168.3 150.6h.01M170.6 148.6h.01M158.4 148.9h.01M170.2 157.6h.01M170.4 152.3h.01M160.1 147.2h.01M156.0 150.6h.01M154.8 156.0h.01M161.7 147.2h.01M156.3 153.3h.01M149.5 150.9h.01M171.1 147.3h.01M165.8 147.5h.01M165.7 162.4h.01M166.6 149.0h.01M152.6 152.0h.01M168.8 155.7h.01M153.6 157.4h.01M152.2 154.6h.01M172.1 156.0h.01M159.7 145.2h.01M159.5 159.7h.01M152.9 151.2h.01M168.5 162.2h.01M169.6 146.8h.01M166.7 147.0h.01M162.5 165.5h.01M163.9 163.6h.01M160.7 163.2h.01M165.1 148.1h.01M171.0 148.9h.01M165.0 160.7h.01M164.2 166.3h.01M158.2 146.4h.01M169.3 158.2h.01M174.4 149.7h.01M176.5 153.1h.01M168.5 149.0h.01M159.0 146.6h.01M180.5 155.0h.01M172.1 158.2h.01M172.6 158.9h.01M153.7 150.6h.01M155.9 153.5h.01M156.9 157.9h.01M158.0 147.0h.01M151.3 157.8h.01M170.2 151.5h.01M165.8 157.0h.01M172.3 160.0h.01M172.6 156.0h.01M158.7 160.1h.01M169.2 157.9h.01M169.8 163.0h.01M172.1 157.4h.01M166.6 150.0h.01M161.4 159.7h.01M156.1 158.7h.01M166.6 158.1h.01M171.6 152.2h.01M175.8 150.5h.01M167.4 163.2h.01M169.2 163.0h.01M175.8 151.7h.01M168.8 161.1h.01M156.3 147.2h.01M166.5 151.0h.01M175.6 155.1h.01M163.7 163.3h.01M170.6 160.3h.01M173.8 156.1h.01M157.4 150.6h.01M171.7 156.2h.01M159.5 157.8h.01M169.8 149.7h.01M164.7 147.1h.01M155.9 150.5h.01M163.1 144.0h.01M165.9 148.6h.01M166.2 162.3h.01M158.9 161.8h.01M167.4 147.6h.01M169.8 146.8h.01M172.6 149.3h.01M156.7 159.4h.01M149.1 156.3h.01M153.1 152.8h.01M165.5 145.3h.01M158.0 158.4h.01M157.3 150.1h.01M173.1 157.4h.01M179.3 157.9h.01M163.1 149.1h.01M169.7 155.9h.01M171.3 153.7h.01M165.3 160.9h.01M152.4 153.3h.01M153.7 161.4h.01M154.8 149.9h.01M173.3 159.1h.01M164.5 146.4h.01M162.6 160.8h.01M164.0 160.9h.01M174.0 150.7h.01M159.6 162.0h.01M176.4 157.9h.01M165.4 162.2h.01M168.9 148.0h.01M168.2 150.4h.01M167.5 148.9h.01M165.6 145.8h.01M174.3 155.5h.01M168.9 143.8h.01M155.5 157.6h.01M175.3 152.9h.01M155.3 159.4h.01M159.6 151.8h.01M169.9 152.5h.01M158.1 146.7h.01M153.9 152.0h.01M159.3 160.0h.01M154.8 146.1h.01M153.5 156.4h.01M154.9 160.2h.01M150.3 155.2h.01M153.8 154.9h.01M160.2 163.2h.01M162.1 159.9h.01M169.2 152.0h.01M157.5 144.9h.01M149.2 156.9h.01M154.4 147.3h.01M168.1 149.2h.01M172.4 155.6h.01M167.3 159.1h.01M170.7 155.4h.01M158.4 146.8h.01M171.0 157.6h.01M150.6 158.8h.01M166.8 150.6h.01M154.8 157.1h.01M156.0 155.0h.01M169.8 154.2h.01M147.7 151.2h.01M150.6 160.5h.01M172.5 149.1h.01M174.9 153.0h.01M163.9 163.3h.01M154.0 150.0h.01M161.5 153.6h.01M159.1 153.3h.01M158.2 145.9h.01M162.4 156.5h.01M154.6 145.4h.01M165.3 163.6h.01M170.7 148.0h.01M174.5 154.9h.01M160.4 145.1h.01M158.2 159.6h.01M169.6 143.6h.01M171.1 158.2h.01M156.8 157.8h.01M177.0 159.6h.01M170.0 160.3h.01M151.6 153.4h.01M160.1 144.1h.01M152.0 163.6h.01M169.4 160.3h.01M157.3 147.4h.01M159.8 158.4h.01M152.9 152.0h.01M170.9 144.5h.01M165.0 160.2h.01M155.7 152.0h.01M157.4 154.4h.01M163.9 149.2h.01M156.6 155.5h.01M157.2 147.7h.01M169.2 147.2h.01M161.2 151.0h.01M151.9 157.0h.01M175.5 149.2h.01M153.8 147.5h.01M167.3 148.9h.01M172.7 160.5h.01M154.0 153.6h.01M155.8 153.8h.01M166.1 150.0h.01M157.1 155.6h.01M172.3 152.8h.01M174.3 157.6h.01M167.7 152.4h.01M167.2 152.7h.01M166.5 144.3h.01M166.8 159.2h.01M171.3 143.3h.01M151.6 152.9h.01M156.8 153.2h.01M156.8 145.6h.01M173.8 148.3h.01M164.3 158.2h.01M172.2 151.9h.01M166.6 164.6h.01M162.5 149.7h.01M152.1 157.4h.01M173.9 151.6h.01M173.8 163.1h.01M160.6 164.6h.01M170.2 158.6h.01M166.9 157.9h.01M163.1 147.2h.01M168.8 160.9h.01M173.3 153.1h.01M166.0 147.8h.01M170.0 156.6h.01M149.0 153.1h.01M157.9 148.4h.01M170.9 152.2h.01M166.1 146.3h.01M152.2 155.1h.01M167.1 161.3h.01M150.1 158.0h.01M170.4 153.3h.01M167.5 161.8h.01M173.2 160.7h.01M154.6 151.6h.01M161.0 146.3h.01M168.2 145.9h.01M172.5 148.7h.01M162.0 162.0h.01M166.9 158.4h.01M165.5 159.8h.01M172.3 157.8h.01M172.2 152.1h.01M170.8 158.3h.01M171.9 153.8h.01M157.9 155.8h.01M151.4 157.2h.01M161.7 148.8h.01M148.7 157.7h.01M170.7 161.8h.01M163.8 145.4h.01M167.3 159.8h.01M155.8 156.1h.01M171.2 157.5h.01M150.3 151.1h.01M173.6 154.1h.01M166.6 157.6h.01M165.4 144.9h.01M172.0 153.3h.01M175.8 155.1h.01M171.6 158.7h.01M164.8 160.2h.01M167.3 148.2h.01M164.8 144.9h.01M160.7 147.8h.01M172.4 146.1h.01M158.0 159.0h.01M171.6 163.0h.01M156.5 152.9h.01M170.2 153.1h.01M161.9 163.2h.01M155.1 144.9h.01M162.4 161.4h.01M163.3 163.7h.01M170.4 156.0h.01M169.5 151.2h.01M171.7 158.6h.01M156.3 142.9h.01M156.8 148.6h.01M167.2 157.2h.01M164.8 156.3h.01M156.0 159.8h.01M173.1 149.1h.01M166.6 147.7h.01M155.6 160.2h.01M171.0 152.7h.01M170.1 145.2h.01M165.8 145.6h.01M166.2 158.3h.01M169.2 158.7h.01M158.7 164.0h.01M171.4 158.6h.01M166.3 153.2h.01M155.3 158.0h.01M169.9 150.0h.01M160.5 154.4h.01M151.3 154.8h.01M177.0 156.6h.01M158.3 159.7h.01M158.2 149.7h.01M157.0 148.5h.01M164.2 160.8h.01M172.9 155.5h.01M157.6 162.0h.01M164.1 150.1h.01M161.0 147.5h.01M164.0 142.5h.01M160.6 147.1h.01M152.4 153.9h.01M174.0 155.7h.01M165.5 159.7h.01M158.9 150.7h.01M151.8 163.5h.01M165.2 161.7h.01M161.4 148.9h.01M165.5 144.9h.01M156.7 159.0h.01M164.7 159.6h.01M154.6 152.4h.01M169.1 155.3h.01M156.0 155.6h.01M175.8 153.9h.01M162.0 146.4h.01M160.5 160.9h.01M160.4 164.4h.01M160.0 145.4h.01M169.6 149.6h.01M157.6 156.1h.01M162.7 160.6h.01M176.7 152.3h.01M168.3 150.3h.01M165.7 142.1h.01M165.3 147.3h.01M157.8 156.8h.01M160.2 147.9h.01M162.5 164.9h.01M155.8 157.5h.01M159.4 146.1h.01M155.8 146.7h.01M162.7 147.8h.01M152.3 148.4h.01M176.4 158.1h.01M152.5 159.3h.01M164.3 150.5h.01M153.0 157.8h.01M150.7 154.9h.01M151.0 157.6h.01M163.0 165.8h.01M173.9 152.5h.01M165.2 146.7h.01M167.1 153.2h.01M157.7 157.4h.01M155.9 145.6h.01M156.8 152.0h.01M154.2 151.5h.01M157.7 153.8h.01M163.1 147.2h.01M158.8 150.3h.01M166.8 146.1h.01M172.5 156.5h.01M159.9 146.2h.01M166.6 157.5h.01M161.8 147.1h.01M161.6 144.8h.01M162.0 154.4h.01M171.3 155.1h.01M171.0 149.9h.01M175.1 156.8h.01M153.0 149.4h.01M168.7 162.1h.01M160.6 146.1h.01M161.3 163.4h.01M172.8 154.1h.01M170.0 159.4h.01M168.8 151.5h.01M157.3 148.4h.01M170.5 158.6h.01M175.4 160.1h.01M169.8 155.4h.01M169.5 147.6h.01M163.9 147.2h.01M169.0 147.9h.01M150.1 151.5h.01M172.0 150.8h.01M157.4 150.4h.01M156.7 160.5h.01M175.4 157.4h.01M173.9 156.2h.01M165.9 145.3h.01M162.0 158.8h.01M176.0 154.9h.01M157.6 159.5h.01M163.4 149.2h.01M170.6 148.0h.01M168.4 152.0h.01M162.9 145.9h.01M149.7 149.1h.01M171.7 153.7h.01M170.5 152.7h.01M156.1 162.9h.01M162.9 163.3h.01M171.5 147.0h.01M167.7 154.6h.01M167.7 149.5h.01M170.0 164.7h.01M155.6 152.0h.01M170.8 157.5h.01M170.4 159.9h.01M159.5 161.9h.01M154.8 158.2h.01M165.2 155.4h.01M168.5 146.3h.01M168.5 151.0h.01M164.5 163.9h.01M171.6 146.0h.01M170.1 154.1h.01M163.9 162.2h.01M153.2 145.7h.01M164.4 165.6h.01M159.9 144.7h.01M171.8 155.1h.01M166.7 146.0h.01M167.6 158.7h.01M166.4 164.9h.01M174.4 153.7h.01M174.9 148.1h.01M165.6 153.0h.01M171.8 154.3h.01M154.3 152.9h.01M164.8 147.5h.01M156.8 152.3h.01M155.2 147.7h.01M169.5 150.9h.01M162.7 166.0h.01M161.0 147.5h.01M172.0 155.0h.01M163.9 148.1h.01M174.0 150.5h.01M156.2 161.0h.01M162.3 148.6h.01M161.5 154.4h.01M172.2 155.3h.01M165.6 159.8h.01M170.4 159.6h.01M155.3 153.3h.01M163.4 145.8h.01M167.8 158.0h.01M166.3 162.1h.01M171.0 150.2h.01M176.1 152.8h.01M157.1 148.2h.01M162.6 163.3h.01M153.6 153.1h.01M153.2 154.4h.01M167.5 159.4h.01M164.3 149.4h.01M155.2 159.9h.01M167.5 161.1h.01M172.8 162.6h.01M163.6 145.5h.01M168.0 143.0h.01M165.6 142.4h.01M166.1 146.2h.01M166.3 149.2h.01M172.4 156.2h.01M149.6 153.2h.01M159.1 147.1h.01M176.6 155.1h.01M157.9 160.1h.01M155.2 159.7h.01M171.5 146.7h.01M161.9 163.4h.01M172.0 159.5h.01M151.8 154.2h.01M168.0 145.9h.01M172.1 157.7h.01M162.5 164.2h.01M161.9 147.7h.01M156.0 167.6h.01M161.4 162.4h.01M171.1 154.0h.01M162.6 158.5h.01M155.6 156.2h.01M174.1 157.0h.01M157.9 159.8h.01M152.9 161.3h.01M162.5 147.2h.01M169.2 151.2h.01M172.3 155.7h.01M171.9 154.1h.01M171.2 158.3h.01M168.0 150.5h.01M169.2 148.3h.01M162.2 150.6h.01M162.8 146.1h.01M152.9 153.9h.01M156.8 160.0h.01M171.0 155.2h.01M154.5 149.9h.01M167.6 146.7h.01M158.0 155.6h.01M176.3 154.6h.01M157.7 147.9h.01M166.0 162.8h.01M176.2 148.9h.01M161.6 159.2h.01M158.5 149.7h.01M163.3 148.5h.01M171.4 149.4h.01M163.8 148.6h.01M168.8 150.1h.01M178.0 157.4h.01M163.8 147.0h.01M151.4 153.1h.01M150.2 157.3h.01M159.1 164.8h.01M168.8 156.0h.01M174.7 154.2h.01M158.2 145.4h.01M172.4 161.7h.01M173.3 154.1h.01M170.8 151.4h.01M157.6 154.1h.01M166.9 154.9h.01M155.7 158.0h.01M153.4 151.7h.01M166.1 156.9h.01M168.3 156.0h.01M165.0 155.9h.01M166.7 157.3h.01M165.2 152.0h.01M168.3 152.7h.01M166.4 158.0h.01M163.0 146.8h.01M160.1 156.8h.01M168.5 159.2h.01M166.9 149.3h.01M161.0 149.9h.01M164.1 147.8h.01M164.4 155.7h.01M153.0 153.7h.01M164.6 153.3h.01M162.0 151.9h.01M166.7 148.4h.01M159.8 147.7h.01M170.9 154.8h.01M165.0 160.8h.01M162.4 151.2h.01M155.5 151.6h.01M163.7 147.4h.01M154.7 151.0h.01M157.6 151.0h.01M166.4 153.5h.01M171.2 158.5h.01M171.1 157.5h.01M170.3 153.0h.01M162.5 152.9h.01M160.3 158.4h.01M157.6 152.6h.01M159.5 151.3h.01M172.0 155.9h.01M168.2 151.7h.01M166.8 157.5h.01M170.1 154.0h.01M169.9 158.9h.01M163.6 158.3h.01M158.1 155.9h.01M162.7 151.9h.01M153.9 151.9h.01M164.2 150.4h.01M161.2 157.7h.01M169.8 156.1h.01M164.8 150.1h.01M170.6 153.5h.01M167.1 148.4h.01M164.7 155.2h.01M154.4 155.1h.01M169.7 156.2h.01M170.4 151.8h.01M158.3 161.1h.01M158.8 160.0h.01M160.8 149.2h.01M166.6 156.9h.01M163.2 146.7h.01M166.7 156.4h.01M170.8 157.0h.01M162.7 161.3h.01M166.6 156.9h.01M156.3 150.9h.01M158.1 152.4h.01M164.9 160.1h.01M168.0 155.9h.01M154.8 150.2h.01M162.8 147.5h.01M153.4 156.6h.01M160.5 151.3h.01M159.6 159.0h.01M166.4 149.6h.01M156.1 153.5h.01M153.6 156.3h.01M162.1 146.6h.01M163.4 161.7h.01M163.7 153.5h.01M161.4 156.2h.01M157.4 158.9h.01M162.4 159.5h.01M155.8 149.2h.01M158.9 149.1h.01M163.7 161.7h.01M155.4 152.9h.01M155.5 150.9h.01M157.7 153.7h.01M169.0 154.8h.01M164.8 158.7h.01M162.1 149.0h.01M167.5 159.3h.01M165.0 158.7h.01M156.1 154.4h.01M164.7 148.9h.01M160.8 155.0h.01M157.8 151.4h.01M168.6 158.5h.01M172.0 155.0h.01M167.6 152.9h.01M159.4 152.7h.01M163.6 151.8h.01M157.2 152.5h.01M160.1 160.1h.01M155.4 158.9h.01M156.0 156.7h.01M156.6 155.2h.01M178.2 149.9h.01M180.6 151.6h.01M181.7 162.9h.01M180.0 144.7h.01M187.6 158.6h.01M188.0 154.3h.01M184.1 163.7h.01M177.5 148.3h.01M188.0 150.0h.01M186.0 148.9h.01M174.7 153.8h.01M180.3 147.5h.01M189.4 149.5h.01M183.0 146.7h.01M173.9 148.7h.01M179.2 153.1h.01M179.6 152.2h.01M184.5 157.5h.01M175.1 153.0h.01M181.3 156.4h.01M181.7 150.2h.01M175.9 152.6h.01M181.6 145.9h.01M171.3 149.8h.01M178.8 148.3h.01M175.2 147.4h.01M181.7 140.4h.01M178.1 148.2h.01M178.3 153.2h.01M157.5 158.7h.01M183.1 161.4h.01M183.5 157.5h.01M181.9 161.5h.01M168.9 151.5h.01M171.8 157.3h.01M179.9 161.7h.01M179.1 151.1h.01M176.9 147.7h.01M164.1 151.9h.01M175.1 149.5h.01M170.2 152.7h.01M170.9 153.7h.01M176.5 150.2h.01M167.2 154.0h.01M184.1 151.3h.01M174.1 155.7h.01M183.5 149.5h.01M196.9 159.4h.01M188.5 154.5h.01M180.9 146.3h.01M176.3 152.4h.01M182.9 149.1h.01M172.2 159.0h.01M178.8 157.7h.01M178.8 148.5h.01M178.0 137.5h.01M184.8 155.4h.01M186.2 150.8h.01M191.7 159.3h.01M165.9 141.6h.01M179.8 143.8h.01M177.0 151.0h.01M175.9 161.0h.01M182.0 155.8h.01M179.7 169.7h.01M187.2 148.0h.01M181.9 147.7h.01M176.9 151.5h.01M168.4 141.0h.01M169.6 155.3h.01M158.8 155.6h.01M163.3 147.3h.01M174.3 156.4h.01M178.0 145.5h.01M173.9 153.5h.01M185.5 153.6h.01M177.2 150.4h.01M188.9 147.1h.01M174.8 154.1h.01M186.9 141.7h.01M184.8 158.9h.01M179.8 140.7h.01M173.0 151.1h.01M180.0 144.6h.01M176.3 156.2h.01M174.2 150.2h.01M174.7 143.5h.01M175.5 150.7h.01M183.2 147.2h.01M168.8 149.0h.01M171.8 155.3h.01M174.0 142.6h.01M182.2 151.5h.01M179.2 154.3h.01M185.3 146.5h.01M182.3 152.4h.01M178.3 151.4h.01M174.7 153.2h.01M178.1 156.0h.01M188.3 146.1h.01M191.5 158.4h.01M170.0 151.2h.01M177.9 159.0h.01M171.2 162.2h.01M170.4 149.8h.01M173.7 144.6h.01M170.1 148.4h.01M176.1 148.3h.01M171.5 136.5h.01M176.0 163.2h.01M189.5 158.9h.01M175.2 155.0h.01M174.2 149.2h.01M179.1 158.1h.01M174.5 148.0h.01M177.7 143.1h.01M183.9 158.1h.01M186.2 156.6h.01M173.9 150.6h.01M171.5 153.8h.01M193.2 146.1h.01M182.6 160.2h.01M170.7 164.7h.01M173.4 151.4h.01M180.9 157.6h.01M183.6 150.5h.01M173.4 138.1h.01M174.5 159.6h.01M172.5 155.7h.01M183.0 153.0h.01M174.2 148.7h.01M177.7 141.5h.01M187.8 145.8h.01M173.6 148.3h.01M176.0 154.3h.01M186.5 153.4h.01M189.0 149.8h.01M182.9 156.8h.01M179.1 156.0h.01M171.0 160.0h.01M183.7 153.1h.01M175.6 157.1h.01M170.5 156.5h.01M184.6 167.1h.01M177.5 160.2h.01M182.5 142.5h.01M169.1 148.9h.01M186.2 160.8h.01M176.4 154.7h.01M179.7 137.2h.01M185.8 160.6h.01M162.5 146.5h.01M177.5 151.6h.01M185.5 159.1h.01M174.2 156.2h.01M173.6 150.2h.01M179.8 155.4h.01M173.7 163.5h.01M179.5 152.1h.01M183.5 148.3h.01M180.3 137.4h.01M166.1 149.9h.01M174.8 149.9h.01M173.6 155.6h.01M186.6 149.1h.01M185.4 154.4h.01M169.7 144.0h.01M178.5 158.6h.01M171.7 139.5h.01M184.9 159.0h.01M176.5 158.6h.01M192.3 147.0h.01M175.4 149.8h.01M185.7 147.0h.01M175.9 159.8h.01M185.2 158.5h.01M171.7 154.8h.01M174.1 157.7h.01M181.7 156.4h.01M177.0 153.1h.01M180.9 151.0h.01M180.5 146.4h.01M170.0 142.0h.01M177.2 157.2h.01M181.3 140.4h.01M181.1 152.5h.01M177.2 153.6h.01M182.3 160.4h.01M186.9 163.6h.01M182.4 148.8h.01M187.6 145.1h.01M184.2 146.2h.01M174.4 159.6h.01M174.1 158.6h.01M182.7 151.5h.01M183.5 155.9h.01M179.4 148.6h.01M184.2 150.4h.01M178.0 155.0h.01M177.7 153.9h.01M180.5 154.0h.01M179.3 160.5h.01M175.1 149.8h.01M169.8 138.6h.01M183.0 155.2h.01M188.3 143.8h.01M173.1 149.0h.01M191.8 157.8h.01M177.2 152.2h.01M180.5 145.7h.01M180.7 145.9h.01M179.0 156.3h.01M180.2 148.1h.01M176.3 156.9h.01M174.8 144.3h.01M176.3 149.2h.01M176.8 152.1h.01M175.8 150.1h.01M184.4 155.5h.01M157.8 168.2h.01M151.2 167.2h.01M145.9 157.2h.01M157.2 164.8h.01M149.8 158.8h.01M155.2 160.1h.01M159.0 169.3h.01M148.0 167.2h.01M155.5 164.1h.01M149.8 167.3h.01M149.9 172.3h.01M149.7 166.7h.01M149.9 166.3h.01M158.3 166.8h.01M153.3 160.9h.01M147.2 169.5h.01M151.7 170.6h.01M157.3 165.1h.01M153.4 159.3h.01M154.7 166.1h.01M160.5 173.1h.01M151.9 161.5h.01M151.6 165.2h.01M156.4 172.6h.01M146.8 157.6h.01M154.3 159.3h.01M152.2 155.4h.01M151.0 162.4h.01M151.1 161.3h.01M155.0 171.3h.01M156.2 165.2h.01M151.1 161.2h.01M149.1 163.2h.01M151.8 163.9h.01M153.8 170.6h.01M149.5 163.0h.01M155.3 167.6h.01M148.8 157.5h.01M155.8 160.7h.01M154.7 160.7h.01M161.2 162.8h.01M161.5 172.9h.01M159.5 174.9h.01M155.4 165.0h.01M164.7 167.8h.01M153.8 158.7h.01M152.8 169.1h.01M149.5 165.4h.01M151.5 163.5h.01M155.9 171.8h.01M149.3 155.0h.01M155.2 160.7h.01M150.7 160.5h.01M150.1 176.9h.01M153.7 164.3h.01M158.3 178.5h.01M151.8 163.7h.01M161.9 174.0h.01M149.0 161.2h.01M153.5 163.4h.01M150.9 176.7h.01M155.8 158.8h.01M147.3 157.5h.01M157.0 161.2h.01M155.3 160.0h.01M146.7 166.1h.01M156.9 159.7h.01M147.9 165.3h.01M148.1 157.5h.01M147.5 165.4h.01M160.6 175.5h.01M151.7 161.5h.01M155.3 160.4h.01M163.3 166.0h.01M158.6 172.2h.01M150.6 163.5h.01M148.7 164.7h.01M155.7 166.7h.01M151.1 165.2h.01M158.8 172.9h.01M155.2 163.0h.01M150.4 167.6h.01M150.8 161.1h.01M159.5 168.6h.01M153.9 162.7h.01M154.1 170.7h.01M154.1 157.8h.01M150.3 167.8h.01M153.9 171.6h.01M151.2 164.7h.01M157.1 166.9h.01M156.9 157.2h.01M148.0 169.0h.01M156.6 171.2h.01M157.1 172.3h.01M147.2 172.4h.01M156.9 160.4h.01M146.2 165.4h.01M149.3 167.1h.01M151.2 156.4h.01M148.4 161.7h.01M152.5 169.8h.01M149.3 166.8h.01M151.5 164.2h.01M145.5 166.6h.01M157.9 169.7h.01M162.7 170.5h.01M156.7 164.9h.01M154.3 160.2h.01M151.1 170.6h.01M152.5 163.4h.01M152.0 167.9h.01M159.3 159.3h.01M152.5 164.5h.01M151.4 164.7h.01M155.1 172.8h.01M153.1 157.3h.01M154.8 161.3h.01M151.8 158.4h.01M150.8 172.7h.01M152.2 168.7h.01M148.5 166.5h.01M149.9 148.1h.01M155.7 161.9h.01M147.1 159.9h.01M160.5 157.6h.01M155.6 172.7h.01M145.6 157.3h.01M150.4 160.5h.01M157.1 167.2h.01M149.7 166.1h.01M158.4 165.1h.01M148.3 168.8h.01M160.9 177.0h.01M156.4 165.7h.01M156.6 170.0h.01M155.7 166.4h.01M157.8 172.3h.01M146.5 167.4h.01M147.8 164.5h.01M152.1 168.1h.01M150.3 162.7h.01M150.3 162.0h.01M145.8 166.1h.01M150.0 166.7h.01M152.8 168.1h.01M155.7 159.5h.01M152.3 166.7h.01M149.4 160.8h.01M154.7 173.7h.01M155.6 170.8h.01M154.5 177.2h.01M153.1 171.1h.01M169.6 174.0h.01M152.9 157.1h.01M153.2 160.9h.01M150.5 158.7h.01M152.9 162.2h.01M155.8 175.4h.01M155.4 167.1h.01M153.1 173.8h.01M146.4 158.2h.01M150.2 158.2h.01M155.5 164.7h.01M148.2 167.4h.01M152.5 168.1h.01M152.9 163.0h.01M147.7 166.7h.01M148.4 170.1h.01M154.2 166.2h.01M149.0 173.8h.01M151.7 168.6h.01M149.8 171.4h.01M155.1 172.7h.01M157.1 166.8h.01M148.7 164.9h.01M149.9 162.9h.01M161.5 174.5h.01M154.8 170.6h.01M157.7 169.2h.01M153.0 167.1h.01M147.7 164.9h.01M150.8 172.8h.01M156.5 170.5h.01M158.7 171.0h.01M152.0 176.9h.01M147.8 154.3h.01M149.7 169.3h.01M150.2 166.1h.01M158.1 172.3h.01M155.6 173.8h.01M153.8 173.1h.01M154.6 175.9h.01M159.0 169.4h.01M159.4 174.4h.01M157.9 170.7h.01M148.2 162.4h.01M158.4 176.2h.01M146.3 159.5h.01M156.8 164.8h.01M156.3 176.2h.01M145.3 164.9h.01M155.4 170.4h.01M159.0 175.7h.01M156.8 163.1h.01M148.6 165.0h.01M155.8 166.2h.01M155.2 169.7h.01M159.6 167.7h.01M153.4 178.3h.01M159.4 167.0h.01M148.1 165.2h.01M156.7 167.2h.01M147.2 158.0h.01M150.5 166.1h.01M155.2 174.0h.01M150.2 161.0h.01M145.0 158.0h.01M152.3 164.7h.01M152.5 167.5h.01M151.6 157.8h.01M154.4 169.0h.01M150.5 162.2h.01M148.7 166.2h.01M158.9 171.6h.01M154.4 175.8h.01M145.8 162.7h.01M153.7 164.7h.01M152.6 165.0h.01M150.1 158.5h.01M147.9 162.6h.01M155.3 170.0h.01M156.9 153.8h.01M148.6 157.9h.01M153.1 166.2h.01M151.0 171.0h.01M150.7 165.9h.01M155.7 169.7h.01M151.5 173.3h.01M156.6 172.9h.01M154.2 167.7h.01M149.2 153.7h.01M147.4 155.1h.01M152.8 157.7h.01M150.4 159.8h.01M153.0 164.9h.01M159.9 173.7h.01M160.8 169.4h.01M162.8 167.3h.01M160.2 167.7h.01M153.6 165.6h.01M150.0 162.4h.01M153.7 170.4h.01M152.8 168.4h.01M164.2 175.8h.01M152.4 167.3h.01M153.2 173.5h.01M150.5 171.2h.01M155.1 151.8h.01M155.4 163.7h.01M148.5 164.4h.01M153.4 161.2h.01M152.5 168.5h.01M148.4 163.1h.01M150.9 169.5h.01M148.5 159.6h.01M152.6 160.1h.01M150.3 159.8h.01M161.6 166.4h.01M159.9 169.3h.01M161.8 163.6h.01M153.9 152.7h.01M159.5 171.9h.01M151.2 176.9h.01M161.0 169.2h.01M149.0 156.0h.01M158.3 157.2h.01" stroke="#555" stroke-width="0.8" stroke-linecap="square" fill="none" opacity="0.34"/>
</g>
<line x1="144.00" y1="106.30" x2="217.60" y2="106.30" stroke="#222" stroke-width="1.2"/>
<line x1="217.60" y1="106.30" x2="217.60" y2="179.00" stroke="#555" stroke-width="0.9"/>
<line x1="144.50" y1="178.80" x2="217.60" y2="178.80" stroke="#333" stroke-width="0.9"/>
<line x1="144.50" y1="179.60" x2="217.60" y2="179.60" stroke="#222" stroke-width="1.0" stroke-dasharray="0.9 0.9"/>
<line x1="144.50" y1="106.30" x2="144.50" y2="179.00" stroke="#111" stroke-width="1.0" stroke-dasharray="0.9 0.9"/>
<rect x="151.50" y="141.00" width="38.80" height="24.00" fill="none" stroke="#222" stroke-width="0.9"/>
<text class="sa" x="171.90" y="134.80" font-size="6.2" text-anchor="middle" fill="#111" textLength="11.80" lengthAdjust="spacingAndGlyphs">78.7</text>
<text class="sa" x="143.10" y="186.20" font-size="3" stroke="#000" stroke-width="0.32">10<tspan dy="-1.3" font-size="2.3">0</tspan></text>
<line x1="145.50" y1="179.00" x2="145.50" y2="180.40" stroke="#222" stroke-width="0.7"/>
<text class="sa" x="161.12" y="186.20" font-size="3" stroke="#000" stroke-width="0.32">10<tspan dy="-1.3" font-size="2.3">1</tspan></text>
<line x1="163.53" y1="179.00" x2="163.53" y2="180.40" stroke="#222" stroke-width="0.7"/>
<text class="sa" x="179.15" y="186.20" font-size="3" stroke="#000" stroke-width="0.32">10<tspan dy="-1.3" font-size="2.3">2</tspan></text>
<line x1="181.55" y1="179.00" x2="181.55" y2="180.40" stroke="#222" stroke-width="0.7"/>
<text class="sa" x="197.17" y="186.20" font-size="3" stroke="#000" stroke-width="0.32">10<tspan dy="-1.3" font-size="2.3">3</tspan></text>
<line x1="199.57" y1="179.00" x2="199.57" y2="180.40" stroke="#222" stroke-width="0.7"/>
<text class="sa" x="215.20" y="186.20" font-size="3" stroke="#000" stroke-width="0.32">10<tspan dy="-1.3" font-size="2.3">4</tspan></text>
<line x1="217.60" y1="179.00" x2="217.60" y2="180.40" stroke="#222" stroke-width="0.7"/>
<clipPath id="c5"><rect x="64.0" y="211.8" width="71.69999999999999" height="70.69999999999999"/></clipPath><g clip-path="url(#c5)">
<polygon points="62,246 70,246 80,258 90,274 86,281 62,281" fill="#888" opacity="0.42" filter="url(#bl)"/>
<polyline points="66,250 74,260 78,268" fill="none" stroke="#555" stroke-width="3" stroke-linecap="round" stroke-linejoin="round" opacity="0.4" filter="url(#bl)"/>
<path d="M70.1 264.9h.01M72.8 250.6h.01M66.8 259.7h.01M65.8 249.1h.01M67.9 259.2h.01M66.1 249.5h.01M77.1 259.6h.01M71.8 259.2h.01M76.4 251.3h.01M66.5 265.0h.01M76.9 264.3h.01M71.2 260.9h.01M75.5 264.8h.01M65.7 251.8h.01M73.1 259.5h.01M65.9 250.5h.01M66.2 249.7h.01M72.2 260.3h.01M74.1 264.3h.01M71.9 249.8h.01M71.4 253.9h.01M73.2 263.7h.01M70.5 247.9h.01M70.8 251.8h.01M77.4 254.4h.01M75.3 258.4h.01M73.0 253.8h.01M73.7 258.3h.01M70.2 249.3h.01M68.3 243.1h.01M73.7 256.6h.01M78.5 253.9h.01M79.0 265.4h.01M68.8 257.0h.01M64.7 243.1h.01M77.2 250.0h.01M71.1 263.9h.01M71.7 264.2h.01M70.0 251.5h.01M77.0 266.1h.01M70.7 263.7h.01M65.4 257.3h.01M69.1 255.8h.01M71.7 257.7h.01M73.8 266.5h.01M78.2 262.8h.01M71.5 251.1h.01M79.5 268.6h.01M68.1 254.8h.01M78.8 258.9h.01M72.6 257.6h.01M69.8 255.7h.01M68.9 255.2h.01M74.1 247.9h.01M68.1 251.9h.01M66.3 244.5h.01M64.5 245.9h.01M71.9 258.2h.01M77.5 260.6h.01M76.5 254.1h.01M71.9 258.7h.01M65.9 250.6h.01M65.9 259.9h.01M74.3 259.1h.01M74.5 262.8h.01M66.7 245.0h.01M75.1 265.7h.01M78.7 255.0h.01M71.0 262.9h.01M80.0 261.8h.01M69.2 252.4h.01M73.2 262.4h.01M76.0 257.7h.01M78.4 256.6h.01M74.2 266.4h.01M76.7 263.4h.01M69.2 254.2h.01M67.5 249.3h.01M66.1 258.3h.01M65.2 247.4h.01M77.9 264.1h.01M79.8 272.4h.01M73.4 264.4h.01M65.6 253.1h.01M80.1 266.5h.01M72.8 273.1h.01M75.4 252.0h.01M77.2 247.4h.01M73.9 261.0h.01M69.1 250.4h.01M69.2 270.3h.01M65.9 247.6h.01M70.4 253.7h.01M80.1 266.0h.01M70.7 260.4h.01M73.0 257.2h.01M69.9 254.8h.01M70.7 254.0h.01M71.2 263.8h.01M65.2 253.8h.01M75.2 259.5h.01M71.3 263.2h.01M69.4 258.5h.01M74.2 260.3h.01M72.5 262.5h.01M78.8 257.1h.01M76.7 257.5h.01M67.0 254.2h.01M72.4 248.0h.01M79.6 261.2h.01M74.9 262.0h.01M74.5 259.9h.01M73.0 258.7h.01M69.7 261.7h.01M72.2 259.5h.01M68.6 251.0h.01M72.3 249.7h.01M78.6 260.8h.01M69.9 252.8h.01M72.1 260.3h.01M75.0 256.1h.01M65.9 251.4h.01M70.8 252.2h.01M77.5 256.2h.01M67.0 258.3h.01M69.4 254.0h.01M67.1 246.2h.01M67.7 244.1h.01M74.9 261.2h.01M80.7 264.0h.01M68.6 259.9h.01M68.7 259.9h.01M68.8 244.5h.01M69.6 253.4h.01M73.9 256.2h.01M72.5 258.9h.01M66.9 246.7h.01M67.6 244.4h.01M71.6 260.3h.01M69.6 251.5h.01M65.4 255.0h.01M76.4 248.8h.01M81.2 273.2h.01M68.6 254.1h.01M71.9 259.1h.01M69.4 257.0h.01M74.3 272.4h.01M70.8 252.5h.01M76.1 260.3h.01M71.9 257.4h.01M69.4 252.4h.01M68.8 250.2h.01M69.0 264.5h.01M70.8 251.7h.01M66.3 258.7h.01M68.2 254.7h.01M72.3 248.1h.01M72.2 261.8h.01M67.0 250.0h.01M68.9 250.5h.01M69.1 252.1h.01M70.0 255.4h.01M73.5 260.6h.01M71.3 252.1h.01M73.4 262.4h.01M71.7 254.7h.01M81.4 252.7h.01M74.1 259.8h.01M78.3 272.2h.01M74.2 256.3h.01M73.8 252.3h.01M71.5 252.4h.01M73.5 248.8h.01M69.5 255.9h.01M70.0 253.5h.01M67.5 251.9h.01M78.1 259.0h.01M64.9 245.5h.01M69.0 258.2h.01M69.8 259.3h.01M77.7 257.1h.01M72.2 255.5h.01M75.6 264.3h.01M72.9 251.7h.01M69.4 254.3h.01M70.7 252.5h.01M72.3 259.5h.01M72.6 253.2h.01M69.2 248.3h.01M67.6 256.4h.01M70.0 254.3h.01M76.2 257.3h.01M71.1 248.3h.01M75.4 258.8h.01M74.8 263.4h.01M70.8 258.9h.01M73.9 266.1h.01M77.5 269.9h.01M70.2 247.4h.01M69.2 265.8h.01M73.8 264.7h.01M74.8 262.5h.01M69.6 248.9h.01M75.4 254.9h.01M79.1 265.9h.01M74.3 259.1h.01M75.7 253.3h.01M65.3 259.4h.01M72.9 268.3h.01M76.3 263.0h.01M64.4 256.0h.01M74.2 255.9h.01M73.1 259.1h.01M71.7 256.7h.01M74.7 259.6h.01M69.3 256.8h.01M67.8 260.1h.01M75.1 248.5h.01M69.7 254.4h.01M70.8 258.6h.01M77.5 269.7h.01M73.3 253.7h.01M68.8 251.6h.01M77.0 258.1h.01M69.1 256.7h.01M79.1 259.8h.01M72.4 253.4h.01M76.0 254.1h.01M73.0 260.0h.01M69.2 260.9h.01M80.2 263.9h.01M72.7 258.6h.01M76.8 265.4h.01M71.5 256.2h.01M67.4 251.7h.01M71.2 265.4h.01M75.3 248.1h.01M68.6 260.7h.01M76.6 251.2h.01M70.6 264.3h.01M67.6 251.0h.01M71.5 251.0h.01M76.2 261.5h.01M72.0 253.3h.01M76.2 258.5h.01M67.2 251.9h.01M64.6 247.6h.01M82.2 261.2h.01M66.7 252.5h.01M72.6 259.6h.01M72.2 248.0h.01M68.7 242.1h.01M74.5 261.2h.01M75.1 251.0h.01M66.1 245.4h.01M66.9 244.2h.01M72.4 261.3h.01M72.5 257.6h.01M73.1 256.0h.01M71.5 255.4h.01M79.3 271.3h.01M69.8 256.9h.01M72.0 266.3h.01M79.1 258.6h.01M67.2 250.2h.01M68.1 261.9h.01M74.0 252.5h.01M74.9 268.3h.01M71.8 263.3h.01M69.9 257.0h.01M69.6 260.9h.01M72.6 261.0h.01M75.4 265.4h.01M66.3 253.6h.01M67.5 250.9h.01M71.0 259.3h.01M70.9 254.7h.01M77.4 263.9h.01M68.8 257.8h.01M74.8 268.4h.01M69.3 259.4h.01M70.2 251.7h.01M78.1 260.9h.01M76.2 260.9h.01M75.1 258.6h.01M73.7 252.9h.01M74.6 269.4h.01M76.4 257.7h.01M65.5 250.8h.01M76.0 247.9h.01M69.8 254.2h.01M74.7 261.4h.01M79.4 265.5h.01M74.5 248.0h.01M71.1 254.4h.01M70.9 261.7h.01M65.1 237.0h.01M80.1 262.8h.01M69.2 262.4h.01M75.1 260.7h.01M72.7 261.6h.01M66.7 253.2h.01M81.3 268.0h.01M72.7 268.8h.01M72.5 266.6h.01M72.9 256.8h.01M73.3 259.9h.01M64.5 262.3h.01M73.9 270.9h.01M67.7 251.6h.01M65.2 250.6h.01M74.5 270.8h.01M69.1 253.0h.01M76.2 263.6h.01M68.1 251.4h.01M68.1 260.6h.01M68.5 252.4h.01M77.1 258.3h.01M76.4 253.1h.01M68.1 261.5h.01M74.3 254.0h.01M65.5 242.6h.01M72.9 256.5h.01M72.7 257.3h.01M85.0 274.9h.01M65.1 252.5h.01M69.8 256.5h.01M69.5 243.4h.01M74.2 248.7h.01M66.6 248.4h.01M72.0 250.3h.01M70.4 256.1h.01M80.7 260.7h.01M72.5 261.1h.01M70.3 256.7h.01M76.0 256.8h.01M72.7 260.5h.01M73.7 265.0h.01M71.6 253.4h.01M65.6 244.4h.01M75.9 257.0h.01M67.1 261.3h.01M64.6 255.6h.01M66.1 249.1h.01M68.5 256.2h.01M69.3 259.9h.01M68.0 264.0h.01M69.2 244.4h.01M66.2 246.7h.01M72.5 249.6h.01M76.8 255.8h.01M68.5 259.9h.01M66.6 241.5h.01M78.6 261.2h.01M79.2 272.0h.01M74.1 253.0h.01M68.3 258.5h.01M73.3 256.3h.01M78.4 255.0h.01M79.3 256.8h.01M68.5 253.4h.01M75.1 266.4h.01M67.5 252.3h.01M66.9 246.4h.01M78.8 266.7h.01M71.2 261.5h.01M69.9 246.3h.01M70.7 255.3h.01M65.9 252.7h.01M72.3 265.1h.01M77.7 258.1h.01M80.5 269.5h.01M79.0 261.9h.01M76.4 251.7h.01M77.3 257.3h.01M73.4 254.3h.01M71.2 256.8h.01M64.5 251.6h.01M76.2 261.2h.01M77.1 274.6h.01M71.9 265.0h.01M72.2 250.8h.01M75.3 253.0h.01M71.5 269.8h.01M67.7 247.0h.01M69.3 257.4h.01M75.6 256.8h.01M68.0 257.2h.01M70.8 262.0h.01M67.0 261.1h.01M72.7 257.3h.01M70.7 262.5h.01M72.1 251.4h.01M65.2 261.4h.01M72.5 254.5h.01M66.9 260.8h.01M70.4 256.7h.01M65.9 238.8h.01M69.9 254.5h.01M64.7 267.2h.01M65.1 246.0h.01M72.5 259.3h.01M72.5 255.9h.01M79.0 258.2h.01M70.3 256.0h.01M81.4 264.3h.01M68.7 251.0h.01M66.8 256.8h.01M64.9 259.0h.01M66.2 248.2h.01M71.3 246.9h.01M71.8 256.6h.01M78.0 266.2h.01M65.9 246.1h.01M66.7 264.1h.01M68.8 254.3h.01M75.7 270.6h.01M69.1 255.3h.01M72.4 257.7h.01M70.0 248.6h.01M68.4 249.2h.01M65.9 248.6h.01M70.7 251.9h.01M69.0 259.5h.01M74.8 253.6h.01M70.0 265.3h.01M70.7 266.0h.01M73.3 257.5h.01M68.1 252.6h.01M66.3 253.8h.01M70.8 258.9h.01M73.8 252.1h.01M72.6 257.6h.01M76.5 270.1h.01M69.0 242.1h.01M70.8 255.5h.01M65.9 254.0h.01M69.8 258.7h.01M64.5 252.1h.01M69.9 253.8h.01M75.9 256.6h.01M68.9 258.5h.01M67.2 239.5h.01M78.2 271.3h.01M71.4 250.3h.01M78.6 253.5h.01M70.5 264.4h.01M74.9 257.9h.01M81.3 257.0h.01M73.4 263.8h.01M68.6 269.7h.01M70.4 254.6h.01M67.9 268.0h.01M81.2 259.3h.01M66.9 255.8h.01M71.9 258.8h.01M67.1 242.1h.01M71.7 250.9h.01M84.4 268.2h.01M72.4 259.5h.01M67.8 254.4h.01M65.3 251.2h.01M73.5 258.3h.01M67.0 258.2h.01M71.5 256.3h.01M73.5 254.4h.01M71.3 254.2h.01M73.9 263.7h.01M66.8 250.0h.01M66.9 263.1h.01M67.0 252.3h.01M69.9 249.8h.01M73.9 256.9h.01M76.4 255.3h.01M72.8 270.4h.01M75.7 259.9h.01M75.8 253.2h.01M73.6 260.4h.01M73.8 261.5h.01M74.8 255.8h.01M74.7 265.8h.01M81.4 264.4h.01M77.3 267.4h.01M79.4 280.8h.01M74.5 274.6h.01M87.3 268.9h.01M76.9 271.8h.01M72.5 267.7h.01M76.6 271.3h.01M74.5 274.8h.01M81.7 271.8h.01M80.0 264.4h.01M68.2 262.7h.01M79.3 277.6h.01M74.8 265.4h.01M71.8 270.2h.01M69.5 264.9h.01M82.4 277.3h.01M78.7 271.1h.01M75.9 272.8h.01M79.3 269.9h.01M75.6 272.0h.01M74.8 272.7h.01M72.8 271.2h.01M83.9 268.3h.01M84.5 274.4h.01M79.8 276.9h.01M80.8 268.1h.01M82.2 276.9h.01M75.7 269.3h.01M76.3 268.6h.01M72.8 272.7h.01M85.1 267.6h.01M77.1 269.5h.01M82.8 276.8h.01M80.7 276.6h.01M84.1 275.5h.01M81.4 276.5h.01M74.7 265.6h.01M83.7 276.5h.01M88.8 273.8h.01M70.7 270.7h.01M87.5 271.3h.01M77.2 268.6h.01M68.3 273.4h.01M75.4 277.0h.01M75.5 263.2h.01M72.1 265.4h.01M73.5 268.8h.01M75.6 277.1h.01M78.7 274.3h.01M78.7 271.1h.01M81.5 271.2h.01M76.1 272.0h.01M68.6 268.4h.01M72.9 270.6h.01M76.7 275.7h.01M81.5 273.2h.01M72.8 271.8h.01M83.4 273.3h.01M82.3 266.4h.01M74.8 266.4h.01M81.7 274.4h.01M88.1 269.5h.01M72.3 271.1h.01M74.0 267.2h.01M82.0 272.1h.01M74.3 274.4h.01M77.2 265.0h.01M76.6 270.6h.01M73.5 273.9h.01M79.8 274.3h.01M83.7 271.5h.01M76.7 271.1h.01M75.7 276.3h.01M72.6 264.2h.01M81.8 271.4h.01M69.2 271.7h.01M83.2 269.2h.01M70.8 272.5h.01M82.9 275.8h.01M76.4 274.3h.01M89.1 277.4h.01M82.9 277.4h.01M81.8 272.5h.01M81.0 276.2h.01M80.7 275.0h.01M76.2 270.6h.01M69.3 272.6h.01M80.9 268.1h.01M81.6 269.2h.01M81.9 280.3h.01M79.5 268.9h.01M75.7 271.7h.01M75.8 273.4h.01M66.5 273.7h.01M77.5 271.0h.01M86.6 277.6h.01M67.0 262.6h.01M83.9 271.2h.01M72.5 272.8h.01M77.4 272.6h.01M72.9 267.8h.01M76.9 271.9h.01M84.6 266.4h.01M72.9 266.6h.01M78.7 268.2h.01M78.4 275.6h.01M78.8 276.1h.01M77.8 263.7h.01M77.7 272.1h.01M73.8 269.2h.01M86.1 275.1h.01M71.1 263.9h.01M82.1 274.5h.01M70.3 268.0h.01M78.4 275.1h.01M83.2 281.9h.01M73.7 262.6h.01M77.4 274.9h.01M70.8 264.7h.01M79.5 271.5h.01M86.3 271.3h.01M94.8 279.3h.01M83.8 267.3h.01M81.1 279.3h.01M76.4 277.9h.01M83.2 277.5h.01M80.9 276.0h.01M66.8 267.4h.01M75.1 270.6h.01M75.4 265.2h.01M80.6 273.0h.01M77.9 274.8h.01M75.6 274.2h.01M83.0 268.8h.01M83.3 271.3h.01M80.3 270.0h.01M86.5 275.3h.01M69.8 267.6h.01M82.4 272.5h.01M66.8 259.2h.01M78.0 269.8h.01M83.3 274.7h.01M79.6 277.1h.01M80.2 274.5h.01M75.0 271.8h.01M89.0 269.5h.01M69.9 266.8h.01M85.2 273.2h.01M73.2 272.1h.01M77.6 270.8h.01M69.4 261.0h.01M80.9 269.5h.01M82.6 280.5h.01M83.4 267.6h.01M79.7 269.1h.01M80.0 275.3h.01M76.0 272.8h.01M79.0 273.3h.01M83.5 272.3h.01M85.4 278.4h.01M72.4 268.9h.01M77.9 263.1h.01M72.2 274.7h.01M81.9 272.4h.01M79.4 275.4h.01M70.5 275.1h.01M74.4 268.5h.01M71.4 270.5h.01M72.5 269.1h.01M72.2 274.1h.01M86.4 270.2h.01M69.2 263.3h.01M83.0 266.9h.01M72.2 269.0h.01M87.4 273.8h.01M76.1 273.2h.01M67.0 263.4h.01M84.1 277.1h.01M81.5 273.6h.01M76.0 269.4h.01M89.3 270.0h.01M86.1 273.0h.01M67.9 270.5h.01M72.8 271.2h.01M80.3 281.1h.01M74.2 261.8h.01M80.7 274.4h.01M76.4 267.5h.01M81.2 274.7h.01M75.3 273.7h.01M78.4 270.8h.01M70.3 266.2h.01M82.3 277.3h.01M85.4 272.7h.01M77.0 267.2h.01M72.9 268.1h.01M84.2 277.6h.01M80.3 274.0h.01M71.9 268.6h.01M82.5 272.5h.01M81.8 266.7h.01M87.8 272.4h.01M73.9 270.3h.01M90.9 272.2h.01M84.1 265.8h.01M68.9 262.0h.01M86.9 265.7h.01M79.8 268.1h.01M82.2 267.7h.01M73.6 271.3h.01M66.7 259.5h.01M91.0 274.9h.01M81.2 271.9h.01M80.3 271.7h.01M80.6 266.6h.01M88.1 271.1h.01M66.1 274.0h.01M84.8 270.5h.01M82.9 274.6h.01M69.9 273.8h.01M82.2 274.1h.01M85.3 265.1h.01M77.4 277.3h.01M86.4 267.3h.01M82.2 269.6h.01M80.6 268.7h.01M85.1 277.6h.01M79.7 271.0h.01M88.2 277.7h.01M80.4 269.4h.01M71.3 273.1h.01M84.1 273.1h.01M79.2 265.8h.01M73.9 266.2h.01M82.1 271.7h.01M78.5 268.5h.01M79.0 264.8h.01M89.9 274.8h.01M81.7 274.2h.01M73.1 275.6h.01M79.7 271.2h.01M85.3 269.7h.01M82.9 280.0h.01M75.5 272.6h.01M70.1 270.2h.01M80.5 265.4h.01M66.4 270.0h.01M75.9 269.8h.01M81.3 272.5h.01M77.3 272.4h.01M76.1 271.7h.01M74.2 274.0h.01M91.6 275.3h.01M76.6 276.6h.01M65.8 267.2h.01M71.2 267.2h.01M71.6 268.4h.01M86.4 270.1h.01M77.0 275.7h.01M81.8 275.4h.01M77.6 269.0h.01M75.5 268.9h.01M69.8 259.3h.01M74.9 271.2h.01M74.6 274.7h.01M85.8 273.7h.01M76.1 272.4h.01M74.9 269.4h.01M72.8 267.0h.01M82.0 270.5h.01M81.4 272.1h.01M78.7 272.7h.01M80.2 277.7h.01M86.7 274.2h.01M70.0 267.8h.01M76.9 271.3h.01M80.8 266.5h.01M81.6 271.0h.01M74.0 264.8h.01M79.6 269.5h.01M76.9 264.0h.01M82.3 271.2h.01M80.7 266.8h.01M74.7 271.7h.01M82.4 269.5h.01M76.7 276.4h.01M71.5 271.2h.01M68.5 269.6h.01M75.7 271.3h.01M77.6 270.2h.01M88.2 278.7h.01M78.1 267.3h.01M72.8 274.0h.01M78.3 268.1h.01M73.7 275.5h.01M78.9 267.7h.01M87.9 275.3h.01M69.0 263.4h.01M80.1 268.6h.01M75.2 277.7h.01M81.2 273.1h.01M70.8 264.2h.01M78.8 272.0h.01M84.4 276.3h.01M81.3 274.6h.01" stroke="#555" stroke-width="0.8" stroke-linecap="square" fill="none" opacity="0.32"/>
</g>
<line x1="63.70" y1="211.30" x2="63.70" y2="282.50" stroke="#222" stroke-width="1"/>
<line x1="63.20" y1="211.30" x2="136.20" y2="211.30" stroke="#222" stroke-width="1.2"/>
<line x1="136.20" y1="211.30" x2="136.20" y2="282.50" stroke="#333" stroke-width="0.9"/>
<line x1="63.70" y1="282.50" x2="136.20" y2="282.50" stroke="#222" stroke-width="1"/>
<line x1="63.30" y1="211.30" x2="63.30" y2="282.50" stroke="#222" stroke-width="1.0" stroke-dasharray="0.9 0.9"/>
<rect x="64.30" y="235.00" width="13.70" height="30.30" fill="none" stroke="#222" stroke-width="0.9"/>
<text class="sa" x="72.30" y="225.30" font-size="6.2" text-anchor="middle" fill="#111" textLength="11.80" lengthAdjust="spacingAndGlyphs">71.5</text>
<text class="sa" x="57.10" y="283.80" font-size="3" stroke="#000" stroke-width="0.32">10<tspan dy="-1.3" font-size="2.3">0</tspan></text>
<text class="sa" x="57.10" y="266.00" font-size="3" stroke="#000" stroke-width="0.32">10<tspan dy="-1.3" font-size="2.3">1</tspan></text>
<text class="sa" x="57.10" y="248.20" font-size="3" stroke="#000" stroke-width="0.32">10<tspan dy="-1.3" font-size="2.3">2</tspan></text>
<text class="sa" x="57.10" y="230.40" font-size="3" stroke="#000" stroke-width="0.32">10<tspan dy="-1.3" font-size="2.3">3</tspan></text>
<text class="sa" x="57.10" y="212.60" font-size="3" stroke="#000" stroke-width="0.32">10<tspan dy="-1.3" font-size="2.3">4</tspan></text>
<text class="sa" x="62.30" y="289.70" font-size="3" stroke="#000" stroke-width="0.32">10<tspan dy="-1.3" font-size="2.3">0</tspan></text>
<line x1="64.70" y1="282.50" x2="64.70" y2="283.90" stroke="#222" stroke-width="0.7"/>
<text class="sa" x="80.17" y="289.70" font-size="3" stroke="#000" stroke-width="0.32">10<tspan dy="-1.3" font-size="2.3">1</tspan></text>
<line x1="82.58" y1="282.50" x2="82.58" y2="283.90" stroke="#222" stroke-width="0.7"/>
<text class="sa" x="98.05" y="289.70" font-size="3" stroke="#000" stroke-width="0.32">10<tspan dy="-1.3" font-size="2.3">2</tspan></text>
<line x1="100.45" y1="282.50" x2="100.45" y2="283.90" stroke="#222" stroke-width="0.7"/>
<text class="sa" x="115.92" y="289.70" font-size="3" stroke="#000" stroke-width="0.32">10<tspan dy="-1.3" font-size="2.3">3</tspan></text>
<line x1="118.32" y1="282.50" x2="118.32" y2="283.90" stroke="#222" stroke-width="0.7"/>
<text class="sa" x="133.80" y="289.70" font-size="3" stroke="#000" stroke-width="0.32">10<tspan dy="-1.3" font-size="2.3">4</tspan></text>
<line x1="136.20" y1="282.50" x2="136.20" y2="283.90" stroke="#222" stroke-width="0.7"/>
<clipPath id="c6"><rect x="144.8" y="211.8" width="72.29999999999998" height="70.69999999999999"/></clipPath><g clip-path="url(#c6)">
<ellipse cx="152" cy="257" rx="7" ry="9" transform="rotate(-15 152 257)" fill="#777" opacity="0.5" filter="url(#bl)"/>
<ellipse cx="154" cy="272" rx="9" ry="6" transform="rotate(0 154 272)" fill="#888" opacity="0.38" filter="url(#bl)"/>
<path d="M152.5 266.6h.01M145.7 268.3h.01M154.2 249.6h.01M152.6 269.5h.01M148.2 259.6h.01M150.9 267.0h.01M152.4 253.7h.01M153.5 261.5h.01M151.8 253.9h.01M151.6 264.7h.01M155.7 247.5h.01M156.1 245.6h.01M152.3 258.5h.01M155.6 260.4h.01M156.5 255.5h.01M150.6 263.0h.01M148.6 252.6h.01M151.6 247.2h.01M150.0 250.1h.01M158.5 268.8h.01M154.7 273.5h.01M152.3 255.4h.01M152.9 260.2h.01M149.8 259.2h.01M145.2 248.4h.01M152.6 249.8h.01M156.8 262.6h.01M148.2 263.5h.01M152.4 268.9h.01M150.2 253.4h.01M153.4 251.5h.01M156.4 262.1h.01M152.2 249.5h.01M149.6 254.4h.01M150.8 252.5h.01M149.0 256.6h.01M156.5 262.5h.01M149.8 254.2h.01M148.6 262.5h.01M152.9 254.5h.01M157.8 265.4h.01M146.9 259.0h.01M152.1 260.2h.01M154.7 256.6h.01M148.6 248.9h.01M152.6 257.4h.01M153.1 259.2h.01M149.7 261.6h.01M148.4 246.2h.01M158.6 250.8h.01M152.6 269.7h.01M148.8 264.4h.01M150.1 255.2h.01M148.1 261.1h.01M146.9 256.4h.01M152.0 266.6h.01M155.4 251.4h.01M155.9 258.6h.01M147.8 252.9h.01M156.0 248.8h.01M148.8 249.1h.01M151.3 255.5h.01M145.4 253.2h.01M150.1 254.4h.01M151.6 265.1h.01M151.0 257.4h.01M154.2 256.9h.01M149.9 252.6h.01M147.7 250.8h.01M151.8 241.7h.01M148.6 257.1h.01M155.9 268.6h.01M150.3 245.0h.01M147.3 256.1h.01M149.5 243.9h.01M154.4 252.2h.01M150.9 245.6h.01M150.4 262.2h.01M155.4 264.4h.01M153.3 251.8h.01M154.4 258.8h.01M157.3 256.5h.01M156.1 277.9h.01M147.9 255.2h.01M148.1 254.5h.01M148.6 260.7h.01M155.5 260.4h.01M155.0 252.2h.01M153.1 254.1h.01M156.3 261.6h.01M156.0 272.5h.01M153.3 261.2h.01M153.6 256.7h.01M152.2 257.6h.01M152.6 260.9h.01M151.7 264.1h.01M150.9 264.6h.01M149.5 254.0h.01M145.8 249.5h.01M149.8 262.6h.01M146.7 253.0h.01M150.1 256.3h.01M161.4 267.7h.01M147.8 257.0h.01M155.8 257.7h.01M154.0 259.3h.01M147.0 255.9h.01M145.3 254.2h.01M152.7 254.2h.01M153.4 259.6h.01M151.3 254.1h.01M147.1 256.4h.01M151.7 263.8h.01M149.6 253.5h.01M154.4 258.8h.01M153.4 247.6h.01M150.5 258.2h.01M150.9 248.1h.01M149.3 267.3h.01M155.8 261.8h.01M154.1 275.5h.01M153.7 254.5h.01M151.0 244.5h.01M148.8 255.5h.01M149.2 241.5h.01M145.0 246.2h.01M156.9 257.9h.01M145.5 258.6h.01M153.3 251.3h.01M145.8 243.2h.01M146.6 259.8h.01M152.4 263.6h.01M147.7 271.7h.01M151.8 270.8h.01M148.2 252.5h.01M150.7 251.3h.01M153.1 250.4h.01M152.0 257.9h.01M156.1 259.2h.01M154.4 262.0h.01M149.3 260.2h.01M159.7 253.0h.01M152.5 254.4h.01M150.5 253.8h.01M148.7 256.3h.01M147.9 257.3h.01M147.7 250.8h.01M156.1 263.8h.01M153.9 261.9h.01M151.9 250.6h.01M153.7 260.5h.01M153.8 256.6h.01M149.7 251.3h.01M157.6 254.6h.01M153.4 254.7h.01M145.1 252.5h.01M150.5 250.7h.01M148.9 256.6h.01M150.6 248.8h.01M151.3 252.0h.01M146.3 253.0h.01M148.7 260.9h.01M151.5 253.6h.01M161.1 268.9h.01M145.5 261.9h.01M145.1 253.7h.01M149.3 263.6h.01M148.7 258.7h.01M149.9 265.0h.01M153.3 262.7h.01M149.4 255.3h.01M156.0 271.5h.01M150.4 259.9h.01M146.0 264.9h.01M145.5 257.6h.01M153.2 252.9h.01M145.3 253.7h.01M155.9 249.8h.01M148.9 238.3h.01M150.0 248.6h.01M148.2 255.5h.01M147.3 260.2h.01M156.5 267.1h.01M150.3 253.4h.01M154.6 265.1h.01M148.3 255.4h.01M149.7 261.4h.01M148.3 240.4h.01M153.8 264.2h.01M151.9 262.9h.01M150.6 248.4h.01M152.7 254.5h.01M150.6 237.8h.01M153.7 258.3h.01M148.4 252.8h.01M153.4 262.1h.01M154.3 265.9h.01M147.8 266.3h.01M164.3 263.5h.01M153.3 261.5h.01M157.4 251.2h.01M156.5 255.8h.01M151.3 260.1h.01M154.3 257.3h.01M153.4 265.8h.01M152.4 266.3h.01M149.9 243.6h.01M150.4 256.4h.01M150.7 246.4h.01M150.9 255.2h.01M156.8 262.7h.01M152.2 255.7h.01M149.4 258.5h.01M160.1 260.7h.01M161.0 257.3h.01M148.0 248.9h.01M151.6 243.3h.01M152.1 260.2h.01M154.6 260.7h.01M154.7 263.0h.01M151.2 258.9h.01M148.4 254.5h.01M158.2 252.2h.01M156.5 264.5h.01M148.1 258.1h.01M148.9 260.8h.01M149.9 247.4h.01M153.4 263.0h.01M149.6 254.6h.01M159.2 260.9h.01M150.5 248.0h.01M148.0 247.7h.01M151.5 249.1h.01M155.5 268.9h.01M158.3 249.7h.01M157.1 262.1h.01M154.0 261.6h.01M154.5 261.5h.01M152.1 257.0h.01M147.9 262.9h.01M150.5 254.4h.01M155.3 262.0h.01M150.4 256.6h.01M149.0 257.9h.01M152.8 249.5h.01M148.4 257.2h.01M155.1 253.6h.01M146.6 246.4h.01M150.5 258.5h.01M155.7 257.1h.01M155.5 259.2h.01M152.0 249.0h.01M159.4 259.0h.01M156.9 263.7h.01M149.3 252.2h.01M154.6 254.5h.01M146.9 249.8h.01M146.8 250.5h.01M158.0 260.3h.01M156.4 261.9h.01M150.2 254.1h.01M145.6 256.5h.01M151.0 256.9h.01M150.3 260.0h.01M148.1 247.2h.01M147.8 243.7h.01M151.9 267.5h.01M148.5 262.1h.01M160.6 259.3h.01M153.4 262.5h.01M158.8 262.7h.01M147.4 251.6h.01M146.2 253.6h.01M154.1 262.1h.01M148.3 259.4h.01M157.3 258.8h.01M148.8 264.2h.01M157.6 260.1h.01M160.2 255.1h.01M162.5 256.1h.01M156.4 265.8h.01M155.1 253.8h.01M155.1 249.5h.01M151.1 256.9h.01M151.4 249.8h.01M147.4 243.8h.01M159.9 262.5h.01M147.8 257.6h.01M151.0 267.7h.01M148.3 263.6h.01M153.5 256.6h.01M156.0 260.4h.01M148.2 252.7h.01M157.7 259.9h.01M149.5 246.0h.01M154.1 266.1h.01M147.7 269.4h.01M152.1 258.6h.01M152.3 252.3h.01M156.1 260.4h.01M154.4 247.9h.01M158.3 258.8h.01M149.9 256.3h.01M148.7 248.8h.01M145.7 263.7h.01M148.3 261.2h.01M157.4 257.9h.01M156.3 261.6h.01M163.3 261.0h.01M150.1 250.0h.01M150.7 262.1h.01M147.5 264.8h.01M148.5 257.8h.01M158.0 256.5h.01M152.1 256.2h.01M147.5 259.6h.01M150.6 259.1h.01M147.0 246.9h.01M159.2 264.7h.01M154.2 259.5h.01M156.9 261.9h.01M156.2 248.6h.01M148.3 256.6h.01M151.3 253.3h.01M152.2 260.2h.01M160.4 255.9h.01M151.0 250.1h.01M156.7 262.2h.01M154.1 261.7h.01M160.1 258.8h.01M152.5 261.5h.01M145.8 244.6h.01M155.3 259.8h.01M155.1 258.7h.01M150.1 255.3h.01M152.2 255.4h.01M149.2 264.9h.01M156.4 259.4h.01M159.2 257.4h.01M155.8 266.5h.01M150.0 267.9h.01M145.7 254.9h.01M148.5 265.8h.01M153.0 253.3h.01M150.6 252.4h.01M156.6 254.6h.01M147.4 258.4h.01M148.9 258.0h.01M151.9 254.3h.01M151.8 255.4h.01M153.7 259.5h.01M150.7 254.7h.01M155.3 238.3h.01M150.4 251.5h.01M148.5 261.2h.01M153.1 258.8h.01M147.5 259.4h.01M153.4 247.0h.01M146.0 259.1h.01M156.6 261.0h.01M150.0 251.7h.01M158.4 259.9h.01M146.8 255.3h.01M153.7 255.3h.01M148.7 245.9h.01M153.5 253.1h.01M154.0 259.0h.01M151.9 253.0h.01M153.1 250.2h.01M151.7 267.2h.01M161.9 254.5h.01M153.4 258.3h.01M149.2 261.4h.01M146.6 264.0h.01M152.5 273.9h.01M157.1 260.9h.01M152.1 255.4h.01M155.8 253.4h.01M151.4 252.7h.01M152.9 260.2h.01M156.3 261.8h.01M157.2 254.3h.01M145.2 265.4h.01M151.7 263.2h.01M158.6 261.8h.01M154.5 264.0h.01M145.6 257.8h.01M153.8 258.9h.01M146.0 258.1h.01M155.0 251.9h.01M150.0 248.9h.01M152.6 261.4h.01M152.0 268.4h.01M148.0 264.2h.01M150.3 247.4h.01M151.2 255.1h.01M155.0 250.4h.01M146.1 261.5h.01M155.7 258.0h.01M145.6 249.2h.01M154.2 269.5h.01M147.3 253.7h.01M145.8 261.3h.01M151.0 259.3h.01M147.3 262.9h.01M153.2 263.9h.01M149.2 251.6h.01M152.4 259.0h.01M156.7 266.8h.01M156.7 256.2h.01M148.5 260.1h.01M151.3 257.0h.01M152.9 255.3h.01M150.1 253.3h.01M152.2 253.5h.01M158.0 262.5h.01M150.4 262.9h.01M152.4 262.9h.01M153.7 249.4h.01M156.6 265.7h.01M149.1 272.7h.01M149.5 255.9h.01M155.4 265.6h.01M155.0 249.7h.01M156.3 254.9h.01M150.2 257.9h.01M150.0 249.3h.01M147.9 247.3h.01M145.2 257.0h.01M153.5 266.6h.01M162.4 267.5h.01M152.5 262.1h.01M155.5 260.3h.01M155.8 264.0h.01M161.8 257.4h.01M146.3 253.9h.01M163.7 249.1h.01M150.1 249.2h.01M150.6 259.6h.01M146.4 263.4h.01M161.2 258.4h.01M155.5 253.0h.01M145.8 260.0h.01M154.9 251.4h.01M154.2 267.9h.01M148.3 245.6h.01M152.6 264.8h.01M151.0 261.1h.01M148.4 257.8h.01M149.8 257.9h.01M154.6 258.3h.01M150.4 246.6h.01M150.9 254.4h.01M151.1 254.9h.01M148.8 251.9h.01M150.4 261.4h.01M149.5 245.4h.01M146.7 249.2h.01M151.5 263.7h.01M147.4 270.0h.01M147.4 258.9h.01M158.5 256.8h.01M150.1 256.1h.01M151.9 251.9h.01M151.5 253.5h.01M147.3 265.2h.01M149.9 256.0h.01M147.7 256.4h.01M153.9 251.0h.01M153.7 244.0h.01M146.6 246.1h.01M149.4 260.2h.01M147.1 256.9h.01M149.9 264.7h.01M149.3 242.8h.01M151.3 257.9h.01M146.0 249.0h.01M151.9 259.6h.01M149.4 259.8h.01M147.3 256.6h.01M156.1 265.4h.01M145.8 248.9h.01M146.6 256.1h.01M152.9 249.2h.01M150.4 250.6h.01M155.5 258.2h.01M147.3 269.7h.01M150.5 256.9h.01M152.3 256.4h.01M153.4 254.4h.01M155.0 259.6h.01M151.4 263.5h.01M145.0 254.2h.01M154.0 264.4h.01M149.6 252.1h.01M161.4 261.9h.01M162.7 262.2h.01M149.1 273.3h.01M155.4 265.3h.01M163.6 272.5h.01M152.1 272.1h.01M158.2 269.1h.01M160.6 272.9h.01M146.9 269.5h.01M157.8 272.5h.01M150.1 273.7h.01M146.1 266.0h.01M153.8 269.8h.01M154.6 270.6h.01M159.2 279.9h.01M153.4 272.7h.01M154.4 269.4h.01M150.9 266.9h.01M164.3 270.9h.01M157.8 264.3h.01M159.3 272.9h.01M158.4 275.6h.01M156.2 267.2h.01M159.1 272.6h.01M167.3 269.8h.01M156.9 276.8h.01M155.4 281.0h.01M170.3 272.8h.01M160.7 275.5h.01M152.3 265.6h.01M164.0 276.0h.01M153.7 266.8h.01M148.5 262.0h.01M161.8 272.8h.01M155.3 263.1h.01M150.6 270.0h.01M148.0 269.1h.01M152.3 257.2h.01M159.3 266.8h.01M146.3 272.5h.01M153.0 268.7h.01M162.4 262.3h.01M156.6 274.5h.01M159.2 265.4h.01M158.3 278.5h.01M149.9 266.2h.01M159.9 270.4h.01M154.5 278.0h.01M151.5 273.5h.01M147.7 254.6h.01M155.5 273.5h.01M153.0 277.6h.01M156.2 272.9h.01M157.8 265.1h.01M163.9 278.1h.01M164.8 277.3h.01M164.5 275.7h.01M164.2 272.8h.01M151.4 271.8h.01M162.3 267.4h.01M155.8 275.6h.01M160.1 277.1h.01M162.0 276.6h.01M157.6 267.0h.01M147.7 261.5h.01M150.8 260.1h.01M154.1 264.9h.01M151.8 265.3h.01M161.0 267.6h.01M150.8 277.1h.01M153.9 276.7h.01M153.3 268.7h.01M157.6 263.5h.01M165.9 280.0h.01M153.2 275.0h.01M157.7 268.0h.01M166.6 266.7h.01M155.7 274.8h.01M154.5 272.0h.01M147.6 267.7h.01M156.7 263.9h.01M150.6 266.0h.01M154.3 270.7h.01M153.8 261.6h.01M156.3 276.4h.01M156.1 268.1h.01M155.9 272.9h.01M147.1 276.4h.01M154.1 279.0h.01M151.6 264.5h.01M157.3 275.1h.01M159.2 271.5h.01M158.0 271.4h.01M163.2 270.9h.01M160.5 268.1h.01M155.1 266.3h.01M154.3 267.3h.01M146.4 273.4h.01M158.6 273.2h.01M171.0 262.4h.01M158.8 271.2h.01M163.3 268.4h.01M153.0 264.4h.01M160.7 280.0h.01M151.2 270.1h.01M157.8 267.2h.01M145.2 273.7h.01M147.6 273.5h.01M164.5 268.9h.01M148.6 268.1h.01M155.9 264.2h.01M154.1 274.0h.01M159.9 276.3h.01M146.4 264.2h.01M155.2 269.1h.01M161.5 264.6h.01M166.0 276.8h.01M160.7 269.1h.01M145.8 261.5h.01M161.9 270.0h.01M167.6 273.1h.01M147.1 274.3h.01M154.4 270.1h.01M160.3 263.6h.01M148.3 275.7h.01M146.7 262.7h.01M147.3 262.4h.01M152.9 266.8h.01M148.7 265.8h.01M157.8 259.6h.01M152.9 268.2h.01M156.7 269.0h.01M159.1 271.7h.01M153.8 268.0h.01M147.8 270.3h.01M156.7 264.7h.01M159.6 277.6h.01M147.3 277.2h.01M163.5 275.9h.01M154.8 278.0h.01M154.0 272.6h.01M152.3 263.0h.01M159.9 277.2h.01M147.3 268.3h.01M151.5 264.5h.01M153.3 274.4h.01M165.2 273.6h.01M156.6 273.5h.01M150.0 270.0h.01M152.6 270.6h.01M154.2 270.7h.01M157.4 277.0h.01M154.0 262.0h.01M162.7 275.2h.01M152.4 274.6h.01M162.8 265.2h.01M150.0 263.0h.01M166.3 262.7h.01M149.5 270.7h.01M163.3 276.6h.01M158.4 273.5h.01M163.1 273.3h.01M154.5 270.9h.01M159.8 273.7h.01M157.4 266.1h.01M156.6 273.2h.01M148.9 265.3h.01M158.8 273.7h.01M154.5 268.6h.01M156.5 267.9h.01M152.9 260.8h.01M154.5 277.8h.01M151.5 266.5h.01M159.1 274.2h.01M170.5 270.0h.01M159.2 265.4h.01M150.6 265.8h.01M155.5 272.3h.01M157.7 266.2h.01M156.1 264.4h.01M152.2 263.7h.01M154.3 271.4h.01M169.8 268.6h.01M159.6 271.8h.01M154.0 266.5h.01M148.7 269.6h.01M151.7 269.0h.01M161.8 263.2h.01M165.3 268.0h.01M159.9 272.4h.01M154.9 272.0h.01M164.5 271.5h.01M162.9 280.4h.01M156.7 266.1h.01M153.5 271.4h.01M162.2 261.8h.01M154.8 266.9h.01M167.0 267.1h.01M159.8 271.0h.01M161.7 279.3h.01M154.2 263.4h.01M164.8 268.0h.01M157.0 273.5h.01M146.3 265.7h.01M157.4 267.2h.01M167.7 265.4h.01M161.3 267.9h.01M156.5 266.5h.01M159.1 275.9h.01M159.4 270.0h.01M148.9 259.8h.01M145.6 268.4h.01M150.4 269.4h.01M147.6 272.2h.01M165.6 271.7h.01M149.2 262.4h.01M150.5 274.2h.01M151.5 261.4h.01M172.6 280.1h.01M165.3 268.0h.01M160.8 266.1h.01M152.6 272.3h.01M148.3 268.5h.01M147.2 272.7h.01M153.1 270.0h.01M157.1 265.7h.01M151.7 265.1h.01M161.4 275.9h.01M155.2 273.6h.01M149.7 267.5h.01M158.6 262.6h.01M155.1 281.2h.01M161.3 271.2h.01M164.2 274.8h.01M162.3 275.7h.01M163.0 266.9h.01M155.0 273.7h.01M153.8 269.8h.01M152.8 267.0h.01M163.7 269.1h.01M165.2 274.5h.01M146.2 264.5h.01M151.4 276.0h.01M154.3 273.9h.01M164.2 272.7h.01M151.0 269.9h.01M161.4 270.5h.01M161.0 267.4h.01M147.2 266.2h.01M157.6 262.7h.01M157.5 267.2h.01M146.1 269.8h.01M165.2 264.3h.01M171.8 272.8h.01M150.4 270.5h.01M156.2 257.8h.01M152.5 270.3h.01M153.2 264.3h.01M158.9 271.9h.01M155.0 266.8h.01M147.5 267.1h.01M165.1 273.4h.01M162.4 263.2h.01M156.8 263.5h.01M158.7 271.6h.01M157.8 275.9h.01M152.9 274.9h.01M156.3 266.5h.01M153.6 273.0h.01M151.7 272.5h.01M157.1 266.6h.01M161.4 267.9h.01M160.6 265.9h.01M163.2 278.9h.01M157.4 272.4h.01M147.0 275.7h.01M151.3 272.2h.01M169.3 273.9h.01M157.8 272.6h.01M152.0 266.4h.01M163.8 267.6h.01M153.7 262.9h.01M157.2 265.1h.01M154.7 268.4h.01M155.5 266.4h.01M154.0 275.2h.01M162.0 273.8h.01" stroke="#555" stroke-width="0.8" stroke-linecap="square" fill="none" opacity="0.32"/>
</g>
<line x1="144.50" y1="211.30" x2="144.50" y2="282.50" stroke="#333" stroke-width="1"/>
<line x1="217.50" y1="211.30" x2="217.50" y2="282.50" stroke="#444" stroke-width="0.8"/>
<line x1="144.50" y1="282.50" x2="217.60" y2="282.50" stroke="#333" stroke-width="1"/>
<rect x="144.60" y="235.00" width="14.70" height="30.30" fill="none" stroke="#222" stroke-width="0.9"/>
<text class="sa" x="152.80" y="225.30" font-size="6.2" text-anchor="middle" fill="#111" textLength="11.80" lengthAdjust="spacingAndGlyphs">74.7</text>
<text class="sa" x="143.10" y="289.70" font-size="3" stroke="#000" stroke-width="0.32">10<tspan dy="-1.3" font-size="2.3">0</tspan></text>
<line x1="145.50" y1="282.50" x2="145.50" y2="283.90" stroke="#222" stroke-width="0.7"/>
<text class="sa" x="161.12" y="289.70" font-size="3" stroke="#000" stroke-width="0.32">10<tspan dy="-1.3" font-size="2.3">1</tspan></text>
<line x1="163.53" y1="282.50" x2="163.53" y2="283.90" stroke="#222" stroke-width="0.7"/>
<text class="sa" x="179.15" y="289.70" font-size="3" stroke="#000" stroke-width="0.32">10<tspan dy="-1.3" font-size="2.3">2</tspan></text>
<line x1="181.55" y1="282.50" x2="181.55" y2="283.90" stroke="#222" stroke-width="0.7"/>
<text class="sa" x="197.17" y="289.70" font-size="3" stroke="#000" stroke-width="0.32">10<tspan dy="-1.3" font-size="2.3">3</tspan></text>
<line x1="199.57" y1="282.50" x2="199.57" y2="283.90" stroke="#222" stroke-width="0.7"/>
<text class="sa" x="215.20" y="289.70" font-size="3" stroke="#000" stroke-width="0.32">10<tspan dy="-1.3" font-size="2.3">4</tspan></text>
<line x1="217.60" y1="282.50" x2="217.60" y2="283.90" stroke="#222" stroke-width="0.7"/>
<rect x="29.30" y="330.00" width="48.90" height="99.30" fill="none" stroke="#555" stroke-width="0.9"/>
<text class="se" x="25.30" y="431.21" font-size="5.8" stroke-width="0.14" text-anchor="end" textLength="2.60" lengthAdjust="spacingAndGlyphs">0</text>
<text class="se" x="25.30" y="421.28" font-size="5.8" stroke-width="0.14" text-anchor="end" textLength="5.20" lengthAdjust="spacingAndGlyphs">10</text>
<text class="se" x="25.30" y="411.35" font-size="5.8" stroke-width="0.14" text-anchor="end" textLength="5.20" lengthAdjust="spacingAndGlyphs">20</text>
<text class="se" x="25.30" y="401.42" font-size="5.8" stroke-width="0.14" text-anchor="end" textLength="5.20" lengthAdjust="spacingAndGlyphs">30</text>
<text class="se" x="25.30" y="391.49" font-size="5.8" stroke-width="0.14" text-anchor="end" textLength="5.20" lengthAdjust="spacingAndGlyphs">40</text>
<text class="se" x="25.30" y="381.56" font-size="5.8" stroke-width="0.14" text-anchor="end" textLength="5.20" lengthAdjust="spacingAndGlyphs">50</text>
<text class="se" x="25.30" y="371.63" font-size="5.8" stroke-width="0.14" text-anchor="end" textLength="5.20" lengthAdjust="spacingAndGlyphs">60</text>
<text class="se" x="25.30" y="361.70" font-size="5.8" stroke-width="0.14" text-anchor="end" textLength="5.20" lengthAdjust="spacingAndGlyphs">70</text>
<text class="se" x="25.30" y="351.77" font-size="5.8" stroke-width="0.14" text-anchor="end" textLength="5.20" lengthAdjust="spacingAndGlyphs">80</text>
<text class="se" x="25.30" y="341.84" font-size="5.8" stroke-width="0.14" text-anchor="end" textLength="5.20" lengthAdjust="spacingAndGlyphs">90</text>
<text class="se" x="25.30" y="331.91" font-size="5.8" stroke-width="0.14" text-anchor="end" textLength="7.80" lengthAdjust="spacingAndGlyphs">100</text>
<rect x="32.60" y="356.80" width="19.20" height="72.50" fill="#fff" stroke="#000" stroke-width="1.1"/>
<line x1="41.80" y1="356.80" x2="41.80" y2="350.50" stroke="#222" stroke-width="0.9"/>
<line x1="40.50" y1="350.50" x2="43.10" y2="350.50" stroke="#222" stroke-width="0.9"/>
<rect x="57.00" y="346.30" width="19.10" height="83.00" fill="#000" stroke="#000" stroke-width="1.1"/>
<line x1="66.50" y1="346.30" x2="66.50" y2="342.50" stroke="#222" stroke-width="0.9"/>
<line x1="65.20" y1="342.50" x2="67.80" y2="342.50" stroke="#222" stroke-width="0.9"/>
<text class="se" x="13.00" y="378.50" font-size="7.2" stroke-width="0.23" text-anchor="middle" textLength="25.00" lengthAdjust="spacingAndGlyphs" transform="rotate(-90 13.00 378.50)">%CD4+</text>
<text class="se" x="25.00" y="440.80" font-size="9.3" stroke-width="0.42" textLength="50.50" lengthAdjust="spacingAndGlyphs">CD3/28 KT32</text>
<text class="se" x="28.30" y="449.80" font-size="9" stroke-width="0.40" textLength="20.50" lengthAdjust="spacingAndGlyphs">beads</text>
<rect x="106.40" y="330.10" width="50.80" height="99.20" fill="none" stroke="#555" stroke-width="0.9"/>
<text class="se" x="103.20" y="431.21" font-size="5.8" stroke-width="0.14" text-anchor="end" textLength="2.90" lengthAdjust="spacingAndGlyphs">0</text>
<text class="se" x="103.20" y="421.29" font-size="5.8" stroke-width="0.14" text-anchor="end" textLength="5.80" lengthAdjust="spacingAndGlyphs">10</text>
<text class="se" x="103.20" y="411.37" font-size="5.8" stroke-width="0.14" text-anchor="end" textLength="5.80" lengthAdjust="spacingAndGlyphs">20</text>
<text class="se" x="103.20" y="401.45" font-size="5.8" stroke-width="0.14" text-anchor="end" textLength="5.80" lengthAdjust="spacingAndGlyphs">30</text>
<text class="se" x="103.20" y="391.53" font-size="5.8" stroke-width="0.14" text-anchor="end" textLength="5.80" lengthAdjust="spacingAndGlyphs">40</text>
<text class="se" x="103.20" y="381.61" font-size="5.8" stroke-width="0.14" text-anchor="end" textLength="5.80" lengthAdjust="spacingAndGlyphs">50</text>
<text class="se" x="103.20" y="371.69" font-size="5.8" stroke-width="0.14" text-anchor="end" textLength="5.80" lengthAdjust="spacingAndGlyphs">60</text>
<text class="se" x="103.20" y="361.77" font-size="5.8" stroke-width="0.14" text-anchor="end" textLength="5.80" lengthAdjust="spacingAndGlyphs">70</text>
<text class="se" x="103.20" y="351.85" font-size="5.8" stroke-width="0.14" text-anchor="end" textLength="5.80" lengthAdjust="spacingAndGlyphs">80</text>
<text class="se" x="103.20" y="341.93" font-size="5.8" stroke-width="0.14" text-anchor="end" textLength="5.80" lengthAdjust="spacingAndGlyphs">90</text>
<text class="se" x="103.20" y="332.01" font-size="5.8" stroke-width="0.14" text-anchor="end" textLength="8.70" lengthAdjust="spacingAndGlyphs">100</text>
<rect x="108.90" y="387.90" width="20.70" height="41.40" fill="#fff" stroke="#000" stroke-width="1.1"/>
<line x1="119.20" y1="387.90" x2="119.20" y2="377.80" stroke="#222" stroke-width="0.9"/>
<line x1="117.90" y1="377.80" x2="120.50" y2="377.80" stroke="#222" stroke-width="0.9"/>
<rect x="134.50" y="370.60" width="20.00" height="58.70" fill="#000" stroke="#000" stroke-width="1.1"/>
<line x1="144.40" y1="370.60" x2="144.40" y2="363.40" stroke="#222" stroke-width="0.9"/>
<line x1="143.10" y1="363.40" x2="145.70" y2="363.40" stroke="#222" stroke-width="0.9"/>
<text class="se" x="90.30" y="375.50" font-size="7.4" stroke-width="0.24" text-anchor="middle" textLength="59.40" lengthAdjust="spacingAndGlyphs" transform="rotate(-90 90.30 375.50)">%CD25+, Foxp3+</text>
<text class="se" x="103.20" y="441.00" font-size="9.3" stroke-width="0.42" textLength="49.50" lengthAdjust="spacingAndGlyphs">CD3/28 KT32</text>
<text class="se" x="107.30" y="449.60" font-size="9" stroke-width="0.40" textLength="19.20" lengthAdjust="spacingAndGlyphs">beads</text>
<rect x="183.80" y="329.20" width="53.50" height="100.10" fill="none" stroke="#555" stroke-width="0.9"/>
<text class="se" x="181.20" y="430.82" font-size="4.6" stroke-width="0.05" text-anchor="end" textLength="2.10" lengthAdjust="spacingAndGlyphs">0</text>
<text class="se" x="181.20" y="420.81" font-size="4.6" stroke-width="0.05" text-anchor="end" textLength="4.20" lengthAdjust="spacingAndGlyphs">10</text>
<text class="se" x="181.20" y="410.80" font-size="4.6" stroke-width="0.05" text-anchor="end" textLength="4.20" lengthAdjust="spacingAndGlyphs">20</text>
<text class="se" x="181.20" y="400.79" font-size="4.6" stroke-width="0.05" text-anchor="end" textLength="4.20" lengthAdjust="spacingAndGlyphs">30</text>
<text class="se" x="181.20" y="390.78" font-size="4.6" stroke-width="0.05" text-anchor="end" textLength="4.20" lengthAdjust="spacingAndGlyphs">40</text>
<text class="se" x="181.20" y="380.77" font-size="4.6" stroke-width="0.05" text-anchor="end" textLength="4.20" lengthAdjust="spacingAndGlyphs">50</text>
<text class="se" x="181.20" y="370.76" font-size="4.6" stroke-width="0.05" text-anchor="end" textLength="4.20" lengthAdjust="spacingAndGlyphs">60</text>
<text class="se" x="181.20" y="360.75" font-size="4.6" stroke-width="0.05" text-anchor="end" textLength="4.20" lengthAdjust="spacingAndGlyphs">70</text>
<text class="se" x="181.20" y="350.74" font-size="4.6" stroke-width="0.05" text-anchor="end" textLength="4.20" lengthAdjust="spacingAndGlyphs">80</text>
<text class="se" x="181.20" y="340.73" font-size="4.6" stroke-width="0.05" text-anchor="end" textLength="4.20" lengthAdjust="spacingAndGlyphs">90</text>
<text class="se" x="181.20" y="330.72" font-size="4.6" stroke-width="0.05" text-anchor="end" textLength="6.30" lengthAdjust="spacingAndGlyphs">100</text>
<rect x="185.90" y="386.30" width="21.90" height="43.00" fill="#fff" stroke="#000" stroke-width="1.1"/>
<line x1="197.70" y1="386.30" x2="197.70" y2="374.50" stroke="#222" stroke-width="0.9"/>
<line x1="196.40" y1="374.50" x2="199.00" y2="374.50" stroke="#222" stroke-width="0.9"/>
<rect x="213.50" y="363.00" width="20.70" height="66.30" fill="#000" stroke="#000" stroke-width="1.1"/>
<line x1="223.40" y1="363.00" x2="223.40" y2="353.00" stroke="#222" stroke-width="0.9"/>
<line x1="222.10" y1="353.00" x2="224.70" y2="353.00" stroke="#222" stroke-width="0.9"/>
<text class="se" x="170.00" y="379.50" font-size="7.2" stroke-width="0.23" text-anchor="middle" textLength="67.00" lengthAdjust="spacingAndGlyphs" transform="rotate(-90 170.00 379.50)">%CD127-, Foxp3+</text>
<text class="se" x="183.80" y="441.40" font-size="9.6" stroke-width="0.43" textLength="50.40" lengthAdjust="spacingAndGlyphs">CD3/28 KT32</text>
<text class="se" x="187.80" y="450.00" font-size="9" stroke-width="0.40" textLength="19.50" lengthAdjust="spacingAndGlyphs">beads</text>
<text class="sa" x="257.30" y="12.60" font-size="16.5">B</text>
<rect x="308.70" y="6.40" width="208.10" height="103.20" fill="none" stroke="#8c8c8c" stroke-width="1.2"/>
<text class="se" x="302.90" y="112.90" font-size="7.8" stroke-width="0.25" text-anchor="end" textLength="4.20" lengthAdjust="spacingAndGlyphs">0</text>
<line x1="306.70" y1="109.90" x2="308.70" y2="109.90" stroke="#888" stroke-width="0.8"/>
<text class="se" x="302.90" y="92.10" font-size="7.8" stroke-width="0.25" text-anchor="end" textLength="12.60" lengthAdjust="spacingAndGlyphs">100</text>
<line x1="306.70" y1="89.10" x2="308.70" y2="89.10" stroke="#888" stroke-width="0.8"/>
<text class="se" x="302.90" y="71.30" font-size="7.8" stroke-width="0.25" text-anchor="end" textLength="12.60" lengthAdjust="spacingAndGlyphs">200</text>
<line x1="306.70" y1="68.30" x2="308.70" y2="68.30" stroke="#888" stroke-width="0.8"/>
<text class="se" x="302.90" y="50.50" font-size="7.8" stroke-width="0.25" text-anchor="end" textLength="12.60" lengthAdjust="spacingAndGlyphs">300</text>
<line x1="306.70" y1="47.50" x2="308.70" y2="47.50" stroke="#888" stroke-width="0.8"/>
<text class="se" x="302.90" y="29.70" font-size="7.8" stroke-width="0.25" text-anchor="end" textLength="12.60" lengthAdjust="spacingAndGlyphs">400</text>
<line x1="306.70" y1="26.70" x2="308.70" y2="26.70" stroke="#888" stroke-width="0.8"/>
<text class="se" x="302.90" y="8.90" font-size="7.8" stroke-width="0.25" text-anchor="end" textLength="12.60" lengthAdjust="spacingAndGlyphs">500</text>
<line x1="306.70" y1="5.90" x2="308.70" y2="5.90" stroke="#888" stroke-width="0.8"/>
<text class="se" x="320.00" y="125.00" font-size="7.4" stroke-width="0.24" text-anchor="middle">0</text>
<text class="se" x="343.15" y="125.00" font-size="7.4" stroke-width="0.24" text-anchor="middle">4</text>
<text class="se" x="366.30" y="125.00" font-size="7.4" stroke-width="0.24" text-anchor="middle">6</text>
<text class="se" x="389.45" y="125.00" font-size="7.4" stroke-width="0.24" text-anchor="middle">8</text>
<text class="se" x="412.60" y="125.00" font-size="7.4" stroke-width="0.24" text-anchor="middle">11</text>
<text class="se" x="435.75" y="125.00" font-size="7.4" stroke-width="0.24" text-anchor="middle">13</text>
<text class="se" x="458.90" y="125.00" font-size="7.4" stroke-width="0.24" text-anchor="middle">15</text>
<text class="se" x="482.05" y="125.00" font-size="7.4" stroke-width="0.24" text-anchor="middle">18</text>
<text class="se" x="505.20" y="125.00" font-size="7.4" stroke-width="0.24" text-anchor="middle">21</text>
<text class="se" x="410.80" y="134.00" font-size="10.8" stroke-width="0.35" text-anchor="middle" textLength="17.60" lengthAdjust="spacingAndGlyphs">Day</text>
<text class="se" x="284.80" y="57.60" font-size="10.7" stroke-width="0.34" text-anchor="middle" textLength="107.00" lengthAdjust="spacingAndGlyphs" transform="rotate(-90 284.80 57.60)">Fold Expansion (Total)</text>
<polyline points="320.0,109.6 343.1,109.4 366.3,108.6 389.4,105.8 412.6,93.7 435.8,89.7 458.9,63.3 482.0,56.5 505.2,35.0" fill="none" stroke="#111" stroke-width="1.8" stroke-linejoin="round"/>
<polyline points="320.0,109.6 343.1,109.5 366.3,109.0 389.4,107.7 412.6,102.3 435.8,90.7 458.9,81.6 482.0,56.5 505.2,47.9" fill="none" stroke="#111" stroke-width="1.8" stroke-linejoin="round"/>
<polygon points="316.5,109.6 320.0,106.1 323.5,109.6 320.0,113.1" fill="#000"/>
<polygon points="339.6,109.4 343.1,105.9 346.6,109.4 343.1,112.9" fill="#000"/>
<polygon points="362.8,108.6 366.3,105.1 369.8,108.6 366.3,112.1" fill="#000"/>
<polygon points="385.9,105.8 389.4,102.3 392.9,105.8 389.4,109.3" fill="#000"/>
<polygon points="409.1,93.7 412.6,90.2 416.1,93.7 412.6,97.2" fill="#000"/>
<polygon points="432.2,89.7 435.8,86.2 439.2,89.7 435.8,93.2" fill="#000"/>
<polygon points="455.4,63.3 458.9,59.8 462.4,63.3 458.9,66.8" fill="#000"/>
<polygon points="478.5,56.5 482.0,53.0 485.5,56.5 482.0,60.0" fill="#000"/>
<polygon points="501.7,35.0 505.2,31.5 508.7,35.0 505.2,38.5" fill="#000"/>
<circle cx="320.0" cy="109.6" r="3.2" fill="#000"/>
<circle cx="343.1" cy="109.5" r="3.2" fill="#000"/>
<circle cx="366.3" cy="109.0" r="3.2" fill="#000"/>
<circle cx="389.4" cy="107.7" r="3.2" fill="#000"/>
<circle cx="412.6" cy="102.3" r="3.2" fill="#000"/>
<circle cx="435.8" cy="90.7" r="3.2" fill="#000"/>
<circle cx="458.9" cy="81.6" r="3.2" fill="#000"/>
<circle cx="482.0" cy="56.5" r="3.2" fill="#000"/>
<circle cx="505.2" cy="47.9" r="3.2" fill="#000"/>
<line x1="332.10" y1="25.40" x2="346.00" y2="25.40" stroke="#111" stroke-width="1.4"/>
<polygon points="336.8,25.4 339.1,23.1 341.4,25.4 339.1,27.7" fill="#000"/>
<text class="se" x="348.30" y="28.40" font-size="8.3" stroke-width="0.27" textLength="34.80" lengthAdjust="spacingAndGlyphs">3/28 beads</text>
<line x1="332.10" y1="43.50" x2="346.00" y2="43.50" stroke="#111" stroke-width="1.4"/>
<circle cx="339.1" cy="43.5" r="2.4" fill="#000"/>
<text class="se" x="348.30" y="46.40" font-size="8.3" stroke-width="0.27" textLength="19.00" lengthAdjust="spacingAndGlyphs">KT32</text>
<rect x="315.80" y="151.40" width="80.80" height="138.40" fill="none" stroke="#222" stroke-width="1"/>
<text class="se" x="311.90" y="291.38" font-size="6.6" stroke-width="0.17" text-anchor="end" textLength="3.50" lengthAdjust="spacingAndGlyphs">0</text>
<line x1="314.30" y1="289.80" x2="315.80" y2="289.80" stroke="#222" stroke-width="0.7"/>
<text class="se" x="311.90" y="274.08" font-size="6.6" stroke-width="0.17" text-anchor="end" textLength="7.00" lengthAdjust="spacingAndGlyphs">50</text>
<line x1="314.30" y1="272.50" x2="315.80" y2="272.50" stroke="#222" stroke-width="0.7"/>
<text class="se" x="311.90" y="256.78" font-size="6.6" stroke-width="0.17" text-anchor="end" textLength="10.50" lengthAdjust="spacingAndGlyphs">100</text>
<line x1="314.30" y1="255.20" x2="315.80" y2="255.20" stroke="#222" stroke-width="0.7"/>
<text class="se" x="311.90" y="239.48" font-size="6.6" stroke-width="0.17" text-anchor="end" textLength="10.50" lengthAdjust="spacingAndGlyphs">150</text>
<line x1="314.30" y1="237.90" x2="315.80" y2="237.90" stroke="#222" stroke-width="0.7"/>
<text class="se" x="311.90" y="222.18" font-size="6.6" stroke-width="0.17" text-anchor="end" textLength="10.50" lengthAdjust="spacingAndGlyphs">200</text>
<line x1="314.30" y1="220.60" x2="315.80" y2="220.60" stroke="#222" stroke-width="0.7"/>
<text class="se" x="311.90" y="204.88" font-size="6.6" stroke-width="0.17" text-anchor="end" textLength="10.50" lengthAdjust="spacingAndGlyphs">250</text>
<line x1="314.30" y1="203.30" x2="315.80" y2="203.30" stroke="#222" stroke-width="0.7"/>
<text class="se" x="311.90" y="187.58" font-size="6.6" stroke-width="0.17" text-anchor="end" textLength="10.50" lengthAdjust="spacingAndGlyphs">300</text>
<line x1="314.30" y1="186.00" x2="315.80" y2="186.00" stroke="#222" stroke-width="0.7"/>
<text class="se" x="311.90" y="170.28" font-size="6.6" stroke-width="0.17" text-anchor="end" textLength="10.50" lengthAdjust="spacingAndGlyphs">350</text>
<line x1="314.30" y1="168.70" x2="315.80" y2="168.70" stroke="#222" stroke-width="0.7"/>
<text class="se" x="311.90" y="152.98" font-size="6.6" stroke-width="0.17" text-anchor="end" textLength="10.50" lengthAdjust="spacingAndGlyphs">400</text>
<line x1="314.30" y1="151.40" x2="315.80" y2="151.40" stroke="#222" stroke-width="0.7"/>
<rect x="319.80" y="193.60" width="31.90" height="96.20" fill="#fff" stroke="#000" stroke-width="1.4"/>
<line x1="335.90" y1="193.60" x2="335.90" y2="160.20" stroke="#222" stroke-width="0.9"/>
<line x1="334.00" y1="160.20" x2="337.80" y2="160.20" stroke="#222" stroke-width="0.9"/>
<rect x="360.70" y="222.20" width="30.50" height="67.60" fill="#000" stroke="#000" stroke-width="1.4"/>
<line x1="375.90" y1="222.20" x2="375.90" y2="212.20" stroke="#222" stroke-width="0.9"/>
<line x1="374.00" y1="212.20" x2="377.80" y2="212.20" stroke="#222" stroke-width="0.9"/>
<line x1="314.30" y1="289.80" x2="397.10" y2="289.80" stroke="#111" stroke-width="1.5"/>
<text class="se" x="294.60" y="221.10" font-size="8.7" stroke-width="0.28" text-anchor="middle" textLength="95.50" lengthAdjust="spacingAndGlyphs" transform="rotate(-90 294.60 221.10)">Fold Expansion (Total)</text>
<text class="se" x="318.60" y="301.70" font-size="11.8" stroke-width="0.38" textLength="34.60" lengthAdjust="spacingAndGlyphs">CD3/28</text>
<text class="se" x="362.50" y="301.70" font-size="11.8" stroke-width="0.38" textLength="26.20" lengthAdjust="spacingAndGlyphs">KT32</text>
<text class="se" x="323.20" y="313.20" font-size="10.6" stroke-width="0.34" textLength="25.80" lengthAdjust="spacingAndGlyphs">beads</text>
<rect x="438.20" y="152.60" width="67.80" height="137.70" fill="none" stroke="#222" stroke-width="1"/>
<text class="se" x="434.30" y="291.98" font-size="5.1" stroke-width="0.13" text-anchor="end" textLength="2.53" lengthAdjust="spacingAndGlyphs">0</text>
<line x1="436.70" y1="290.30" x2="438.20" y2="290.30" stroke="#222" stroke-width="0.7"/>
<text class="se" x="434.30" y="272.31" font-size="5.1" stroke-width="0.13" text-anchor="end" textLength="5.07" lengthAdjust="spacingAndGlyphs">50</text>
<line x1="436.70" y1="270.63" x2="438.20" y2="270.63" stroke="#222" stroke-width="0.7"/>
<text class="se" x="434.30" y="252.64" font-size="5.1" stroke-width="0.13" text-anchor="end" textLength="7.60" lengthAdjust="spacingAndGlyphs">100</text>
<line x1="436.70" y1="250.96" x2="438.20" y2="250.96" stroke="#222" stroke-width="0.7"/>
<text class="se" x="434.30" y="232.97" font-size="5.1" stroke-width="0.13" text-anchor="end" textLength="7.60" lengthAdjust="spacingAndGlyphs">150</text>
<line x1="436.70" y1="231.29" x2="438.20" y2="231.29" stroke="#222" stroke-width="0.7"/>
<text class="se" x="434.30" y="213.30" font-size="5.1" stroke-width="0.13" text-anchor="end" textLength="7.60" lengthAdjust="spacingAndGlyphs">200</text>
<line x1="436.70" y1="211.61" x2="438.20" y2="211.61" stroke="#222" stroke-width="0.7"/>
<text class="se" x="434.30" y="193.63" font-size="5.1" stroke-width="0.13" text-anchor="end" textLength="7.60" lengthAdjust="spacingAndGlyphs">250</text>
<line x1="436.70" y1="191.94" x2="438.20" y2="191.94" stroke="#222" stroke-width="0.7"/>
<text class="se" x="434.30" y="173.95" font-size="5.1" stroke-width="0.13" text-anchor="end" textLength="7.60" lengthAdjust="spacingAndGlyphs">300</text>
<line x1="436.70" y1="172.27" x2="438.20" y2="172.27" stroke="#222" stroke-width="0.7"/>
<text class="se" x="434.30" y="154.28" font-size="5.1" stroke-width="0.13" text-anchor="end" textLength="7.60" lengthAdjust="spacingAndGlyphs">350</text>
<line x1="436.70" y1="152.60" x2="438.20" y2="152.60" stroke="#222" stroke-width="0.7"/>
<rect x="441.60" y="211.30" width="26.80" height="79.00" fill="#fff" stroke="#000" stroke-width="1.4"/>
<line x1="454.80" y1="211.30" x2="454.80" y2="186.20" stroke="#222" stroke-width="0.9"/>
<line x1="452.90" y1="186.20" x2="456.70" y2="186.20" stroke="#222" stroke-width="0.9"/>
<rect x="475.70" y="187.60" width="26.00" height="102.70" fill="#000" stroke="#000" stroke-width="1.4"/>
<line x1="488.60" y1="187.60" x2="488.60" y2="169.90" stroke="#222" stroke-width="0.9"/>
<line x1="486.70" y1="169.90" x2="490.50" y2="169.90" stroke="#222" stroke-width="0.9"/>
<line x1="436.70" y1="290.30" x2="506.50" y2="290.30" stroke="#111" stroke-width="1.5"/>
<text class="se" x="421.00" y="222.30" font-size="8.5" stroke-width="0.27" text-anchor="middle" textLength="91.00" lengthAdjust="spacingAndGlyphs" transform="rotate(-90 421.00 222.30)">Fold Expansion (Treg)</text>
<text class="se" x="436.10" y="302.50" font-size="11.8" stroke-width="0.38" textLength="64.80" lengthAdjust="spacingAndGlyphs">CD3/28 KT32</text>
<text class="se" x="440.80" y="314.00" font-size="11.2" stroke-width="0.36" textLength="26.20" lengthAdjust="spacingAndGlyphs">beads</text>
<text class="sa" x="322.70" y="343.60" font-size="18" textLength="11.60" lengthAdjust="spacingAndGlyphs">D</text>
<rect x="373.90" y="334.50" width="80.70" height="136.30" fill="none" stroke="#222" stroke-width="1"/>
<text class="se" x="370.30" y="472.88" font-size="6.3" stroke-width="0.16" text-anchor="end" textLength="3.33" lengthAdjust="spacingAndGlyphs">0</text>
<line x1="372.40" y1="470.80" x2="373.90" y2="470.80" stroke="#222" stroke-width="0.7"/>
<text class="se" x="370.30" y="459.25" font-size="6.3" stroke-width="0.16" text-anchor="end" textLength="6.67" lengthAdjust="spacingAndGlyphs">10</text>
<line x1="372.40" y1="457.17" x2="373.90" y2="457.17" stroke="#222" stroke-width="0.7"/>
<text class="se" x="370.30" y="445.62" font-size="6.3" stroke-width="0.16" text-anchor="end" textLength="6.67" lengthAdjust="spacingAndGlyphs">20</text>
<line x1="372.40" y1="443.54" x2="373.90" y2="443.54" stroke="#222" stroke-width="0.7"/>
<text class="se" x="370.30" y="431.99" font-size="6.3" stroke-width="0.16" text-anchor="end" textLength="6.67" lengthAdjust="spacingAndGlyphs">30</text>
<line x1="372.40" y1="429.91" x2="373.90" y2="429.91" stroke="#222" stroke-width="0.7"/>
<text class="se" x="370.30" y="418.36" font-size="6.3" stroke-width="0.16" text-anchor="end" textLength="6.67" lengthAdjust="spacingAndGlyphs">40</text>
<line x1="372.40" y1="416.28" x2="373.90" y2="416.28" stroke="#222" stroke-width="0.7"/>
<text class="se" x="370.30" y="404.73" font-size="6.3" stroke-width="0.16" text-anchor="end" textLength="6.67" lengthAdjust="spacingAndGlyphs">50</text>
<line x1="372.40" y1="402.65" x2="373.90" y2="402.65" stroke="#222" stroke-width="0.7"/>
<text class="se" x="370.30" y="391.10" font-size="6.3" stroke-width="0.16" text-anchor="end" textLength="6.67" lengthAdjust="spacingAndGlyphs">60</text>
<line x1="372.40" y1="389.02" x2="373.90" y2="389.02" stroke="#222" stroke-width="0.7"/>
<text class="se" x="370.30" y="377.47" font-size="6.3" stroke-width="0.16" text-anchor="end" textLength="6.67" lengthAdjust="spacingAndGlyphs">70</text>
<line x1="372.40" y1="375.39" x2="373.90" y2="375.39" stroke="#222" stroke-width="0.7"/>
<text class="se" x="370.30" y="363.84" font-size="6.3" stroke-width="0.16" text-anchor="end" textLength="6.67" lengthAdjust="spacingAndGlyphs">80</text>
<line x1="372.40" y1="361.76" x2="373.90" y2="361.76" stroke="#222" stroke-width="0.7"/>
<text class="se" x="370.30" y="350.21" font-size="6.3" stroke-width="0.16" text-anchor="end" textLength="6.67" lengthAdjust="spacingAndGlyphs">90</text>
<line x1="372.40" y1="348.13" x2="373.90" y2="348.13" stroke="#222" stroke-width="0.7"/>
<text class="se" x="370.30" y="336.58" font-size="6.3" stroke-width="0.16" text-anchor="end" textLength="10.00" lengthAdjust="spacingAndGlyphs">100</text>
<line x1="372.40" y1="334.50" x2="373.90" y2="334.50" stroke="#222" stroke-width="0.7"/>
<rect x="378.70" y="391.70" width="31.90" height="79.10" fill="#fff" stroke="#000" stroke-width="1.4"/>
<line x1="394.60" y1="391.70" x2="394.60" y2="376.30" stroke="#222" stroke-width="0.9"/>
<line x1="392.70" y1="376.30" x2="396.50" y2="376.30" stroke="#222" stroke-width="0.9"/>
<rect x="419.20" y="366.20" width="31.40" height="104.60" fill="#000" stroke="#000" stroke-width="1.4"/>
<line x1="434.60" y1="366.20" x2="434.60" y2="356.90" stroke="#222" stroke-width="0.9"/>
<line x1="432.70" y1="356.90" x2="436.50" y2="356.90" stroke="#222" stroke-width="0.9"/>
<line x1="372.40" y1="470.80" x2="455.10" y2="470.80" stroke="#111" stroke-width="1.5"/>
<text class="se" x="353.30" y="403.30" font-size="9.2" stroke-width="0.29" text-anchor="middle" textLength="94.40" lengthAdjust="spacingAndGlyphs" transform="rotate(-90 353.30 403.30)">% suppression (@1:4)</text>
<text class="se" x="432.50" y="352.00" font-size="12" stroke-width="0.60" text-anchor="middle">*</text>
<text class="se" x="375.00" y="486.30" font-size="11.6" stroke-width="0.37" textLength="35.00" lengthAdjust="spacingAndGlyphs">CD3/28</text>
<text class="se" x="420.60" y="486.30" font-size="11.6" stroke-width="0.37" textLength="26.20" lengthAdjust="spacingAndGlyphs">KT32</text>
<text class="se" x="380.20" y="498.80" font-size="11" stroke-width="0.35" textLength="25.60" lengthAdjust="spacingAndGlyphs">beads</text>
<text class="sa" x="0.10" y="481.60" font-size="17.8">C</text>
<rect x="57.80" y="482.50" width="242.40" height="146.70" fill="none" stroke="#aaa" stroke-width="0.9"/>
<text class="se" x="52.00" y="631.90" font-size="7.2" stroke-width="0.23" text-anchor="end" textLength="3.60" lengthAdjust="spacingAndGlyphs">0</text>
<line x1="56.00" y1="629.20" x2="57.80" y2="629.20" stroke="#999" stroke-width="0.8"/>
<text class="se" x="52.00" y="617.23" font-size="7.2" stroke-width="0.23" text-anchor="end" textLength="7.20" lengthAdjust="spacingAndGlyphs">10</text>
<line x1="56.00" y1="614.53" x2="57.80" y2="614.53" stroke="#999" stroke-width="0.8"/>
<text class="se" x="52.00" y="602.56" font-size="7.2" stroke-width="0.23" text-anchor="end" textLength="7.20" lengthAdjust="spacingAndGlyphs">20</text>
<line x1="56.00" y1="599.86" x2="57.80" y2="599.86" stroke="#999" stroke-width="0.8"/>
<text class="se" x="52.00" y="587.89" font-size="7.2" stroke-width="0.23" text-anchor="end" textLength="7.20" lengthAdjust="spacingAndGlyphs">30</text>
<line x1="56.00" y1="585.19" x2="57.80" y2="585.19" stroke="#999" stroke-width="0.8"/>
<text class="se" x="52.00" y="573.22" font-size="7.2" stroke-width="0.23" text-anchor="end" textLength="7.20" lengthAdjust="spacingAndGlyphs">40</text>
<line x1="56.00" y1="570.52" x2="57.80" y2="570.52" stroke="#999" stroke-width="0.8"/>
<text class="se" x="52.00" y="558.55" font-size="7.2" stroke-width="0.23" text-anchor="end" textLength="7.20" lengthAdjust="spacingAndGlyphs">50</text>
<line x1="56.00" y1="555.85" x2="57.80" y2="555.85" stroke="#999" stroke-width="0.8"/>
<text class="se" x="52.00" y="543.88" font-size="7.2" stroke-width="0.23" text-anchor="end" textLength="7.20" lengthAdjust="spacingAndGlyphs">60</text>
<line x1="56.00" y1="541.18" x2="57.80" y2="541.18" stroke="#999" stroke-width="0.8"/>
<text class="se" x="52.00" y="529.21" font-size="7.2" stroke-width="0.23" text-anchor="end" textLength="7.20" lengthAdjust="spacingAndGlyphs">70</text>
<line x1="56.00" y1="526.51" x2="57.80" y2="526.51" stroke="#999" stroke-width="0.8"/>
<text class="se" x="52.00" y="514.54" font-size="7.2" stroke-width="0.23" text-anchor="end" textLength="7.20" lengthAdjust="spacingAndGlyphs">80</text>
<line x1="56.00" y1="511.84" x2="57.80" y2="511.84" stroke="#999" stroke-width="0.8"/>
<text class="se" x="52.00" y="499.87" font-size="7.2" stroke-width="0.23" text-anchor="end" textLength="7.20" lengthAdjust="spacingAndGlyphs">90</text>
<line x1="56.00" y1="497.17" x2="57.80" y2="497.17" stroke="#999" stroke-width="0.8"/>
<text class="se" x="52.00" y="485.20" font-size="7.2" stroke-width="0.23" text-anchor="end" textLength="10.80" lengthAdjust="spacingAndGlyphs">100</text>
<line x1="56.00" y1="482.50" x2="57.80" y2="482.50" stroke="#999" stroke-width="0.8"/>
<text class="se" x="74.80" y="643.90" font-size="7.3" stroke-width="0.23" text-anchor="middle" textLength="8.40" lengthAdjust="spacingAndGlyphs">1:1</text>
<text class="se" x="109.48" y="643.90" font-size="7.3" stroke-width="0.23" text-anchor="middle" textLength="8.40" lengthAdjust="spacingAndGlyphs">1:2</text>
<text class="se" x="144.16" y="643.90" font-size="7.3" stroke-width="0.23" text-anchor="middle" textLength="8.40" lengthAdjust="spacingAndGlyphs">1:4</text>
<text class="se" x="178.84" y="643.90" font-size="7.3" stroke-width="0.23" text-anchor="middle" textLength="8.40" lengthAdjust="spacingAndGlyphs">1:8</text>
<text class="se" x="213.52" y="643.90" font-size="7.3" stroke-width="0.23" text-anchor="middle" textLength="12.40" lengthAdjust="spacingAndGlyphs">1:16</text>
<text class="se" x="248.20" y="643.90" font-size="7.3" stroke-width="0.23" text-anchor="middle" textLength="12.40" lengthAdjust="spacingAndGlyphs">1:32</text>
<text class="se" x="282.88" y="643.90" font-size="7.3" stroke-width="0.23" text-anchor="middle" textLength="12.40" lengthAdjust="spacingAndGlyphs">1:64</text>
<text class="se" x="32.50" y="555.40" font-size="13.5" stroke-width="0.43" text-anchor="middle" textLength="94.50" lengthAdjust="spacingAndGlyphs" transform="rotate(-90 32.50 555.40)">% Suppression</text>
<text class="se" x="132.40" y="656.90" font-size="14.2" stroke-width="0.45" textLength="91.80" lengthAdjust="spacingAndGlyphs">Treg:Responder</text>
<polyline points="74.8,550.2 109.5,547.8 144.2,570.1 178.8,571.3 213.5,591.7 248.2,614.8 282.9,628.6" fill="none" stroke="#555" stroke-width="1.1" stroke-linejoin="round"/>
<polyline points="74.8,498.5 109.5,500.4 144.2,510.8 178.8,534.4 213.5,533.8 248.2,551.4 282.9,571.4" fill="none" stroke="#555" stroke-width="1.1" stroke-linejoin="round"/>
<polyline points="74.8,518.5 109.5,511.3 144.2,515.2 178.8,540.7 213.5,551.7 248.2,572.6 282.9,600.6" fill="none" stroke="#555" stroke-width="1.1" stroke-linejoin="round"/>
<polyline points="74.8,497.5 109.5,493.4 144.2,506.2 178.8,512.2 213.5,526.8 248.2,550.8 282.9,580.9" fill="none" stroke="#555" stroke-width="1.1" stroke-linejoin="round"/>
<polygon points="71.5,550.2 74.8,546.9 78.1,550.2 74.8,553.5" fill="#000"/>
<polygon points="106.2,547.8 109.5,544.5 112.8,547.8 109.5,551.1" fill="#000"/>
<polygon points="140.9,570.1 144.2,566.8 147.5,570.1 144.2,573.4" fill="#000"/>
<polygon points="175.5,571.3 178.8,568.0 182.1,571.3 178.8,574.6" fill="#000"/>
<polygon points="210.2,591.7 213.5,588.4 216.8,591.7 213.5,595.0" fill="#000"/>
<polygon points="244.9,614.8 248.2,611.5 251.5,614.8 248.2,618.1" fill="#000"/>
<polygon points="279.6,628.6 282.9,625.3 286.2,628.6 282.9,631.9" fill="#000"/>
<circle cx="74.8" cy="498.5" r="3.0" fill="#000"/>
<circle cx="109.5" cy="500.4" r="3.0" fill="#000"/>
<circle cx="144.2" cy="510.8" r="3.0" fill="#000"/>
<circle cx="178.8" cy="534.4" r="3.0" fill="#000"/>
<circle cx="213.5" cy="533.8" r="3.0" fill="#000"/>
<circle cx="248.2" cy="551.4" r="3.0" fill="#000"/>
<circle cx="282.9" cy="571.4" r="3.0" fill="#000"/>
<rect x="72.0" y="515.7" width="5.6" height="5.6" fill="#000"/>
<rect x="106.7" y="508.5" width="5.6" height="5.6" fill="#000"/>
<rect x="141.4" y="512.4" width="5.6" height="5.6" fill="#000"/>
<rect x="176.0" y="537.9" width="5.6" height="5.6" fill="#000"/>
<rect x="210.7" y="548.9" width="5.6" height="5.6" fill="#000"/>
<rect x="245.4" y="569.8" width="5.6" height="5.6" fill="#000"/>
<rect x="280.1" y="597.8" width="5.6" height="5.6" fill="#000"/>
<polygon points="71.6,500.4 78.0,500.4 74.8,493.7" fill="#000"/>
<polygon points="106.3,496.3 112.7,496.3 109.5,489.6" fill="#000"/>
<polygon points="141.0,509.1 147.4,509.1 144.2,502.4" fill="#000"/>
<polygon points="175.6,515.1 182.0,515.1 178.8,508.4" fill="#000"/>
<polygon points="210.3,529.7 216.7,529.7 213.5,523.0" fill="#000"/>
<polygon points="245.0,553.7 251.4,553.7 248.2,547.0" fill="#000"/>
<polygon points="279.7,583.8 286.1,583.8 282.9,577.1" fill="#000"/>
<text class="se" x="119.60" y="502.80" font-size="12" stroke-width="0.38" text-anchor="middle" fill="#222">*</text>
<line x1="68.70" y1="583.70" x2="79.60" y2="583.70" stroke="#444" stroke-width="0.9"/>
<polygon points="71.1,583.1 74.3,579.9 77.5,583.1 74.3,586.3" fill="#000"/>
<text class="se" x="82.90" y="586.80" font-size="10.6" stroke-width="0.34" textLength="44.50" lengthAdjust="spacingAndGlyphs">3/28 beads</text>
<line x1="68.70" y1="595.40" x2="79.60" y2="595.40" stroke="#444" stroke-width="0.9"/>
<circle cx="74.3" cy="595.4" r="2.85" fill="#000"/>
<text class="se" x="82.90" y="598.50" font-size="10.6" stroke-width="0.34" textLength="24.50" lengthAdjust="spacingAndGlyphs">KT32</text>
<line x1="68.70" y1="608.60" x2="79.60" y2="608.60" stroke="#444" stroke-width="0.9"/>
<rect x="71.8" y="606.1" width="5.1" height="5.1" fill="#000"/>
<text class="se" x="82.90" y="611.70" font-size="10.6" stroke-width="0.34" textLength="58.50" lengthAdjust="spacingAndGlyphs">KT32-41BBL</text>
<line x1="68.70" y1="621.50" x2="79.60" y2="621.50" stroke="#444" stroke-width="0.9"/>
<polygon points="71.2,624.3 77.4,624.3 74.3,617.8" fill="#000"/>
<text class="se" x="82.90" y="624.60" font-size="10.6" stroke-width="0.34" textLength="60.50" lengthAdjust="spacingAndGlyphs">KT32-OX40L</text>
</svg></body></html>
